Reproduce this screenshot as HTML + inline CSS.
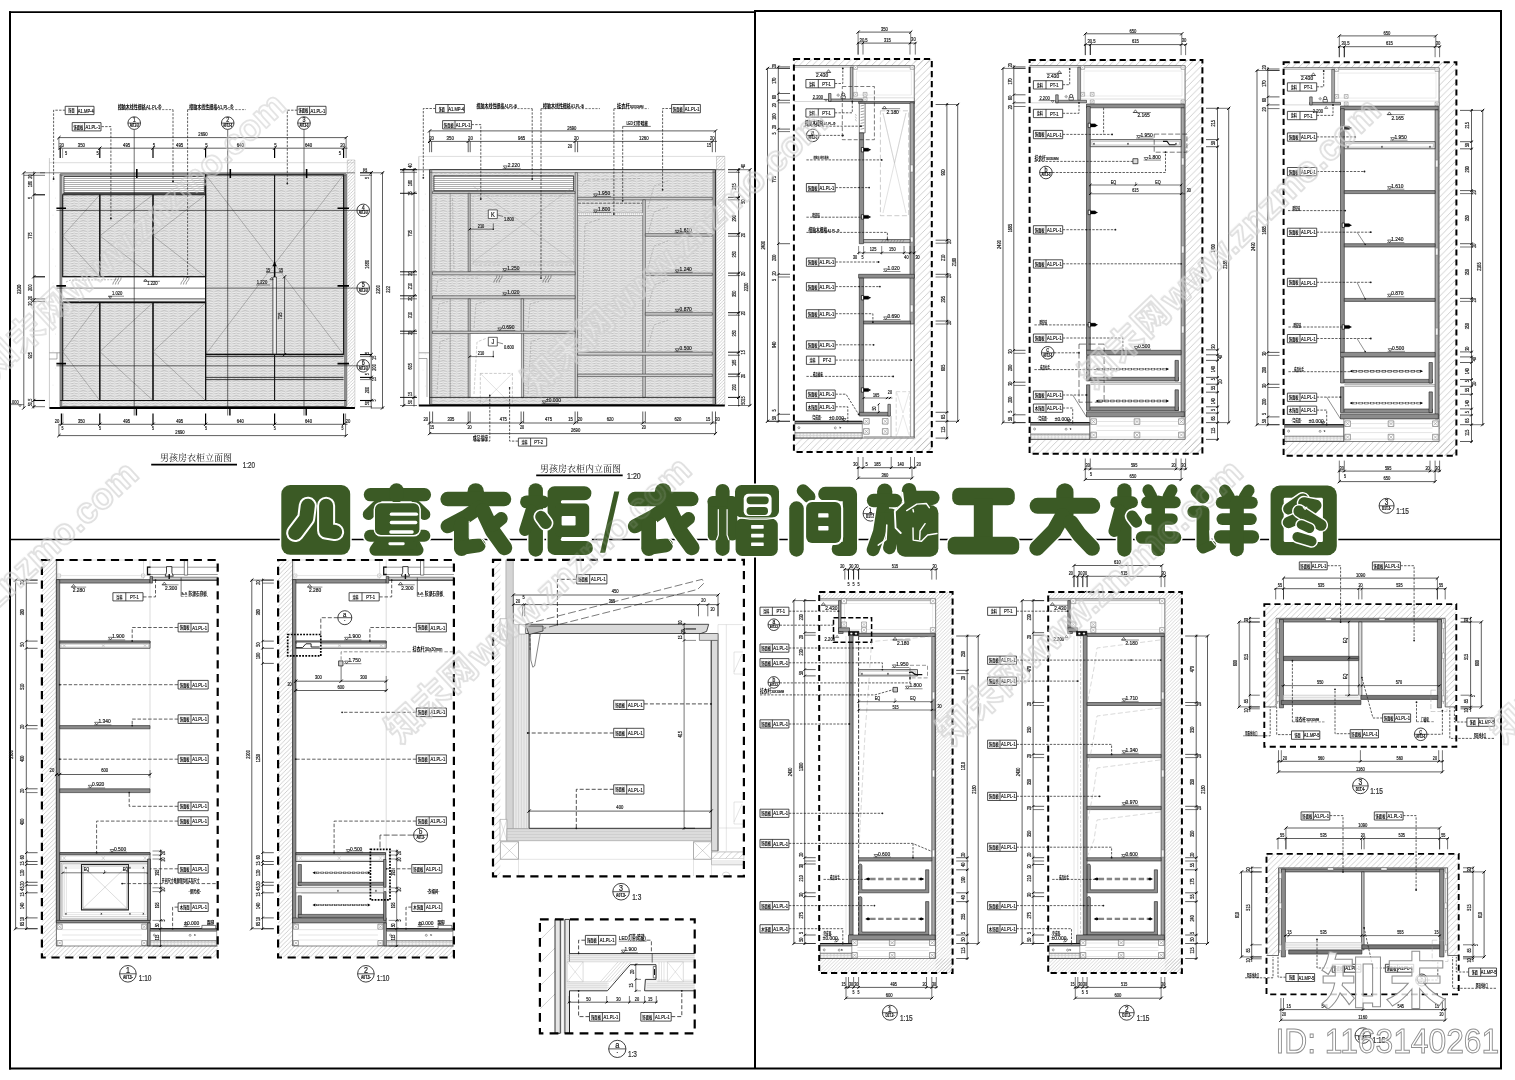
<!DOCTYPE html>
<html><head><meta charset="utf-8"><title>四套衣柜/衣帽间施工大样详图</title>
<style>html,body{margin:0;padding:0;background:#fff;overflow:hidden}svg{display:block;will-change:opacity}text{font-family:"Liberation Sans",sans-serif;text-anchor:middle;stroke:#222;stroke-width:.22px}.qt{font-family:"Liberation Sans","Noto Sans CJK SC",sans-serif;font-weight:bold;fill:#000;stroke:none;text-anchor:start}.qm{font-family:"Liberation Sans","Noto Sans CJK SC",sans-serif;font-weight:bold;fill:#000;stroke:none;text-anchor:middle}.qs{font-family:"Liberation Serif","Noto Serif CJK SC",serif;fill:#111;stroke:none;text-anchor:start;font-size:9px}.a{stroke:#000;stroke-width:2}.b{stroke:#000;stroke-width:1.7}.c{stroke:#000;stroke-width:1.6}.d{stroke:#999;stroke-width:.5}.e{stroke:#bbb;stroke-width:.5}.f{fill:url(#hatchl);stroke:#999;stroke-width:.4}.g{stroke:#333;stroke-width:.6}.h{fill:#aaa;stroke:none}.i{fill:url(#louv);stroke:#222;stroke-width:.8}.j{stroke:#222;stroke-width:.9}.k{stroke:#888;stroke-width:2}.l{stroke:#555;stroke-width:.6}.m{stroke:#111;stroke-width:1.1}.n{stroke:#666;stroke-width:.4}.o{stroke:#111;stroke-width:1}.p{fill:#fff;stroke:none}.q{stroke:#222;stroke-width:.8}.r{stroke:#777;stroke-dasharray:2 1.2;stroke-width:.5}.s{stroke:#1a1a1a;stroke-width:.6}.t{fill:#222;font-size:5.98px;text-anchor:start}.u{stroke:#1a1a1a;stroke-width:.5}.v{fill:#222;font-size:5.98px}.w{stroke:#111;stroke-width:.8}.x{stroke:#111;stroke-width:1.2}.y{fill:#f4f4f4;stroke:#111;stroke-width:.7}.z{stroke:#000;stroke-width:1.4}.aa{fill:#000;stroke:#000;stroke-width:.5}.ab{fill:#222;font-size:5.17px}.ac{stroke:#1a1a1a;stroke-width:.7}.ad{stroke:#000;stroke-width:1}.ae{fill:#222;font-size:5.71px}.af{stroke:#000;stroke-width:1.8}.ag{stroke:#555;stroke-width:.5}.ah{stroke:#111;stroke-width:.6}.ai{fill:#fff;stroke:#111;stroke-width:.8}.aj{stroke:#111;stroke-width:.7}.ak{fill:#111;font-size:7.28px}.al{fill:#000;font-size:4.46px;font-weight:bold}.am{stroke:#222;stroke-dasharray:2.4 1.3;stroke-width:.72}.an{fill:#1a1a1a;stroke:none}.ao{fill:#fff;stroke:#222;stroke-width:.8}.ap{fill:#000;stroke:none}.aq{fill:#111;font-size:6.12px}.ar{fill:#222;font-size:6.26px;text-anchor:start}.as{stroke:#222;stroke-dasharray:2.2 1.2;stroke-width:.6}.at{stroke:#000;stroke-width:1.2}.au{stroke:#777;stroke-width:.8}.av{fill:#222;font-size:5.44px}.aw{fill:#222;font-size:4.9px}.ax{stroke:#000;stroke-width:1.1}.ay{fill:#111;stroke:none}.az{fill:#333;font-size:8.43px;text-anchor:start}.a0{stroke:#999;stroke-width:2.2}.a1{stroke:#999;stroke-width:2.6}.a2{stroke:#444;stroke-width:.6}.a3{fill:#cfcfcf;stroke:#333;stroke-width:.6}.a4{stroke:#555;stroke-width:.4}.a5{stroke:#888;stroke-dasharray:3 1.5;stroke-width:.4}.a6{stroke:#999;stroke-width:.35}.a7{stroke:#999;stroke-dasharray:3 1.5;stroke-width:.35}.a8{stroke:#999;stroke-dasharray:3 1.5;stroke-width:.5}.a9{stroke:#aaa;stroke-width:.35}.ba{fill:#fff;stroke:#222;stroke-width:.7}.bb{fill:#222;font-size:6.8px}.bc{fill:#222;font-size:5.71px;text-anchor:start}.bd{stroke:#555;stroke-dasharray:3 1.2;stroke-width:.9}.be{stroke:#fff;stroke-dasharray:1.3 0.7;stroke-width:2.2}.bf{fill:#222;font-size:4.6px;text-anchor:start}.bg{fill:#222;font-size:4.4px;text-anchor:start}.bh{stroke:#000;stroke-width:.9}.bi{fill:#222;font-size:5.3px}.bj{stroke:#000;stroke-width:.6}.bk{stroke:#333;stroke-width:.7}.bl{stroke:#666;stroke-width:.5}.bm{stroke:#ccc;stroke-width:.4}.bn{fill:#fff;stroke:#777;stroke-width:.5}.bo{stroke:#777;stroke-width:.35}.bp{fill:#bbb;stroke:#222;stroke-width:.6}.bq{fill:#aaa;stroke:#222;stroke-width:.6}.br{stroke:#999;stroke-width:.4}.bs{stroke:#777;stroke-width:.45}.bt{fill:#fff;stroke:#111;stroke-width:.6}.bu{fill:#8c8c8c;stroke:#222;stroke-width:.6}.bv{fill:#fff;stroke:#222;stroke-width:.6}.bw{stroke:#444;stroke-width:.5}.bx{fill:#fff;stroke:#666;stroke-width:.4}.by{stroke:#222;stroke-dasharray:4 2;stroke-width:.6}.bz{stroke:#999;stroke-dasharray:5 2.5;stroke-width:.5}.b0{stroke:#bbb;stroke-width:.35}.b1{fill:#fff;stroke:#000;stroke-width:.7}.b2{fill:#000;stroke:#000;stroke-width:.3}.b3{stroke:#444;stroke-width:.4}.b4{fill:#fff;stroke:#555;stroke-width:.55}.b5{stroke:#aaa;stroke-dasharray:4 2;stroke-width:.45}.b6{fill:#9a9a9a;stroke:#222;stroke-width:.5}.b7{fill:#fff;stroke:#444;stroke-width:.5}.b8{fill:url(#dots);stroke:#444;stroke-width:.5}.b9{fill:#111;font-size:8.67px}.ca{fill:#000;font-size:5.3px;font-weight:bold}.cb{fill:#e8e8e8;stroke:#222;stroke-width:.7}.cc{fill:#fff;stroke:#888;stroke-width:.4}.cd{fill:#777;font-size:3.4px}.ce{stroke:#222;stroke-dasharray:5 2;stroke-width:.6}.cf{fill:#ddd;stroke:#111;stroke-width:.7}.cg{stroke:#222;stroke-width:.5}.ch{stroke:#444;stroke-dasharray:4.2 1.6;stroke-width:2.4}.ci{stroke:#bbb;stroke-width:.4}.cj{fill:#222;font-size:4.2px;text-anchor:start}.ck{stroke:#222;stroke-dasharray:7 2.5;stroke-width:.6}.cl{stroke:#1a1a1a;stroke-width:1.1}.cm{stroke:#1a1a1a;stroke-width:.1}.cn{fill:#333;font-size:8.16px;text-anchor:start}.co{fill:#fff;stroke:#aaa;stroke-width:.5}.cp{fill:#d2d2d2;stroke:#222;stroke-width:.5}.cq{stroke:#aaa;stroke-width:.4}.cr{stroke:#111;stroke-width:1.3}.cs{stroke:#111;stroke-width:1.4}.ct{fill:#fff;stroke:#333;stroke-width:.6}.cu{stroke:#b0b0b0;stroke-width:.45}.cv{fill:#ececec;stroke:#222;stroke-width:.7}.cw{fill:#fff;stroke:#999;stroke-width:.4}.cx{fill:#999;stroke:#222;stroke-width:.6}.cy{stroke:#222;stroke-dasharray:2.5 1.2;stroke-width:.5}.cz{stroke:#222;stroke-dasharray:3.5 1.8;stroke-width:.72}.c0{fill:#111;font-size:9.59px}.c1{fill:#000;font-size:5.87px;font-weight:bold}.c2{fill:#999;font-size:3.2px}.c3{fill:#fff;stroke:#222;stroke-width:1.1}.c4{fill:#111;font-size:8.09px}.c5{fill:#000;font-size:4.95px;font-weight:bold}.c6{stroke:#222;stroke-dasharray:4 2;stroke-width:.72}.c7{fill:#222;font-size:5.6px;text-anchor:start}.c8{stroke:#666;stroke-dasharray:3.5 1.8;stroke-width:.72}.c9{fill:#ccc;stroke:#111;stroke-width:.7}.da{stroke:#444;stroke-dasharray:3.2 1.3;stroke-width:2}.db{fill:#f2f2f2;stroke:#444;stroke-width:.5}.dc{stroke:#222;stroke-dasharray:6 2;stroke-width:.72}.dd{fill:#d4d4d4;stroke:#888;stroke-width:.5}.de{fill:#e9e9e9;stroke:#999;stroke-width:.5}.df{stroke:#b5b5b5;stroke-width:.4}.dg{fill:#fff;stroke:#888;stroke-width:.5}.dh{fill:#dcdcdc;stroke:#888;stroke-width:.5}.di{fill:#dcdcdc;stroke:#555;stroke-width:.6}.dj{fill:#dcdcdc;stroke:#444;stroke-width:.6}.dk{stroke:#444;stroke-width:.9}.dl{stroke:#222;stroke-dasharray:8 3;stroke-width:.6}.dm{stroke:#333;stroke-dasharray:3 1.5;stroke-width:.7}.dn{stroke:#888;stroke-width:.5}.do{fill:#fff;stroke:#777;stroke-width:.6}.dp{stroke:#1a1a1a;stroke-width:.8}.dq{fill:#222;font-size:4.62px}.dr{stroke:#222;stroke-dasharray:4 2;stroke-width:.8}.ds{stroke:#999;stroke-width:.45}.dt{fill:#e6e6e6;stroke:#222;stroke-width:.9}.du{fill:#f0f0f0;stroke:none}.dv{fill:#fff;stroke:#bbb;stroke-width:.5}.dw{fill:#222;font-size:6.2px;text-anchor:start}.dx{fill:#111;font-size:9.94px}.dy{fill:#000;font-size:6.08px;font-weight:bold}.dz{fill:#fff;stroke:#666;stroke-width:.5}.d0{stroke:#666;stroke-width:.35}.d1{fill:#111;stroke:#000;stroke-width:.6}.d2{fill:#fff;stroke:#000;stroke-width:.3}.d3{stroke:#111;stroke-dasharray:3.6 1.6;stroke-width:.8}.d4{stroke:#aaa;stroke-dasharray:5 2.5;stroke-width:.45}.d5{fill:#777;font-size:3.2px}.d6{stroke:#444;stroke-dasharray:4 2;stroke-width:.55}.d7{stroke:#858585;stroke-dasharray:5.4 2.6;stroke-width:2.3}.d8{fill:#000;stroke:#000;stroke-width:.2}.d9{fill:#111;font-size:6.7px}.ea{fill:#000;font-size:4.1px;font-weight:bold}.eb{stroke:#1a1a1a;stroke-width:1}.ec{stroke:#999;stroke-dasharray:3 1.6;stroke-width:.5}.ed{fill:#fff;stroke:#555;stroke-width:.45}.ee{fill:#ddd;stroke:#222;stroke-width:.6}.ef{fill:#777;stroke:#222;stroke-width:.6}.eg{fill:#f3f3f3;stroke:#999;stroke-width:.4}.eh{stroke:#999;stroke-dasharray:5 2;stroke-width:.45}.ei{fill:#111;font-size:9.02px}.ej{fill:#000;font-size:5.52px;font-weight:bold}.ek{fill:#222;font-size:5.03px}.el{stroke:#aaa;stroke-dasharray:5 2;stroke-width:.45}.em{fill:#111;font-size:6.94px}.en{fill:#000;font-size:4.24px;font-weight:bold}</style></head>
<body>
<svg width="1515" height="1080" viewBox="0 0 1515 1080" fill="none">
<defs><g id="q0"><text class="qm" transform="scale(.6204 1)" style="font-size:4.9px">饰面</text></g><g id="w0"><path class="ao" d="M0 0h28.8v8.3h-28.8z"/><path class="q" d="M12.4 0V8.3"/><use href="#q0" x="6.2" y="6"/><text class="aq" transform="matrix(.67 0 0 1 20.6 6.2)">A1.MP-4</text></g><g id="q2"><text class="qm" transform="scale(.6796 1)" style="font-size:4.9px">饰面板</text></g><g id="w1"><path class="ao" d="M0 0h28.8v8.3h-28.8z"/><path class="q" d="M12.4 0V8.3"/><use href="#q2" x="6.2" y="6"/><text class="aq" transform="matrix(.67 0 0 1 20.6 6.2)">A1.PL-1</text></g><g id="q4"><text class="qt" transform="scale(.6988 1)" style="font-size:5.71px">樟脑木线性栅格</text></g><g id="q5"><text class="qs">男孩房衣柜立面图</text></g><g id="q6"><text class="qt" transform="scale(.7356 1)" style="font-size:5.71px">挂衣杆</text></g><g id="q7"><text class="qt" transform="scale(.7347 1)" style="font-size:4.9px">灯带暗藏</text></g><g id="q8"><text class="qt" transform="scale(.7358 1)" style="font-size:5.3px">成品插座</text></g><g id="q9"><text class="qm" transform="scale(.6204 1)" style="font-size:4.9px">涂料</text></g><g id="w2"><path class="ao" d="M0 0h28.3v8h-28.3z"/><path class="q" d="M12.2 0V8"/><use href="#q9" x="6.1" y="5.8"/><text class="aq" transform="matrix(.67 0 0 1 20.2 6)">PT-2</text></g><g id="q11"><text class="qs">男孩房衣柜内立面图</text></g><g id="w3"><path class="ao" d="M0 0h28.8v8.3h-28.8z"/><path class="q" d="M12.4 0V8.3"/><use href="#q9" x="6.2" y="6"/><text class="aq" transform="matrix(.67 0 0 1 20.6 6.2)">PT-1</text></g><g id="q13"><text class="qt" transform="scale(.735 1)" style="font-size:5.17px">樟脑木栅格</text></g><g id="q14"><text class="qt" transform="scale(.681 1)" style="font-size:3.2px">樟脑木线性栅格</text></g><g id="q15"><text class="qt" transform="scale(.5143 1)" style="font-size:4.9px">暗铰链</text></g><g id="w4"><path class="ao" d="M0 0h28.8v8.3h-28.8z"/><path class="q" d="M12.4 0V8.3"/><use href="#q9" x="6.2" y="6"/><text class="aq" transform="matrix(.67 0 0 1 20.6 6.2)">PT-2</text></g><g id="q17"><text class="qt" transform="scale(.552 1)" style="font-size:4.62px">成品插座</text></g><g id="q18"><text class="qm" transform="scale(.6796 1)" style="font-size:4.9px">木饰面</text></g><g id="w5"><path class="ao" d="M0 0h28.8v8.3h-28.8z"/><path class="q" d="M12.4 0V8.3"/><use href="#q18" x="6.2" y="6"/><text class="aq" transform="matrix(.67 0 0 1 20.6 6.2)">A1.PL-1</text></g><g id="q20"><text class="qt" transform="scale(.5887 1)" style="font-size:4.62px">-完成面-</text></g><g id="w6"><path class="ao" d="M0 0h29.3v8.3h-29.3z"/><path class="q" d="M12.6 0V8.3"/><use href="#q9" x="6.3" y="6"/><text class="aq" transform="matrix(.67 0 0 1 20.9 6.2)">PT-1</text></g><g id="w7"><path class="ao" d="M0 0h29.3v8.3h-29.3z"/><path class="q" d="M12.6 0V8.3"/><use href="#q2" x="6.3" y="6"/><text class="aq" transform="matrix(.67 0 0 1 20.9 6.2)">A1.PL-1</text></g><g id="q23"><text class="qt" transform="scale(.735 1)" style="font-size:5.17px">挂衣杆</text></g><g id="q24"><text class="qt" transform="scale(.552 1)" style="font-size:4.62px">成品拉手</text></g><g id="w8"><path class="ao" d="M0 0h29.3v8.3h-29.3z"/><path class="q" d="M12.6 0V8.3"/><use href="#q18" x="6.3" y="6"/><text class="aq" transform="matrix(.67 0 0 1 20.9 6.2)">A1.PL-1</text></g><g id="q26"><text class="qt" transform="scale(.7356 1)" style="font-size:5.03px">防潮石膏板</text></g><g id="w9"><path class="ao" d="M0 0h30.1v8.2h-30.1z"/><path class="q" d="M12.9 0V8.2"/><use href="#q9" x="6.5" y="5.9"/><text class="aq" transform="matrix(.67 0 0 1 21.5 6.1)">PT-1</text></g><g id="w10"><path class="ao" d="M0 0h30.1v8.6h-30.1z"/><path class="q" d="M12.9 0V8.6"/><use href="#q18" x="6.5" y="6.1"/><text class="aq" transform="matrix(.67 0 0 1 21.5 6.3)">A1.PL-1</text></g><g id="q29"><text class="qt" transform="scale(.7347 1)" style="font-size:4.9px">踢脚</text></g><g id="w11"><path class="ao" d="M0 0h30.1v8.6h-30.1z"/><path class="q" d="M12.9 0V8.6"/><use href="#q2" x="6.5" y="6.1"/><text class="aq" transform="matrix(.67 0 0 1 21.5 6.3)">A1.PL-1</text></g><g id="q31"><text class="qt" transform="scale(.632 1)" style="font-size:4.62px">开间尺寸根据保险柜实际尺寸</text></g><g id="q32"><text class="qt" transform="scale(.698 1)" style="font-size:4.9px">-保险柜-</text></g><g id="q33"><text class="qt" transform="scale(.7353 1)" style="font-size:5.44px">挂衣杆</text></g><g id="q34"><text class="qt" transform="scale(.698 1)" style="font-size:4.9px">-衣帽间-</text></g><g id="w12"><path class="ao" d="M0 0h30.2v9.3h-30.2z"/><path class="q" d="M13 0V9.3"/><use href="#q2" x="6.5" y="6.5"/><text class="aq" transform="matrix(.67 0 0 1 21.6 6.7)">A1.PL-1</text></g><g id="w13"><path class="ao" d="M0 0h30.4v9.4h-30.4z"/><path class="q" d="M13.1 0V9.4"/><use href="#q2" x="6.5" y="6.5"/><text class="aq" transform="matrix(.67 0 0 1 21.7 6.7)">A1.PL-1</text></g><g id="q37"><text class="qt" transform="scale(.6022 1)" style="font-size:6.26px">灯带(暗藏)</text></g><g id="w14"><path class="ao" d="M0 0h30.4v8.6h-30.4z"/><path class="q" d="M13.1 0V8.6"/><use href="#q2" x="6.5" y="6.1"/><text class="aq" transform="matrix(.67 0 0 1 21.7 6.3)">A1.PL-1</text></g><g id="w15"><path class="ao" d="M0 0h28.9v8.2h-28.9z"/><path class="q" d="M12.4 0V8.2"/><use href="#q9" x="6.2" y="5.9"/><text class="aq" transform="matrix(.67 0 0 1 20.7 6.1)">PT-1</text></g><g id="w16"><path class="ao" d="M0 0h28.9v8.2h-28.9z"/><path class="q" d="M12.4 0V8.2"/><use href="#q2" x="6.2" y="5.9"/><text class="aq" transform="matrix(.67 0 0 1 20.7 6.1)">A1.PL-1</text></g><g id="w17"><path class="ao" d="M0 0h28.9v8.2h-28.9z"/><path class="q" d="M12.4 0V8.2"/><use href="#q18" x="6.2" y="5.9"/><text class="aq" transform="matrix(.67 0 0 1 20.7 6.1)">A1.PL-1</text></g><g id="q42"><text class="qt" transform="scale(.5885 1)" style="font-size:4.35px">-完成面-</text></g><g id="w18"><path class="ao" d="M0 0h27.9v7.9h-27.9z"/><path class="q" d="M12 0V7.9"/><use href="#q2" x="6" y="5.8"/><text class="aq" transform="matrix(.67 0 0 1 19.9 6)">A1.PL-1</text></g><g id="w19"><path class="ao" d="M0 0h28v7.9h-28z"/><path class="q" d="M12 0V7.9"/><use href="#q2" x="6" y="5.8"/><text class="aq" transform="matrix(.67 0 0 1 20 6)">A1.PL-1</text></g><g id="w20"><path class="ao" d="M0 0h28.3v8.4h-28.3z"/><path class="q" d="M12.2 0V8.4"/><use href="#q0" x="6.1" y="6"/><text class="aq" transform="matrix(.67 0 0 1 20.2 6.2)">A1.MP-5</text></g><g id="w21"><path class="ao" d="M0 0h28.3v8.4h-28.3z"/><path class="q" d="M12.2 0V8.4"/><use href="#q2" x="6.1" y="6"/><text class="aq" transform="matrix(.67 0 0 1 20.2 6.2)">A1.PL-1</text></g><g id="w22"><path class="ao" d="M0 0h28v8.3h-28z"/><path class="q" d="M12 0V8.3"/><use href="#q2" x="6" y="6"/><text class="aq" transform="matrix(.67 0 0 1 20 6.2)">A1.PL-1</text></g><g id="q48"><text class="qt" transform="scale(.7347 1)" style="font-size:4.9px">挂衣杆</text></g><g id="q49"><text class="qt" transform="scale(.552 1)" style="font-size:4.62px">门磁吸</text></g><g id="w23"><path class="ao" d="M0 0h27.4v8.3h-27.4z"/><path class="q" d="M11.8 0V8.3"/><use href="#q0" x="5.9" y="6"/><text class="aq" transform="matrix(.67 0 0 1 19.6 6.2)">A1.MP-5</text></g><g id="q51"><text class="qt" transform="scale(.5303 1)" style="font-size:4.62px">阴影线收口</text></g><g id="w24"><path class="ao" d="M0 0h28.7v8.1h-28.7z"/><path class="q" d="M12.3 0V8.1"/><use href="#q2" x="6.2" y="5.9"/><text class="aq" transform="matrix(.67 0 0 1 20.5 6)">A1.PL-1</text></g><g id="w25"><path class="ao" d="M0 0h28.8v8.1h-28.8z"/><path class="q" d="M12.4 0V8.1"/><use href="#q2" x="6.2" y="5.9"/><text class="aq" transform="matrix(.67 0 0 1 20.6 6)">A1.PL-1</text></g><g id="w26"><path class="ao" d="M0 0h28.7v8h-28.7z"/><path class="q" d="M12.3 0V8"/><use href="#q0" x="6.2" y="5.8"/><text class="aq" transform="matrix(.67 0 0 1 20.5 6)">A1.MP-5</text></g><g id="w27"><path class="ao" d="M0 0h28.7v7.9h-28.7z"/><path class="q" d="M12.3 0V7.9"/><use href="#q2" x="6.2" y="5.8"/><text class="aq" transform="matrix(.67 0 0 1 20.5 6)">A1.PL-1</text></g><g id="w28"><path class="ao" d="M0 0h28.3v7.9h-28.3z"/><path class="q" d="M12.2 0V7.9"/><use href="#q2" x="6.1" y="5.8"/><text class="aq" transform="matrix(.67 0 0 1 20.2 6)">A1.PL-1</text></g><g id="w29"><path class="ao" d="M0 0h27.8v8.3h-27.8z"/><path class="q" d="M12 0V8.3"/><use href="#q0" x="6" y="6"/><text class="aq" transform="matrix(.67 0 0 1 19.9 6.2)">A1.MP-5</text></g><g id="wm0" fill="#fff" fill-opacity=".16" stroke="#cdcdcd" stroke-opacity=".55" stroke-width="1.8" stroke-linejoin="round"><text x="0" y="0" style="font-family:'Liberation Sans','Noto Sans CJK SC',sans-serif;font-size:36px;font-weight:bold;text-anchor:start;letter-spacing:.8px;fill:#fff;fill-opacity:.16;stroke:#cdcdcd;stroke-opacity:.55;stroke-width:1.8px">知末网</text><text x="111.4" y="0" style="font-size:36px;font-weight:bold;text-anchor:start;fill:#fff;fill-opacity:.16;stroke:#cdcdcd;stroke-opacity:.55;stroke-width:1.8px">www.znzmo.com</text></g>
<pattern id="hatchl" width="3.2" height="3.2" patternUnits="userSpaceOnUse"><path d="M-1 4.2L4.2 -1M-1 1L1 -1M2.2 4.2L4.2 2.2" stroke="#9a9a9a" stroke-width="0.45"/></pattern>
<pattern id="hatchm" width="4.4" height="4.4" patternUnits="userSpaceOnUse"><path d="M-1 5.4L5.4 -1M-1 1L1 -1M3.4000000000000004 5.4L5.4 3.4000000000000004" stroke="#a8a8a8" stroke-width="0.55"/></pattern>
<pattern id="hatchd" width="3.5" height="3.5" patternUnits="userSpaceOnUse"><path d="M-1 4.5L4.5 -1M-1 1L1 -1M2.5 4.5L4.5 2.5" stroke="#b0b0b0" stroke-width="0.5"/></pattern>
<pattern id="hatchp" width="5.5" height="5.5" patternUnits="userSpaceOnUse"><path d="M-1 6.5L6.5 -1M-1 1L1 -1M4.5 6.5L6.5 4.5" stroke="#a8a8a8" stroke-width="0.55"/></pattern>
<pattern id="hatch" width="6.6" height="6.6" patternUnits="userSpaceOnUse"><path d="M-1 7.6L7.6 -1M-1 1L1 -1M5.6 7.6L7.6 5.6" stroke="#a8a8a8" stroke-width="0.55"/></pattern>
<pattern id="dots" width="3.4" height="2.6" patternUnits="userSpaceOnUse"><rect width="3.4" height="2.6" fill="#f2f2f2"/><circle cx="1" cy="1.3" r="0.7" fill="none" stroke="#999" stroke-width="0.35"/><path d="M2 1.3h1.2" stroke="#aaa" stroke-width="0.35"/></pattern>
<pattern id="louv" width="4" height="2" patternUnits="userSpaceOnUse"><rect width="4" height="2" fill="#fff"/><path d="M0 0.5H4" stroke="#9a9a9a" stroke-width="0.8"/></pattern>
<pattern id="wood" width="9" height="5" patternUnits="userSpaceOnUse"><rect width="9" height="5" fill="#e0e0e0"/><path d="M0 1.2q2.2 -1.4 4.5 0t4.5 0M0 3.7q2.2 -1.4 4.5 0t4.5 0" stroke="#aaa" stroke-width="0.55" fill="none"/><path d="M0 2.4q2.2 1.2 4.5 0t4.5 0M0 4.9q2.2 1.2 4.5 0t4.5 0" stroke="#f6f6f6" stroke-width="0.5" fill="none"/></pattern>
</defs>
<path class="a" d="M10 11.3V1069.4"/>
<path class="b" d="M9 12.2H755"/>
<path class="a" d="M754 11H1502M1501 10V1069.4M9 1068.4H1502M755 11V1068.4"/>
<path class="c" d="M10 539.5H1501"/>
<path class="d" d="M49.4 158V408"/>
<path class="e" d="M49.4 162.7H354.9"/>
<path class="f" d="M347.3 160h7.6v248h-7.6z"/>
<path class="g" d="M40 172.8H354.9"/>
<circle class="h" cx="53" cy="181" r=".35"/>
<circle class="h" cx="55.5" cy="198" r=".35"/>
<circle class="h" cx="53" cy="215" r=".35"/>
<circle class="h" cx="55.5" cy="232" r=".35"/>
<circle class="h" cx="53" cy="249" r=".35"/>
<circle class="h" cx="55.5" cy="266" r=".35"/>
<circle class="h" cx="53" cy="283" r=".35"/>
<circle class="h" cx="55.5" cy="300" r=".35"/>
<circle class="h" cx="53" cy="317" r=".35"/>
<circle class="h" cx="55.5" cy="334" r=".35"/>
<circle class="h" cx="53" cy="351" r=".35"/>
<circle class="h" cx="55.5" cy="368" r=".35"/>
<circle class="h" cx="53" cy="385" r=".35"/>
<circle class="h" cx="55.5" cy="402" r=".35"/>
<rect x="62.7" y="194.8" width="142.9" height="82.0" fill="url(#wood)" stroke="none"/>
<rect x="62.7" y="302.6" width="142.9" height="97.9" fill="url(#wood)" stroke="none"/>
<rect x="205.6" y="174.8" width="138.0" height="225.7" fill="url(#wood)" stroke="none"/>
<rect x="62.7" y="400.5" width="280.9" height="6.2" fill="url(#wood)" stroke="none"/>
<path class="i" d="M63.9 176.5h140.5v16.3h-140.5z"/>
<path class="j" d="M60.2 174h285.9v232.7h-285.9z"/>
<path class="k" d="M61.4 174V406.5M344.9 174V406.5"/>
<path class="l" d="M60.2 175.6H346.1"/>
<path class="m" d="M62.7 194.8h37.1v82h-37.1zM62.7 302.6h37.1v97.9h-37.1z"/>
<path class="n" d="M99.8 194.8L62.7 235.8L99.8 276.8M99.8 302.6L62.7 351.6L99.8 400.5"/>
<path class="m" d="M99.8 194.8h53.2v82h-53.2zM99.8 302.6h53.2v97.9h-53.2z"/>
<path class="n" d="M153 194.8L99.8 235.8L153 276.8M153 302.6L99.8 351.6L153 400.5"/>
<path class="m" d="M153 194.8h52.6v82h-52.6zM153 302.6h52.6v97.9h-52.6z"/>
<path class="n" d="M205.6 194.8L153 235.8L205.6 276.8M205.6 302.6L153 351.6L205.6 400.5"/>
<path class="o" d="M62.7 193.8H205.6"/>
<path class="p" d="M62.7 277.2h142.9v21.6h-142.9z"/>
<path class="o" d="M62.7 276.8H205.6"/>
<path class="q" d="M62.7 298.9H205.6M62.7 301.4H205.6"/>
<path class="r" d="M66 282L70 280.2L118 279.6"/>
<path d="M116.0 277.5 q-0.2 2.5 -1.6 3.6 q-1.2 1 -1.6 3.4" stroke="#333" stroke-width="0.5" fill="none"/>
<path d="M118.6 277.5 q-0.2 2.5 -1.6 3.6 q-1.2 1 -1.6 3.4" stroke="#333" stroke-width="0.5" fill="none"/>
<path d="M121.2 277.5 q-0.2 2.5 -1.6 3.6 q-1.2 1 -1.6 3.4" stroke="#333" stroke-width="0.5" fill="none"/>
<path d="M184.0 277.5 q-0.2 2.5 -1.6 3.6 q-1.2 1 -1.6 3.4" stroke="#333" stroke-width="0.5" fill="none"/>
<path d="M186.6 277.5 q-0.2 2.5 -1.6 3.6 q-1.2 1 -1.6 3.4" stroke="#333" stroke-width="0.5" fill="none"/>
<path d="M189.2 277.5 q-0.2 2.5 -1.6 3.6 q-1.2 1 -1.6 3.4" stroke="#333" stroke-width="0.5" fill="none"/>
<path class="s" d="M145.4 279L143.8 281.2L147 281.2Z"/>
<text class="t" transform="matrix(.698 0 0 1 147.2 285.3)">1.220</text>
<path class="u" d="M143.5 281.3H160"/>
<text class="v" transform="matrix(.698 0 0 1 117.2 295.4)">1.020</text>
<path class="u" d="M108 296.2H124"/>
<path class="s" d="M110.2 298.6L108.7 296.4L111.7 296.4Z"/>
<path class="m" d="M205.6 174.8h69v179.8h-69zM274.6 174.8h69v179.8h-69z"/>
<path class="n" d="M205.6 174.8L274.6 264L205.6 354.6M343.6 174.8L274.6 264L343.6 354.6"/>
<path class="w" d="M205.6 354.1H343.6M205.6 356.6H343.6M205.6 377.4H343.6M205.6 379.6H343.6"/>
<path class="m" d="M274.6 354V400.5"/>
<path class="x" d="M205.6 174.8V400.5"/>
<path class="y" d="M272.9 277h3.5v77h-3.5z"/>
<path class="z" d="M274.6 262V277"/>
<path class="aa" d="M274.6 262.5L272.8 266L276.4 266Z"/>
<text class="ab" transform="matrix(.725 0 0 1 268 271.6)">15</text>
<text class="ab" transform="matrix(.725 0 0 1 281 271.6)">15</text>
<path class="u" d="M266 272.6H283"/>
<path class="s" d="M271.5 277.4L269.9 279.6L273.1 279.6Z"/>
<text class="v" transform="matrix(.698 0 0 1 262 284.2)">1.220</text>
<path class="u" d="M256 285H270"/>
<path class="ac" d="M284.6 276.8V354.6"/>
<path class="ad" d="M283 278.4l3.2 -3.2M283 356.2l3.2 -3.2"/>
<text class="ae" transform="matrix(0 -.725 1 0 281.8 316)">735</text>
<path class="o" d="M60.2 400.5H346.1"/>
<path class="g" d="M60.2 406.7H346.1"/>
<path class="af" d="M49.4 408H354.9"/>
<path class="ag" d="M49.4 352.8L60.2 352.8M49.4 359L57 359L57 352.8"/>
<path class="ah" d="M134.2 129.4V415.5"/>
<path class="c" d="M136.8 169V178"/>
<path class="z" d="M136.4 408V415.5"/>
<circle class="ai" cx="134.2" cy="123.1" r="6.3"/>
<path class="aj" d="M127.9 123.1H140.5"/>
<text class="ak" transform="matrix(.744 0 0 1 134.2 122.3)">1</text>
<text class="al" transform="matrix(.577 0 0 1 134.2 127)">A0T.2-3</text>
<path class="ah" d="M227.7 129.4V415.5"/>
<path class="c" d="M230.3 169V178"/>
<path class="z" d="M229.9 408V415.5"/>
<circle class="ai" cx="227.7" cy="123.1" r="6.3"/>
<path class="aj" d="M221.4 123.1H234"/>
<text class="ak" transform="matrix(.744 0 0 1 227.7 122.3)">2</text>
<text class="al" transform="matrix(.577 0 0 1 227.7 127)">A0T.2-3</text>
<path class="ah" d="M304 129.4V415.5"/>
<path class="c" d="M306.6 169V178"/>
<path class="z" d="M306.2 408V415.5"/>
<circle class="ai" cx="304" cy="123.1" r="6.3"/>
<path class="aj" d="M297.7 123.1H310.3"/>
<text class="ak" transform="matrix(.744 0 0 1 304 122.3)">3</text>
<text class="al" transform="matrix(.577 0 0 1 304 127)">A0T.2-3</text>
<path class="ah" d="M56.4 210.4H356.9"/>
<path class="c" d="M56.4 208.2H66M337.5 208.2H349"/>
<circle class="ai" cx="363.2" cy="210.4" r="6.3"/>
<path class="aj" d="M356.9 210.4H369.5"/>
<text class="ak" transform="matrix(.744 0 0 1 363.2 209.6)">4</text>
<text class="al" transform="matrix(.577 0 0 1 363.2 214.3)">A0T.2-3</text>
<path class="ah" d="M56.4 288.1H356.9"/>
<path class="c" d="M56.4 285.9H66M337.5 285.9H349"/>
<circle class="ai" cx="363.2" cy="288.1" r="6.3"/>
<path class="aj" d="M356.9 288.1H369.5"/>
<text class="ak" transform="matrix(.744 0 0 1 363.2 287.3)">5</text>
<text class="al" transform="matrix(.577 0 0 1 363.2 292)">A0T.2-3</text>
<path class="ah" d="M56.4 365.8H356.9"/>
<path class="c" d="M56.4 363.6H66M337.5 363.6H349"/>
<circle class="ai" cx="363.2" cy="365.8" r="6.3"/>
<path class="aj" d="M356.9 365.8H369.5"/>
<text class="ak" transform="matrix(.744 0 0 1 363.2 365)">6</text>
<text class="al" transform="matrix(.577 0 0 1 363.2 369.7)">A0T.2-3</text>
<path class="am" d="M65.2 110.2L53.6 110.2L53.6 179"/>
<circle class="an" cx="53.6" cy="179" r=".9"/>
<use href="#w0" x="65.2" y="106.3"/>
<path class="am" d="M101.5 126.6L110.9 126.6L110.9 218.5"/>
<circle class="an" cx="110.9" cy="218.5" r=".9"/>
<use href="#w1" x="72.2" y="122.6"/>
<path class="am" d="M297.2 110.2L287.3 110.2L287.3 183.6"/>
<circle class="an" cx="287.3" cy="183.6" r=".9"/>
<use href="#w1" x="297.2" y="106.3"/>
<use href="#q4" x="117.9" y="108.6"/>
<text class="ar" transform="matrix(.651 0 0 1 145.9 108.6)">A1.PL-⑤</text>
<path class="as" d="M117.9 109.6H173"/>
<path class="am" d="M173 109.6L173 181.5"/>
<circle class="an" cx="173" cy="181.5" r=".9"/>
<use href="#q4" x="189.3" y="108.6"/>
<text class="ar" transform="matrix(.651 0 0 1 217.3 108.6)">A1.PL-⑤</text>
<path class="as" d="M187.6 109.6H246"/>
<path class="am" d="M187.6 109.6L187.6 276.8"/>
<circle class="an" cx="187.6" cy="276.8" r=".9"/>
<path class="ac" d="M58.9 137.6H346.1"/>
<path class="ad" d="M57.3 139.2l3.2 -3.2M344.5 139.2l3.2 -3.2"/>
<text class="v" transform="matrix(.698 0 0 1 203 136.4)">2690</text>
<path class="ac" d="M58.9 148.2H347.5"/>
<path class="ad" d="M58.6 149.8l3.2 -3.2"/>
<path class="at" d="M60.2 148.2V158"/>
<path class="ad" d="M98.2 149.8l3.2 -3.2"/>
<path class="at" d="M99.8 148.2V158"/>
<path class="ad" d="M151.4 149.8l3.2 -3.2"/>
<path class="at" d="M153 148.2V158"/>
<path class="ad" d="M204 149.8l3.2 -3.2"/>
<path class="at" d="M205.6 148.2V158"/>
<path class="ad" d="M273 149.8l3.2 -3.2"/>
<path class="at" d="M274.6 148.2V158"/>
<path class="ad" d="M342 149.8l3.2 -3.2"/>
<path class="at" d="M343.6 148.2V158"/>
<path class="s" d="M58.9 137.6V149M346.1 137.6V158"/>
<path class="au" d="M62.6 148.2V158"/>
<text class="v" transform="matrix(.725 0 0 1 61.6 146.6)">20</text>
<text class="v" transform="matrix(.725 0 0 1 81.4 146.6)">350</text>
<text class="v" transform="matrix(.725 0 0 1 126.6 146.6)">495</text>
<text class="v" transform="matrix(.725 0 0 1 153.9 146.6)">5</text>
<text class="v" transform="matrix(.725 0 0 1 179.6 146.6)">495</text>
<text class="v" transform="matrix(.725 0 0 1 206.5 146.6)">5</text>
<text class="v" transform="matrix(.725 0 0 1 240.3 146.6)">640</text>
<text class="v" transform="matrix(.725 0 0 1 275.4 146.6)">5</text>
<text class="v" transform="matrix(.725 0 0 1 308.5 146.6)">640</text>
<text class="v" transform="matrix(.725 0 0 1 342.6 146.6)">20</text>
<text class="av" transform="matrix(.725 0 0 1 66 154.6)">5</text>
<text class="av" transform="matrix(.725 0 0 1 97.6 154.6)">5</text>
<text class="av" transform="matrix(.725 0 0 1 339.8 154.6)">5</text>
<path class="ac" d="M58.9 424.3H347.5"/>
<path class="ad" d="M59.8 425.9l3.2 -3.2"/>
<path class="at" d="M61.4 413.5V424.3"/>
<path class="ad" d="M98.2 425.9l3.2 -3.2"/>
<path class="at" d="M99.8 413.5V424.3"/>
<path class="ad" d="M151.4 425.9l3.2 -3.2"/>
<path class="at" d="M153 413.5V424.3"/>
<path class="ad" d="M204 425.9l3.2 -3.2"/>
<path class="at" d="M205.6 413.5V424.3"/>
<path class="ad" d="M273 425.9l3.2 -3.2"/>
<path class="at" d="M274.6 413.5V424.3"/>
<path class="ad" d="M342 425.9l3.2 -3.2"/>
<path class="at" d="M343.6 413.5V424.3"/>
<path class="au" d="M62.9 413.5V424.3"/>
<path class="s" d="M345.6 413.5V436"/>
<text class="ae" transform="matrix(.725 0 0 1 57 422.6)">20</text>
<text class="ae" transform="matrix(.725 0 0 1 81.4 422.6)">350</text>
<text class="ae" transform="matrix(.725 0 0 1 126.6 422.6)">495</text>
<text class="ae" transform="matrix(.725 0 0 1 179.6 422.6)">495</text>
<text class="ae" transform="matrix(.725 0 0 1 240.3 422.6)">640</text>
<text class="ae" transform="matrix(.725 0 0 1 308.5 422.6)">640</text>
<text class="ae" transform="matrix(.725 0 0 1 348 422.6)">20</text>
<text class="aw" transform="matrix(.725 0 0 1 62.6 430.4)">5</text>
<text class="aw" transform="matrix(.725 0 0 1 100 430.4)">5</text>
<text class="aw" transform="matrix(.725 0 0 1 153 430.4)">5</text>
<text class="aw" transform="matrix(.725 0 0 1 206 430.4)">5</text>
<text class="aw" transform="matrix(.725 0 0 1 274.8 430.4)">5</text>
<text class="aw" transform="matrix(.725 0 0 1 342.6 430.4)">5</text>
<path class="ac" d="M58.9 435.6H346.1"/>
<path class="ad" d="M57.3 437.2l3.2 -3.2M344.5 437.2l3.2 -3.2"/>
<text class="v" transform="matrix(.698 0 0 1 180 434.4)">2690</text>
<path class="s" d="M58.9 424V436"/>
<path class="ac" d="M23.8 172.8V408"/>
<path class="ad" d="M22.2 174.4l3.2 -3.2M22.2 409.6l3.2 -3.2"/>
<text class="ae" transform="matrix(0 -.725 1 0 21.4 289.4)">2200</text>
<path class="ac" d="M33.8 171.5V408.5"/>
<path class="s" d="M23.8 172.8H45M23.8 175.3H45"/>
<path class="ad" d="M32.2 175.6l3.2 -3.2M32.2 196.4l3.2 -3.2"/>
<path class="ax" d="M33.8 194.8H45"/>
<path class="ad" d="M32.2 278.4l3.2 -3.2"/>
<path class="ax" d="M33.8 276.8H45"/>
<path class="ad" d="M32.2 402.1l3.2 -3.2"/>
<path class="ax" d="M33.8 400.5H45"/>
<path class="s" d="M32 298.9H45M32 301.4H45M32 406.7H45"/>
<path class="ad" d="M32.2 301.6l3.2 -3.2M32.2 408.3l3.2 -3.2"/>
<text class="av" transform="matrix(0 -.725 1 0 31.8 176.5)">20</text>
<text class="av" transform="matrix(0 -.725 1 0 31.8 184)">180</text>
<text class="av" transform="matrix(0 -.725 1 0 31.8 198)">5</text>
<text class="av" transform="matrix(0 -.725 1 0 31.8 235.5)">775</text>
<text class="av" transform="matrix(0 -.725 1 0 31.8 287.6)">200</text>
<text class="av" transform="matrix(0 -.725 1 0 31.8 300.7)">20.20</text>
<text class="av" transform="matrix(0 -.725 1 0 31.8 355.3)">925</text>
<text class="av" transform="matrix(0 -.725 1 0 31.8 402.5)">50.5</text>
<text class="ae" transform="matrix(.698 0 0 1 14.8 403.6)">.000</text>
<path class="u" d="M10 404.6H24M20 406.8L18.6 404.8L21.4 404.8Z"/>
<path class="ac" d="M371.2 171.5V408.5"/>
<path class="ad" d="M369.6 174.4l3.2 -3.2"/>
<path class="ax" d="M360 172.8H372"/>
<path class="ad" d="M369.6 356.2l3.2 -3.2"/>
<path class="ax" d="M360 354.6H372"/>
<path class="ad" d="M369.6 379l3.2 -3.2"/>
<path class="ax" d="M360 377.4H372"/>
<path class="ad" d="M369.6 402.1l3.2 -3.2"/>
<path class="ax" d="M360 400.5H372"/>
<path class="s" d="M360 175.3H372M360 356.6H372M360 379.6H372M360 406.7H372"/>
<path class="ac" d="M382.5 172.8V408"/>
<path class="ad" d="M380.9 174.4l3.2 -3.2M380.9 409.6l3.2 -3.2"/>
<path class="s" d="M371 172.8H384M371 408H384"/>
<text class="av" transform="matrix(0 -.725 1 0 367 170)">20</text>
<text class="av" transform="matrix(0 -.725 1 0 369.4 178)">5</text>
<text class="av" transform="matrix(0 -.725 1 0 369.4 264.3)">1680</text>
<text class="av" transform="matrix(0 -.725 1 0 380.4 289.4)">2200</text>
<text class="av" transform="matrix(0 -.725 1 0 369.4 353)">5</text>
<text class="av" transform="matrix(0 -.725 1 0 376.2 357.8)">15</text>
<text class="av" transform="matrix(0 -.725 1 0 376.2 367.4)">200</text>
<text class="av" transform="matrix(0 -.725 1 0 376.2 379)">15</text>
<text class="av" transform="matrix(0 -.725 1 0 369.4 374.2)">5</text>
<text class="av" transform="matrix(0 -.725 1 0 369.4 390)">200</text>
<text class="av" transform="matrix(0 -.725 1 0 369.4 403)">50</text>
<text class="av" transform="matrix(0 -.725 1 0 376 400.4)">5</text>
<text class="av" transform="matrix(0 -.725 1 0 389.6 289.4)">222</text>
<use href="#q5" x="160" y="461"/>
<path class="af" d="M151.2 464.6H237"/>
<text class="az" transform="matrix(.744 0 0 1 242.8 467.8)">1:20</text>
<path class="d" d="M418.8 156.4V405.5"/>
<path class="e" d="M418.8 156.4H724.8"/>
<path class="f" d="M716.5 156.4h8.3v249.1h-8.3z"/>
<circle class="h" cx="423" cy="178" r=".35"/>
<circle class="h" cx="425.2" cy="194" r=".35"/>
<circle class="h" cx="423" cy="210" r=".35"/>
<circle class="h" cx="425.2" cy="226" r=".35"/>
<circle class="h" cx="423" cy="242" r=".35"/>
<circle class="h" cx="425.2" cy="258" r=".35"/>
<circle class="h" cx="423" cy="274" r=".35"/>
<circle class="h" cx="425.2" cy="290" r=".35"/>
<circle class="h" cx="423" cy="306" r=".35"/>
<circle class="h" cx="425.2" cy="322" r=".35"/>
<circle class="h" cx="423" cy="338" r=".35"/>
<circle class="h" cx="425.2" cy="354" r=".35"/>
<circle class="h" cx="423" cy="370" r=".35"/>
<circle class="h" cx="425.2" cy="386" r=".35"/>
<rect x="430.6" y="172.7" width="283.9" height="230.7" fill="url(#wood)" stroke="none"/>
<path class="j" d="M429.6 169.7h285.9v234.7h-285.9z"/>
<path class="a0" d="M431.2 169.7V404.4"/>
<path class="a1" d="M713.7 169.7V404.4"/>
<path class="a2" d="M429.6 172.3H715.5"/>
<path class="g" d="M400 169.7H724.8"/>
<path class="i" d="M433.9 175.8h139.7v15h-139.7z"/>
<path class="a3" d="M575.1 172.7h2.5v224.7h-2.5z"/>
<path class="a3" d="M432.5 191.6h142.6v2h-142.6z"/>
<path class="a3" d="M468.2 193.3h2v78.5h-2z"/>
<path class="a4" d="M450.2 193.3V271.8"/>
<path class="a5" d="M436 198L434.5 270M452.5 198L454 270"/>
<path class="a6" d="M473 186L574 262L473 262L574 186"/>
<path class="a7" d="M473 196h100.5v69h-100.5z"/>
<path class="a3" d="M432.5 271.8h142.6v3h-142.6z"/>
<path class="a3" d="M432.5 295.8h142.6v3h-142.6z"/>
<path class="a5" d="M436 292L438 280L446 278.5L480 278"/>
<path d="M497.0 275.5 q-0.2 2.5 -1.6 3.6 q-1.2 1 -1.6 3.4" stroke="#333" stroke-width="0.5" fill="none"/>
<path d="M499.6 275.5 q-0.2 2.5 -1.6 3.6 q-1.2 1 -1.6 3.4" stroke="#333" stroke-width="0.5" fill="none"/>
<path d="M502.2 275.5 q-0.2 2.5 -1.6 3.6 q-1.2 1 -1.6 3.4" stroke="#333" stroke-width="0.5" fill="none"/>
<path d="M546.0 275.5 q-0.2 2.5 -1.6 3.6 q-1.2 1 -1.6 3.4" stroke="#333" stroke-width="0.5" fill="none"/>
<path d="M548.6 275.5 q-0.2 2.5 -1.6 3.6 q-1.2 1 -1.6 3.4" stroke="#333" stroke-width="0.5" fill="none"/>
<path d="M551.2 275.5 q-0.2 2.5 -1.6 3.6 q-1.2 1 -1.6 3.4" stroke="#333" stroke-width="0.5" fill="none"/>
<path class="a3" d="M468.2 298.8h2v98.6h-2z"/>
<path class="a3" d="M521.1 298.8h2.5v98.6h-2.5z"/>
<path class="a4" d="M450.2 298.8V397.4"/>
<path class="a3" d="M432.5 331.2h142.6v2.4h-142.6z"/>
<path class="p" d="M470.6 334h50.3v63.4h-50.3z"/>
<path class="a8" d="M480.3 373.4h32.1v32.1h-32.1z"/>
<path class="a9" d="M480.3 373.4L512.4 405.5M512.4 373.4L480.3 405.5"/>
<path class="a5" d="M437 328L439 304L448 301.5M437 394L440 342L450 338M474 328L476 304L485 301.5M474 394L477 342L487 338M528 328L530 304L539 301.5M528 394L531 342L541 338"/>
<path class="ba" d="M488.3 209.9h9v8.7h-9z"/>
<text class="bb" transform="matrix(.837 0 0 1 492.8 216.5)">K</text>
<text class="bc" transform="matrix(.698 0 0 1 504 221.1)">1.800</text>
<path class="u" d="M497.3 214.9L503 216.4"/>
<path class="s" d="M469.7 229.2H493.3"/>
<path class="ad" d="M468.5 230.4l2.4 -2.4"/>
<circle class="an" cx="493.3" cy="229.2" r=".8"/>
<path class="s" d="M493.3 223.4V229.2"/>
<text class="av" transform="matrix(.725 0 0 1 481 227.9)">210</text>
<path class="ba" d="M488.3 337.3h9v8.7h-9z"/>
<text class="bb" transform="matrix(.837 0 0 1 492.8 343.9)">J</text>
<text class="bc" transform="matrix(.698 0 0 1 504 348.5)">0.600</text>
<path class="u" d="M497.3 342.3L503 343.8"/>
<path class="s" d="M469.7 356.6H493.3"/>
<path class="ad" d="M468.5 357.8l2.4 -2.4"/>
<circle class="an" cx="493.3" cy="356.6" r=".8"/>
<path class="s" d="M493.3 350.8V356.6"/>
<text class="av" transform="matrix(.725 0 0 1 481 355.3)">210</text>
<path class="a3" d="M577.6 197.3h134.7v2.5h-134.7z"/>
<path class="bd" d="M578 203.2H642"/>
<path class="a3" d="M642.8 199.8h2.5v197.6h-2.5z"/>
<path class="be" d="M578 214.1H642.8"/>
<path class="n" d="M578 212.9H642.8M578 215.4H642.8"/>
<path class="a3" d="M645.3 233.7h67v2.5h-67z"/>
<path class="a3" d="M645.3 273.1h67v2.5h-67z"/>
<path class="a3" d="M645.3 312.7h67v2.5h-67z"/>
<path class="a3" d="M577.6 352.2h134.7v3h-134.7z"/>
<path class="a3" d="M577.6 374.1h134.7v2.5h-134.7z"/>
<path class="a5" d="M648 208L654 186L668 181M648 234L654 212L668 207M648 268L654 246L668 241M648 307L654 285L668 280M648 347L654 325L668 320M581 350L585 224L600 219M582 186L586 180L640 178.5"/>
<path class="s" d="M505.3 168.6L503.3 165.9L507.3 165.9Z"/>
<text class="t" transform="matrix(.818 0 0 1 507.7 167.2)">2.220</text>
<path class="u" d="M502.7 168.4H520.7"/>
<path class="s" d="M595.6 196.6L593.6 193.9L597.6 193.9Z"/>
<text class="t" transform="matrix(.818 0 0 1 598 195.2)">1.950</text>
<path class="u" d="M593 196.4H611"/>
<path class="s" d="M595.6 212.6L593.6 209.9L597.6 209.9Z"/>
<text class="t" transform="matrix(.818 0 0 1 598 211.2)">1.800</text>
<path class="u" d="M593 212.4H611"/>
<path class="s" d="M677.2 233L675.2 230.3L679.2 230.3Z"/>
<text class="t" transform="matrix(.818 0 0 1 679.6 231.6)">1.610</text>
<path class="u" d="M674.6 232.8H692.6"/>
<path class="s" d="M677.2 272.5L675.2 269.8L679.2 269.8Z"/>
<text class="t" transform="matrix(.818 0 0 1 679.6 271.1)">1.240</text>
<path class="u" d="M674.6 272.3H692.6"/>
<path class="s" d="M677.2 312L675.2 309.3L679.2 309.3Z"/>
<text class="t" transform="matrix(.818 0 0 1 679.6 310.6)">0.870</text>
<path class="u" d="M674.6 311.8H692.6"/>
<path class="s" d="M677.2 351.5L675.2 348.8L679.2 348.8Z"/>
<text class="t" transform="matrix(.818 0 0 1 679.6 350.1)">0.500</text>
<path class="u" d="M674.6 351.3H692.6"/>
<path class="s" d="M504.8 271.3L502.8 268.6L506.8 268.6Z"/>
<text class="t" transform="matrix(.818 0 0 1 507.2 269.9)">1.250</text>
<path class="u" d="M502.2 271.1H520.2"/>
<path class="s" d="M504.8 295.4L502.8 292.7L506.8 292.7Z"/>
<text class="t" transform="matrix(.818 0 0 1 507.2 294)">1.020</text>
<path class="u" d="M502.2 295.2H520.2"/>
<path class="s" d="M499.8 330.6L497.8 327.9L501.8 327.9Z"/>
<text class="t" transform="matrix(.818 0 0 1 502.2 329.2)">0.690</text>
<path class="u" d="M497.2 330.4H515.2"/>
<path class="s" d="M544.2 403.6L542.2 400.9L546.2 400.9Z"/>
<text class="t" transform="matrix(.818 0 0 1 546 402.2)">±0.000</text>
<path class="u" d="M541.6 403.4H559"/>
<path class="j" d="M429.6 397.4H715.5"/>
<path class="af" d="M418.8 405.5H724.8"/>
<path class="ag" d="M418.8 352.8L429.6 352.8M418.8 358.5L427 358.5L427 397"/>
<path class="am" d="M435.6 108.5L423.3 108.5L423.3 177.8"/>
<circle class="an" cx="423.3" cy="177.8" r=".9"/>
<use href="#w0" x="435.6" y="104.5"/>
<path class="am" d="M471.5 124.6L480.8 124.6L480.8 199.1"/>
<circle class="an" cx="480.8" cy="199.1" r=".9"/>
<use href="#w1" x="442.6" y="120.6"/>
<path class="am" d="M671.6 108.5L662.6 108.5L662.6 189.8"/>
<circle class="an" cx="662.6" cy="189.8" r=".9"/>
<use href="#w1" x="671.6" y="104.5"/>
<use href="#q4" x="476.5" y="108"/>
<text class="bf" transform="matrix(.7 0 0 1 504.5 108)">A1.PL-⑤</text>
<path class="as" d="M476.5 108.6H532.2"/>
<path class="am" d="M532.2 108.6L532.2 179"/>
<circle class="an" cx="532.2" cy="179" r=".9"/>
<use href="#q4" x="543" y="108"/>
<text class="bf" transform="matrix(.7 0 0 1 571 108)">A1.PL-⑤</text>
<path class="as" d="M541 108.6H600"/>
<path class="am" d="M541 108.6L541 278.1"/>
<circle class="an" cx="541" cy="278.1" r=".9"/>
<use href="#q6" x="617" y="108"/>
<text class="bg" transform="matrix(.68 0 0 1 629.8 108)">30X30MM</text>
<path class="as" d="M614 108.6H648.5"/>
<path class="am" d="M613.9 108.6L613.9 214.1"/>
<circle class="an" cx="613.9" cy="214.1" r=".9"/>
<text class="bf" transform="matrix(.72 0 0 1 626.5 125)">LED</text>
<use href="#q7" x="633.5" y="125"/>
<path class="s" d="M622.7 126.4H650.8"/>
<path class="am" d="M622.7 126.4L622.7 200.8"/>
<circle class="an" cx="622.7" cy="200.8" r=".9"/>
<path class="ac" d="M429.6 130.9H715.5"/>
<path class="ad" d="M428 132.5l3.2 -3.2M713.9 132.5l3.2 -3.2"/>
<text class="v" transform="matrix(.698 0 0 1 571.8 129.7)">2690</text>
<path class="ac" d="M428.3 141.4H717"/>
<path class="s" d="M429.6 130.9V152.2M715.5 130.9V152.2"/>
<path class="ad" d="M428 143l3.2 -3.2M466.6 143l3.2 -3.2M573.5 143l3.2 -3.2M710.7 143l3.2 -3.2"/>
<path class="ac" d="M431.6 141.4V152.2M468.2 141.4V152.2M470.2 141.4V152.2M575.1 141.4V152.2M577.6 141.4V152.2M712.3 141.4V152.2"/>
<text class="v" transform="matrix(.725 0 0 1 431.6 139.8)">20</text>
<text class="v" transform="matrix(.725 0 0 1 450.2 139.8)">350</text>
<text class="v" transform="matrix(.725 0 0 1 470.4 139.8)">20</text>
<text class="v" transform="matrix(.725 0 0 1 521.6 139.8)">965</text>
<text class="v" transform="matrix(.725 0 0 1 576.3 139.8)">20</text>
<text class="v" transform="matrix(.725 0 0 1 643.8 139.8)">1260</text>
<text class="v" transform="matrix(.725 0 0 1 712.3 139.8)">20</text>
<text class="av" transform="matrix(.725 0 0 1 570 148)">20</text>
<text class="av" transform="matrix(.725 0 0 1 709 147.4)">15</text>
<path class="ac" d="M428.3 423H717"/>
<path class="ad" d="M428 424.6l3.2 -3.2M466.6 424.6l3.2 -3.2M519.5 424.6l3.2 -3.2M573.5 424.6l3.2 -3.2M641.2 424.6l3.2 -3.2M710.7 424.6l3.2 -3.2"/>
<path class="ac" d="M429.6 411.5V423M432.6 411.5V423M468.2 411.5V423M470.2 411.5V423M521.1 411.5V423M523.6 411.5V423M575.1 411.5V423M577.6 411.5V423M642.8 411.5V423M645.3 411.5V423M712.3 411.5V423M715.5 411.5V423"/>
<text class="ae" transform="matrix(.725 0 0 1 425.8 421.4)">20</text>
<text class="ae" transform="matrix(.725 0 0 1 450.9 421.4)">335</text>
<text class="ae" transform="matrix(.725 0 0 1 503.3 421.4)">475</text>
<text class="ae" transform="matrix(.725 0 0 1 548.5 421.4)">475</text>
<text class="ae" transform="matrix(.725 0 0 1 570.6 421.4)">15</text>
<text class="ae" transform="matrix(.725 0 0 1 580.1 421.4)">20</text>
<text class="ae" transform="matrix(.725 0 0 1 610.2 421.4)">620</text>
<text class="ae" transform="matrix(.725 0 0 1 677.9 421.4)">620</text>
<text class="ae" transform="matrix(.725 0 0 1 708 421.4)">15</text>
<text class="ae" transform="matrix(.725 0 0 1 717.6 421.4)">20</text>
<text class="ab" transform="matrix(.725 0 0 1 432.1 429.4)">15</text>
<text class="ab" transform="matrix(.725 0 0 1 469.5 429.4)">20</text>
<text class="ab" transform="matrix(.725 0 0 1 522.1 429.4)">20</text>
<text class="ab" transform="matrix(.725 0 0 1 643.8 429.4)">20</text>
<path class="ac" d="M429.6 433.6H715.5"/>
<path class="ad" d="M428 435.2l3.2 -3.2M713.9 435.2l3.2 -3.2"/>
<text class="v" transform="matrix(.698 0 0 1 575.6 432.4)">2690</text>
<path class="s" d="M429.6 423V434.2M715.5 423V434.2"/>
<path class="am" d="M489.8 395.4L489.8 441.1L473 441.1"/>
<circle class="an" cx="489.8" cy="395.4" r=".8"/>
<use href="#q8" x="472.7" y="440.2"/>
<path class="am" d="M509.6 387.9L509.6 441.1L518.4 441.1"/>
<circle class="an" cx="509.6" cy="387.9" r=".8"/>
<use href="#w2" x="518.4" y="438.1"/>
<path class="ac" d="M414 168V406.5M403.8 168V406.5"/>
<path class="ad" d="M412.4 171.3l3.2 -3.2"/>
<path class="bh" d="M400 169.7H417"/>
<path class="ad" d="M412.4 194.9l3.2 -3.2"/>
<path class="bh" d="M400 193.3H417"/>
<path class="ad" d="M412.4 273.4l3.2 -3.2"/>
<path class="bh" d="M400 271.8H417"/>
<path class="ad" d="M412.4 297.4l3.2 -3.2"/>
<path class="bh" d="M400 295.8H417"/>
<path class="ad" d="M412.4 332.8l3.2 -3.2"/>
<path class="bh" d="M400 331.2H417"/>
<path class="ad" d="M412.4 399l3.2 -3.2"/>
<path class="bh" d="M400 397.4H417"/>
<path class="s" d="M400 172.3H417M400 274.8H417M400 298.8H417M400 333.6H417M400 405.5H417"/>
<path class="ad" d="M402.2 171.3l3.2 -3.2M402.2 407.1l3.2 -3.2"/>
<text class="bi" transform="matrix(0 -.725 1 0 412 165.6)">40</text>
<text class="bi" transform="matrix(0 -.725 1 0 412 183)">180</text>
<text class="bi" transform="matrix(0 -.725 1 0 412 193.4)">15</text>
<text class="bi" transform="matrix(0 -.725 1 0 412 233.3)">735</text>
<text class="bi" transform="matrix(0 -.725 1 0 412 273.5)">20</text>
<text class="bi" transform="matrix(0 -.725 1 0 412 286)">210</text>
<text class="bi" transform="matrix(0 -.725 1 0 412 298.5)">20</text>
<text class="bi" transform="matrix(0 -.725 1 0 412 315)">310</text>
<text class="bi" transform="matrix(0 -.725 1 0 412 332.7)">20</text>
<text class="bi" transform="matrix(0 -.725 1 0 412 366.3)">605</text>
<text class="bi" transform="matrix(0 -.725 1 0 412 394)">15</text>
<text class="bi" transform="matrix(0 -.725 1 0 412 402)">50</text>
<path class="ac" d="M738.6 168V406.5"/>
<path class="bh" d="M728 169.7H740"/>
<path class="ad" d="M737 171.3l3.2 -3.2"/>
<path class="bj" d="M728 172.3H740"/>
<path class="bh" d="M728 197.3H740"/>
<path class="ad" d="M737 198.9l3.2 -3.2"/>
<path class="bj" d="M728 199.8H740"/>
<path class="bh" d="M728 233.7H740"/>
<path class="ad" d="M737 235.3l3.2 -3.2"/>
<path class="bj" d="M728 236.2H740"/>
<path class="bh" d="M728 273.1H740"/>
<path class="ad" d="M737 274.7l3.2 -3.2"/>
<path class="bj" d="M728 275.6H740"/>
<path class="bh" d="M728 312.7H740"/>
<path class="ad" d="M737 314.3l3.2 -3.2"/>
<path class="bj" d="M728 315.2H740"/>
<path class="bh" d="M728 352.2H740"/>
<path class="ad" d="M737 353.8l3.2 -3.2"/>
<path class="bj" d="M728 355.2H740"/>
<path class="bh" d="M728 374.1H740"/>
<path class="ad" d="M737 375.7l3.2 -3.2"/>
<path class="bj" d="M728 376.6H740"/>
<path class="bh" d="M728 397.4H740"/>
<path class="ad" d="M737 399l3.2 -3.2"/>
<path class="bj" d="M728 405.5H740"/>
<path class="ac" d="M749.9 169.7V405.5"/>
<path class="ad" d="M748.3 171.3l3.2 -3.2M748.3 407.1l3.2 -3.2"/>
<path class="s" d="M738 169.7H751M738 405.5H751"/>
<text class="av" transform="matrix(0 -.725 1 0 747.6 286.9)">2220</text>
<text class="bi" transform="matrix(0 -.725 1 0 744.6 166)">40</text>
<text class="bi" transform="matrix(0 -.725 1 0 736.4 186.5)">215</text>
<text class="bi" transform="matrix(0 -.725 1 0 744.6 201.6)">50</text>
<text class="bi" transform="matrix(0 -.725 1 0 736.4 218.4)">290</text>
<text class="bi" transform="matrix(0 -.725 1 0 744.6 235)">20</text>
<text class="bi" transform="matrix(0 -.725 1 0 736.4 254.3)">350</text>
<text class="bi" transform="matrix(0 -.725 1 0 744.6 273.8)">20</text>
<text class="bi" transform="matrix(0 -.725 1 0 736.4 293.9)">350</text>
<text class="bi" transform="matrix(0 -.725 1 0 744.6 313.2)">20</text>
<text class="bi" transform="matrix(0 -.725 1 0 736.4 333.2)">350</text>
<text class="bi" transform="matrix(0 -.725 1 0 744.6 352.3)">15</text>
<text class="bi" transform="matrix(0 -.725 1 0 736.4 362.8)">185</text>
<text class="bi" transform="matrix(0 -.725 1 0 744.6 375.9)">20</text>
<text class="bi" transform="matrix(0 -.725 1 0 736.4 387.2)">200</text>
<text class="bi" transform="matrix(0 -.725 1 0 744.6 398.5)">15</text>
<text class="bi" transform="matrix(0 -.725 1 0 744.6 402.6)">50</text>
<use href="#q11" x="540" y="472.4"/>
<path class="af" d="M536.2 475.4H622.7"/>
<text class="az" transform="matrix(.837 0 0 1 627 478.8)">1:20</text>
<rect x="793.9" y="58.9" width="137.9" height="6.7" fill="url(#hatch)" stroke="none"/>
<rect x="914.3" y="58.9" width="17.5" height="393.0" fill="url(#hatch)" stroke="none"/>
<rect x="793.9" y="438.1" width="137.9" height="13.8" fill="url(#hatch)" stroke="none"/>
<path class="bk" d="M793.9 65.6H914.3"/>
<path class="bl" d="M793.9 67.2H914.3"/>
<path class="bk" d="M914.3 65.6V438.1"/>
<path class="e" d="M853.6 67.2h60.7v30.6h-60.7z"/>
<path class="bm" d="M856.4 71h55v24h-55z"/>
<path class="bn" d="M853.6 65.6h3.8v3.8h-3.8z"/>
<path class="bo" d="M854.4 66.4L856.6 68.6M856.6 66.4L854.4 68.6"/>
<path class="bn" d="M910.2 65.6h3.8v3.8h-3.8z"/>
<path class="bo" d="M911 66.4L913.2 68.6M913.2 66.4L911 68.6"/>
<path class="bn" d="M853.6 92.4h3.8v3.8h-3.8z"/>
<path class="bo" d="M854.4 93.2L856.6 95.4M856.6 93.2L854.4 95.4"/>
<path class="bn" d="M863.2 92.4h3.8v3.8h-3.8z"/>
<path class="bo" d="M864 93.2L866.2 95.4M866.2 93.2L864 95.4"/>
<path class="bn" d="M863.2 97.4h3.8v3.8h-3.8z"/>
<path class="bo" d="M864 98.2L866.2 100.4M866.2 98.2L864 100.4"/>
<path class="bp" d="M850.3 67.2h2.5v33.1h-2.5z"/>
<path class="bq" d="M828.5 99h33.8v2.5h-33.8z"/>
<path class="bq" d="M828.5 93.5h2.5v8h-2.5z"/>
<path class="br" d="M793.9 101.5H828.5"/>
<circle class="bs" cx="838.2" cy="95.2" r="1.1"/>
<path class="bo" d="M836.4 95.2H840M838.2 93.4V97"/>
<circle class="aj" cx="843.2" cy="94.6" r="1.6"/>
<path class="bt" d="M841 96h4.4v2.6h-4.4z"/>
<path class="bu" d="M858.6 101.5h55.7v1.9h-55.7z"/>
<path class="bv" d="M859.3 103.4h5.8v29.5h-5.8z"/>
<path class="bw" d="M860.6 106L864.2 105.2M860.6 108.9L864.2 108.1M860.6 111.8L864.2 111M860.6 114.7L864.2 113.9M860.6 117.6L864.2 116.8M860.6 120.5L864.2 119.7M860.6 123.4L864.2 122.6M860.6 126.3L864.2 125.5M860.6 129.2L864.2 128.4"/>
<path class="n" d="M855.4 114L856.4 116M855.4 116.6L856.4 118.6M855.4 119.2L856.4 121.2"/>
<path class="bu" d="M859.3 132.9h4.3v110.8h-4.3z"/>
<path class="bq" d="M910 102.8h3.8v221.2h-3.8z"/>
<path class="bx" d="M910.6 165h2.4v7h-2.4z"/>
<path class="bx" d="M910.6 237h2.4v5h-2.4z"/>
<path class="by" d="M842.3 86.5h32.1v53.2h-32.1z"/>
<path class="bz" d="M880.4 110.8h28.3v104.9h-28.3z"/>
<path class="a9" d="M883 113L906 213M906 113L883 213"/>
<path class="b0" d="M883 113L894.5 163L906 113"/>
<path class="b1" d="M861.4 147.5h2.2v4.4h-2.2z"/>
<path class="b2" d="M863.8 148.1h4.6v3.2h-4.6z"/>
<path d="M868.2 148.2l3 1.5l-3 1.5z" fill="#000"/>
<path class="b1" d="M861.4 214.7h2.2v4.4h-2.2z"/>
<path class="b2" d="M863.8 215.3h4.6v3.2h-4.6z"/>
<path d="M868.2 215.4l3 1.5l-3 1.5z" fill="#000"/>
<path class="bp" d="M863.6 239.5h46.4v3.2h-46.4z"/>
<path class="b3" d="M883 239.8L881.5 242.5M886 239.8L884.5 242.5M889 239.8L887.5 242.5M892 239.8L890.5 242.5M895 239.8L893.5 242.5M898 239.8L896.5 242.5M901 239.8L899.5 242.5M904 239.8L902.5 242.5"/>
<path class="s" d="M858.6 252.8H915.5"/>
<path class="ad" d="M857.4 254l2.4 -2.4"/>
<path class="u" d="M858.6 246V254.5"/>
<path class="ad" d="M862.4 254l2.4 -2.4"/>
<path class="u" d="M863.6 246V254.5"/>
<path class="ad" d="M880.5 254l2.4 -2.4"/>
<path class="u" d="M881.7 246V254.5"/>
<path class="ad" d="M902.8 254l2.4 -2.4"/>
<path class="u" d="M904 246V254.5"/>
<path class="ad" d="M908.8 254l2.4 -2.4"/>
<path class="u" d="M910 246V254.5"/>
<path class="ad" d="M913.1 254l2.4 -2.4"/>
<path class="u" d="M914.3 246V254.5"/>
<text class="av" transform="matrix(.725 0 0 1 873.1 251.2)">125</text>
<text class="av" transform="matrix(.725 0 0 1 892.4 251.2)">150</text>
<text class="ab" transform="matrix(.725 0 0 1 855 258.6)">30</text>
<text class="ab" transform="matrix(.725 0 0 1 862.5 258.6)">5</text>
<text class="ab" transform="matrix(.725 0 0 1 906.4 258.6)">40</text>
<text class="ab" transform="matrix(.725 0 0 1 917.5 258.6)">30</text>
<path class="s" d="M884.4 106L882.4 108.7L886.4 108.7Z"/>
<text class="t" transform="matrix(.818 0 0 1 886.6 113.6)">2.180</text>
<path class="u" d="M881.8 108.7H900.1"/>
<path class="s" d="M885.7 271.6L883.7 268.9L887.7 268.9Z"/>
<text class="t" transform="matrix(.818 0 0 1 887.5 270)">1.020</text>
<path class="u" d="M883.1 271.5H900.5"/>
<path class="bu" d="M858.6 274.3h55.7v3.8h-55.7z"/>
<path class="bu" d="M859.3 278.1h4.3v136.2h-4.3z"/>
<path class="bu" d="M863.6 321h46.8v3h-46.8z"/>
<path class="ag" d="M910.6 324V436.9M913.8 324V436.9"/>
<path class="bx" d="M910.6 305h2.4v7h-2.4z"/>
<path class="b1" d="M861.4 295.5h2.2v4.4h-2.2z"/>
<path class="b2" d="M863.8 296.1h4.6v3.2h-4.6z"/>
<path d="M868.2 296.2l3 1.5l-3 1.5z" fill="#000"/>
<path class="b1" d="M861.4 387.8h2.2v4.4h-2.2z"/>
<path class="b2" d="M863.8 388.4h4.6v3.2h-4.6z"/>
<path d="M868.2 388.5l3 1.5l-3 1.5z" fill="#000"/>
<path class="s" d="M885.7 319.6L883.7 316.9L887.7 316.9Z"/>
<text class="t" transform="matrix(.818 0 0 1 887.5 318)">0.690</text>
<path class="u" d="M883.1 319.5H900.5"/>
<path class="bu" d="M859.3 412.3h30.6v3.7h-30.6z"/>
<path class="bq" d="M887.9 404.3h2.5v11.7h-2.5z"/>
<path class="b4" d="M863.6 418.5h5.6v5.6h-5.6z"/>
<path class="n" d="M864.6 419.5L868.2 423.1M868.2 419.5L864.6 423.1"/>
<path class="b4" d="M882.4 418.5h5.6v5.6h-5.6z"/>
<path class="n" d="M883.4 419.5L887 423.1M887 419.5L883.4 423.1"/>
<path class="b4" d="M863.6 428.6h5.6v5.6h-5.6z"/>
<path class="n" d="M864.6 429.6L868.2 433.2M868.2 429.6L864.6 433.2"/>
<path class="b4" d="M882.4 428.6h5.6v5.6h-5.6z"/>
<path class="n" d="M883.4 429.6L887 433.2M887 429.6L883.4 433.2"/>
<path class="a2" d="M863.6 436.9H914.3"/>
<path class="ag" d="M891 416V436.9"/>
<path class="b5" d="M896.2 391.7h13.8v45.2h-13.8z"/>
<path class="b0" d="M897 393L903 413L909 393M897 435L903 415L909 435"/>
<path class="s" d="M863.6 398H892.4"/>
<path class="ad" d="M862.5 399.1l2.2 -2.2M885.8 399.1l2.2 -2.2M888.8 399.1l2.2 -2.2"/>
<text class="ab" transform="matrix(.725 0 0 1 876.1 396.6)">165</text>
<text class="ab" transform="matrix(.725 0 0 1 889.9 393.6)">20</text>
<text class="aw" transform="matrix(0 -.725 1 0 875.6 408.6)">50</text>
<path class="u" d="M878.6 404.3V412.3"/>
<path class="ad" d="M877.6 405.3l2 -2M877.6 413.3l2 -2"/>
<path class="b6" d="M794.9 421.3h67.4v2.6h-67.4z"/>
<path class="o" d="M794.9 421.3H862.3"/>
<path class="b7" d="M794.9 423.9h67.4v9h-67.4z"/>
<path class="b8" d="M794.9 432.9h67.4v5.2h-67.4z"/>
<circle class="bw" cx="798.9" cy="427.7" r="1"/>
<circle class="bw" cx="835.3" cy="427.9" r="1"/>
<path d="M839.4 426.5l2 1.2l-1.6 1z" fill="#333"/>
<path class="g" d="M793.9 438.1H914.3"/>
<path class="am" d="M834.8 83.5L842.8 83.5L842.8 68.4"/>
<circle class="an" cx="842.8" cy="68.4" r=".9"/>
<use href="#w3" x="805.9" y="79.5"/>
<path class="am" d="M834.8 112.8L852.3 112.8L852.3 101.5"/>
<circle class="an" cx="852.3" cy="101.5" r=".9"/>
<use href="#w3" x="805.9" y="108.8"/>
<use href="#q13" x="804.7" y="125.2"/>
<text class="bg" transform="matrix(.68 0 0 1 823.7 125.2)">A1.PL-⑤</text>
<path class="am" d="M803.5 126.2L861 126.2"/>
<circle class="an" cx="861" cy="126.2" r=".9"/>
<circle class="ai" cx="812.7" cy="135.4" r="6.3"/>
<path class="aj" d="M806.4 135.4H819"/>
<text class="ak" transform="matrix(.744 0 0 1 812.7 134.6)">a</text>
<text class="al" transform="matrix(.577 0 0 1 812.7 139.3)">A0T.2-3</text>
<path class="am" d="M819 135.4L843 135.4"/>
<circle class="an" cx="843" cy="135.4" r=".9"/>
<use href="#q14" x="813.4" y="159.2"/>
<path class="am" d="M806.4 159.9L881.7 159.9"/>
<circle class="an" cx="881.7" cy="159.9" r=".9"/>
<path class="am" d="M835.5 187.6L869.1 187.6"/>
<circle class="an" cx="869.1" cy="187.6" r=".9"/>
<circle class="an" cx="859.3" cy="187.6" r=".8"/>
<use href="#w1" x="806.4" y="183.5"/>
<use href="#q15" x="812.2" y="216.6"/>
<path class="am" d="M806.4 217.2L862.3 217.2"/>
<use href="#q13" x="808.4" y="231.6"/>
<text class="bg" transform="matrix(.68 0 0 1 827.4 231.6)">A1.PL-⑤</text>
<path class="am" d="M806.4 232.4L887.4 232.4L887.4 239.5"/>
<circle class="an" cx="887.4" cy="239.5" r=".9"/>
<path class="am" d="M835.5 262L878.6 262"/>
<circle class="an" cx="878.6" cy="262" r=".9"/>
<use href="#w1" x="806.4" y="258"/>
<path class="am" d="M835.5 286.6L879.9 286.6"/>
<circle class="an" cx="879.9" cy="286.6" r=".9"/>
<circle class="an" cx="859.3" cy="286.6" r=".8"/>
<use href="#w1" x="806.4" y="282.6"/>
<path class="am" d="M835.5 313.7L872.9 313.7L872.9 322.2"/>
<circle class="an" cx="872.9" cy="322.2" r=".9"/>
<use href="#w1" x="806.4" y="309.7"/>
<path class="am" d="M835.5 344.8L873.6 344.8"/>
<circle class="an" cx="873.6" cy="344.8" r=".9"/>
<use href="#w1" x="806.4" y="340.8"/>
<path class="am" d="M835.5 360.1L911.3 360.1"/>
<circle class="an" cx="911.3" cy="360.1" r=".9"/>
<use href="#w4" x="806.4" y="356.1"/>
<use href="#q17" x="812.7" y="375.8"/>
<path class="am" d="M806.4 376.4L893.2 376.4"/>
<circle class="an" cx="893.2" cy="376.4" r=".9"/>
<path class="am" d="M835.5 394.2L846 394.2L858.6 414.3"/>
<circle class="an" cx="858.6" cy="414.3" r=".9"/>
<use href="#w1" x="806.4" y="390"/>
<path class="am" d="M835.5 406.8L847.8 406.8L847.8 421.3"/>
<circle class="an" cx="847.8" cy="421.3" r=".9"/>
<use href="#w5" x="806.4" y="402.5"/>
<use href="#q20" x="811.7" y="419"/>
<path class="s" d="M844 421.2L842 418.5L846 418.5Z"/>
<text class="t" transform="matrix(.818 0 0 1 829 419.6)">±0.000</text>
<path class="u" d="M841.4 421.1H843.5"/>
<path class="s" d="M828.5 69.7L826.5 72.4L830.5 72.4Z"/>
<text class="t" transform="matrix(.818 0 0 1 816 77.3)">2.430</text>
<path class="u" d="M815.5 72.4H831.1"/>
<text class="t" transform="matrix(.698 0 0 1 812.7 98.6)">2.200</text>
<path class="u" d="M812 99.4H827.5M826 101.3L824.4 99.4L827.6 99.4Z"/>
<path class="ac" d="M858.1 32.1H910.7"/>
<path class="ad" d="M856.5 33.7l3.2 -3.2M909.1 33.7l3.2 -3.2"/>
<text class="v" transform="matrix(.698 0 0 1 884.4 30.9)">350</text>
<path class="ac" d="M857 43.1H916.5"/>
<path class="ad" d="M856.8 44.4l2.6 -2.6"/>
<path class="s" d="M858.1 43.1V54.6"/>
<path class="ad" d="M861.7 44.4l2.6 -2.6"/>
<path class="s" d="M863 43.1V54.6"/>
<path class="ad" d="M908.7 44.4l2.6 -2.6"/>
<path class="s" d="M910 43.1V54.6"/>
<path class="ad" d="M914 44.4l2.6 -2.6"/>
<path class="s" d="M915.3 43.1V54.6M858.1 32.1V54.6M910.7 32.1V44"/>
<text class="ae" transform="matrix(.725 0 0 1 863.6 41.6)">30.5</text>
<text class="ae" transform="matrix(.725 0 0 1 887.4 41.6)">315</text>
<text class="ae" transform="matrix(.725 0 0 1 913.4 41)">30</text>
<path class="ac" d="M857 467.7H916.5"/>
<path class="ad" d="M856.8 469l2.6 -2.6"/>
<path class="s" d="M858.1 457V468.8"/>
<path class="ad" d="M861.7 469l2.6 -2.6"/>
<path class="s" d="M863 457V468.8"/>
<path class="ad" d="M889.9 469l2.6 -2.6"/>
<path class="s" d="M891.2 457V468.8"/>
<path class="ad" d="M909.2 469l2.6 -2.6"/>
<path class="s" d="M910.5 457V468.8"/>
<path class="ad" d="M913.2 469l2.6 -2.6"/>
<path class="s" d="M914.5 457V468.8"/>
<text class="av" transform="matrix(.725 0 0 1 855.4 466)">30</text>
<text class="av" transform="matrix(.725 0 0 1 866.6 466)">5</text>
<text class="av" transform="matrix(.725 0 0 1 877.4 466)">185</text>
<text class="av" transform="matrix(.725 0 0 1 900.7 466)">140</text>
<text class="av" transform="matrix(.725 0 0 1 918.8 466)">20</text>
<path class="ac" d="M858.1 478.2H912"/>
<path class="ad" d="M856.5 479.8l3.2 -3.2M910.4 479.8l3.2 -3.2"/>
<text class="v" transform="matrix(.698 0 0 1 884.9 477)">360</text>
<path class="s" d="M858.1 467V479M912 467V479"/>
<path class="ac" d="M767.5 68.4V421.3"/>
<path class="ad" d="M765.9 70l3.2 -3.2M765.9 422.9l3.2 -3.2"/>
<text class="av" transform="matrix(0 -.725 1 0 765.3 245.2)">2430</text>
<path class="ac" d="M778.3 65.5V422.5"/>
<path class="ad" d="M777.1 68.1l2.4 -2.4"/>
<path class="ac" d="M778 66.9H790"/>
<path class="ad" d="M777.1 94.7l2.4 -2.4"/>
<path class="ac" d="M778 93.5H790"/>
<path class="ad" d="M777.1 101.5l2.4 -2.4"/>
<path class="ac" d="M778 100.3H790"/>
<path class="ad" d="M777.1 130.3l2.4 -2.4"/>
<path class="ac" d="M778 129.1H790"/>
<path class="ad" d="M777.1 244.9l2.4 -2.4"/>
<path class="ac" d="M778 243.7H790"/>
<path class="ad" d="M777.1 275.5l2.4 -2.4"/>
<path class="ac" d="M778 274.3H790"/>
<path class="ad" d="M777.1 415.5l2.4 -2.4"/>
<path class="ac" d="M778 414.3H790"/>
<path class="ad" d="M777.1 422.5l2.4 -2.4"/>
<path class="ac" d="M767 421.3H790"/>
<path class="s" d="M778 68.4H790M778 102.8H790M778 131.6H790M778 277H790M766.5 68.4H790M766.5 421.3H790"/>
<text class="ab" transform="matrix(0 -.725 1 0 776.2 66)">20</text>
<text class="ab" transform="matrix(0 -.725 1 0 776.2 80.7)">170</text>
<text class="ab" transform="matrix(0 -.725 1 0 776.2 97)">60</text>
<text class="ab" transform="matrix(0 -.725 1 0 776.2 105.2)">20</text>
<text class="ab" transform="matrix(0 -.725 1 0 776.2 116.6)">160</text>
<text class="ab" transform="matrix(0 -.725 1 0 776.2 127)">20</text>
<text class="ab" transform="matrix(0 -.725 1 0 776.2 133.4)">5</text>
<text class="ab" transform="matrix(0 -.725 1 0 776.2 179.3)">775</text>
<text class="ab" transform="matrix(0 -.725 1 0 776.2 257.8)">200</text>
<text class="ab" transform="matrix(0 -.725 1 0 776.2 273.5)">20</text>
<text class="ab" transform="matrix(0 -.725 1 0 776.2 280)">5</text>
<text class="ab" transform="matrix(0 -.725 1 0 776.2 344.8)">940</text>
<text class="ab" transform="matrix(0 -.725 1 0 776.2 410.5)">5</text>
<text class="ab" transform="matrix(0 -.725 1 0 776.2 418)">50</text>
<path class="ac" d="M946.9 103V439.5"/>
<path class="ad" d="M945.7 105.7l2.4 -2.4"/>
<path class="ac" d="M935.6 104.5H948.5"/>
<path class="ad" d="M945.7 241.4l2.4 -2.4"/>
<path class="ac" d="M935.6 240.2H948.5"/>
<path class="ad" d="M945.7 275.5l2.4 -2.4"/>
<path class="ac" d="M935.6 274.3H948.5"/>
<path class="ad" d="M945.7 322.2l2.4 -2.4"/>
<path class="ac" d="M935.6 321H948.5"/>
<path class="ad" d="M945.7 413.5l2.4 -2.4"/>
<path class="ac" d="M935.6 412.3H948.5"/>
<path class="ad" d="M945.7 422.5l2.4 -2.4"/>
<path class="ac" d="M935.6 421.3H948.5"/>
<path class="ad" d="M945.7 439.3l2.4 -2.4"/>
<path class="ac" d="M935.6 438.1H948.5"/>
<path class="s" d="M935.6 243.2H948.5M935.6 277H948.5M935.6 324H948.5"/>
<path class="ac" d="M957.7 104.5V421.3"/>
<path class="ad" d="M956.1 106.1l3.2 -3.2M956.1 422.9l3.2 -3.2"/>
<path class="s" d="M946 104.5H959M946 421.3H959"/>
<text class="ab" transform="matrix(0 -.725 1 0 955.6 262)">2180</text>
<text class="ab" transform="matrix(0 -.725 1 0 944.8 172.5)">930</text>
<text class="ab" transform="matrix(0 -.725 1 0 951.4 241.6)">20</text>
<text class="ab" transform="matrix(0 -.725 1 0 944.8 257.8)">210</text>
<text class="ab" transform="matrix(0 -.725 1 0 951.4 275.8)">20</text>
<text class="ab" transform="matrix(0 -.725 1 0 944.8 299.4)">295</text>
<text class="ab" transform="matrix(0 -.725 1 0 951.4 322.7)">20</text>
<text class="ab" transform="matrix(0 -.725 1 0 944.8 367.9)">605</text>
<text class="ab" transform="matrix(0 -.725 1 0 944.8 416.8)">65</text>
<text class="ab" transform="matrix(0 -.725 1 0 944.8 429.6)">115</text>
<rect x="793.9" y="58.9" width="137.9" height="393.0" fill="none" stroke="#000" stroke-width="2.0" stroke-dasharray="6.2 3.8"/>
<circle class="ai" cx="870.6" cy="513.6" r="7.5"/>
<path class="aj" d="M863.1 513.6H878.1"/>
<text class="b9" transform="matrix(.744 0 0 1 870.6 512.8)">1</text>
<text class="ca" transform="matrix(.577 0 0 1 870.6 518.2)">D1T.3-</text>
<rect x="1029.6" y="60.1" width="172.8" height="5.5" fill="url(#hatch)" stroke="none"/>
<rect x="1185.1" y="60.1" width="17.3" height="393.6" fill="url(#hatch)" stroke="none"/>
<rect x="1029.6" y="439.4" width="172.8" height="14.3" fill="url(#hatch)" stroke="none"/>
<path class="bk" d="M1029.6 65.6H1185.1"/>
<path class="bl" d="M1029.6 67.2H1185.1"/>
<path class="bk" d="M1185.1 65.6V439.4"/>
<path class="e" d="M1080.8 67.2h104.3v31.8h-104.3z"/>
<path class="bm" d="M1084 71h98v25h-98z"/>
<path class="bn" d="M1080.8 65.6h3.8v3.8h-3.8z"/>
<path class="bo" d="M1081.6 66.4L1083.8 68.6M1083.8 66.4L1081.6 68.6"/>
<path class="bn" d="M1181.1 65.6h3.8v3.8h-3.8z"/>
<path class="bo" d="M1181.9 66.4L1184.1 68.6M1184.1 66.4L1181.9 68.6"/>
<path class="bn" d="M1080.8 92.4h3.8v3.8h-3.8z"/>
<path class="bo" d="M1081.6 93.2L1083.8 95.4M1083.8 93.2L1081.6 95.4"/>
<path class="bn" d="M1090.3 92.4h3.8v3.8h-3.8z"/>
<path class="bo" d="M1091.1 93.2L1093.3 95.4M1093.3 93.2L1091.1 95.4"/>
<path class="bn" d="M1090.3 100h3.8v3.8h-3.8z"/>
<path class="bo" d="M1091.1 100.8L1093.3 103M1093.3 100.8L1091.1 103"/>
<path class="bn" d="M1181.1 100h3.8v3.8h-3.8z"/>
<path class="bo" d="M1181.9 100.8L1184.1 103M1184.1 100.8L1181.9 103"/>
<path class="bp" d="M1077.8 67.2h2.5v33.1h-2.5z"/>
<path class="bq" d="M1055.7 100.3h30.8v2.5h-30.8z"/>
<path class="bq" d="M1055.7 94.8h2.5v8h-2.5z"/>
<path class="br" d="M1029.6 102.8H1055.7"/>
<circle class="bs" cx="1066.2" cy="96.6" r="1.1"/>
<path class="bo" d="M1064.4 96.6H1068M1066.2 94.8V98.4"/>
<circle class="aj" cx="1071.2" cy="96" r="1.6"/>
<path class="bt" d="M1069 97.4h4.4v2.6h-4.4z"/>
<path class="bu" d="M1086.5 104h97.8v3.8h-97.8z"/>
<path class="bu" d="M1086.5 106.5h3.8v243.8h-3.8z"/>
<path class="bq" d="M1181.1 107.8h3.2v309h-3.2z"/>
<path class="bx" d="M1181.7 158h2.2v7h-2.2z"/>
<path class="bx" d="M1181.7 246h2.2v7h-2.2z"/>
<path class="bx" d="M1181.7 326h2.2v7h-2.2z"/>
<path class="cb" d="M1090.3 139.6h90.8v7.1h-90.8z"/>
<path class="cc" d="M1092 141.4h87.4v3.5h-87.4z"/>
<text class="cd" transform="matrix(1 0 0 1 1094 145.4)">×</text>
<text class="cd" transform="matrix(1 0 0 1 1128 145.4)">×</text>
<text class="cd" transform="matrix(1 0 0 1 1176 145.4)">×</text>
<path class="b1" d="M1088.2 123.2h2.2v4.4h-2.2z"/>
<path class="b2" d="M1090.6 123.8h4.6v3.2h-4.6z"/>
<path d="M1095.0 123.9l3 1.5l-3 1.5z" fill="#000"/>
<path class="b1" d="M1088.2 210.2h2.2v4.4h-2.2z"/>
<path class="b2" d="M1090.6 210.8h4.6v3.2h-4.6z"/>
<path d="M1095.0 210.9l3 1.5l-3 1.5z" fill="#000"/>
<path class="b1" d="M1088.2 322.5h2.2v4.4h-2.2z"/>
<path class="b2" d="M1090.6 323.1h4.6v3.2h-4.6z"/>
<path d="M1095.0 323.2l3 1.5l-3 1.5z" fill="#000"/>
<path class="s" d="M1135.4 109.8L1133.4 112.5L1137.4 112.5Z"/>
<text class="t" transform="matrix(.818 0 0 1 1137.4 117.4)">2.165</text>
<path class="u" d="M1132.8 112.5H1150.9"/>
<path class="s" d="M1138.7 138.2L1136.7 135.5L1140.7 135.5Z"/>
<text class="t" transform="matrix(.818 0 0 1 1140.5 136.6)">1.950</text>
<path class="u" d="M1136.1 138.1H1153.5"/>
<path class="ce" d="M1154.2 134.1h32.7v18.1h-32.7z"/>
<path d="M1163.0 141.4h4l2.5 3.4h6" stroke="#111" stroke-width="1.1" fill="none"/>
<path class="cf" d="M1132.9 158.7h5v5h-5z"/>
<path class="s" d="M1146.2 160.2L1144.2 157.5L1148.2 157.5Z"/>
<text class="t" transform="matrix(.818 0 0 1 1148.5 158.6)">1.800</text>
<path class="u" d="M1143.6 160.1H1161"/>
<path class="s" d="M1090.3 185H1181.1"/>
<path class="ad" d="M1089.1 186.2l2.4 -2.4M1134.5 186.2l2.4 -2.4M1179.9 186.2l2.4 -2.4"/>
<path class="u" d="M1135.7 182V185"/>
<text class="ab" transform="matrix(.725 0 0 1 1113.4 183.6)">EQ</text>
<text class="ab" transform="matrix(.725 0 0 1 1158 183.6)">EQ</text>
<path class="s" d="M1090.3 193.8H1185"/>
<path class="ad" d="M1089.1 195l2.4 -2.4"/>
<path class="u" d="M1090.3 185V194.5"/>
<path class="ad" d="M1179.9 195l2.4 -2.4"/>
<path class="u" d="M1181.1 185V194.5"/>
<text class="ab" transform="matrix(.725 0 0 1 1135.4 192.4)">615</text>
<text class="ab" transform="matrix(.725 0 0 1 1188.8 192.2)">30</text>
<path class="bu" d="M1086.5 350.3h94.6v4.5h-94.6z"/>
<path class="bu" d="M1086.5 355.4h3.3v25.5h-3.3z"/>
<path class="ag" d="M1090.3 354.8H1181"/>
<path class="bu" d="M1090.3 377.3h88.1v3.6h-88.1z"/>
<path class="bu" d="M1175 360.4h3.4v20.5h-3.4z"/>
<path class="cg" d="M1096.3 369.1H1168.4"/>
<path class="ch" d="M1098.7 369.1H1167.4"/>
<path d="M1099.5 369.1H1167.4" stroke="#fff" stroke-width="1.1" stroke-dasharray="2.6 3.2"/>
<path d="M1095.8 369.1l2.6 -1.4v2.8zM1168.9 369.1l-2.6 -1.4v2.8z" fill="#000"/>
<path class="bu" d="M1086.5 384.8h3.3v25.7h-3.3z"/>
<path class="ag" d="M1090.3 384.2H1181"/>
<path class="bu" d="M1090.3 406.9h88.1v3.6h-88.1z"/>
<path class="bu" d="M1175 389.8h3.4v20.7h-3.4z"/>
<path class="cg" d="M1096.3 401H1168.4"/>
<path class="ch" d="M1098.7 401H1167.4"/>
<path d="M1099.5 401.0H1167.4" stroke="#fff" stroke-width="1.1" stroke-dasharray="2.6 3.2"/>
<path d="M1095.8 401.0l2.6 -1.4v2.8zM1168.9 401.0l-2.6 -1.4v2.8z" fill="#000"/>
<path class="ag" d="M1090.3 382.6H1181.1"/>
<path class="bu" d="M1086.5 411.8h97.8v5h-97.8z"/>
<path class="s" d="M1136.2 349.3L1134.2 346.6L1138.2 346.6Z"/>
<text class="t" transform="matrix(.818 0 0 1 1138 347.7)">0.500</text>
<path class="u" d="M1133.6 349.2H1151"/>
<path class="b4" d="M1090.8 418.8h5.6v5.6h-5.6z"/>
<path class="n" d="M1091.8 419.8L1095.4 423.4M1095.4 419.8L1091.8 423.4"/>
<path class="b4" d="M1134.2 418.8h5.6v5.6h-5.6z"/>
<path class="n" d="M1135.2 419.8L1138.8 423.4M1138.8 419.8L1135.2 423.4"/>
<path class="b4" d="M1178.6 418.8h5.6v5.6h-5.6z"/>
<path class="n" d="M1179.6 419.8L1183.2 423.4M1183.2 419.8L1179.6 423.4"/>
<path class="b4" d="M1090.8 432.2h5.6v5.6h-5.6z"/>
<path class="n" d="M1091.8 433.2L1095.4 436.8M1095.4 433.2L1091.8 436.8"/>
<path class="b4" d="M1134.2 432.2h5.6v5.6h-5.6z"/>
<path class="n" d="M1135.2 433.2L1138.8 436.8M1138.8 433.2L1135.2 436.8"/>
<path class="b4" d="M1178.6 432.2h5.6v5.6h-5.6z"/>
<path class="n" d="M1179.6 433.2L1183.2 436.8M1183.2 433.2L1179.6 436.8"/>
<path class="ci" d="M1096.5 421.5H1178.6M1096.5 426H1178.6M1096.5 430.5H1178.6M1096.5 437H1178.6"/>
<path class="b6" d="M1030.6 422.6h59.2v2.6h-59.2z"/>
<path class="o" d="M1030.6 422.6H1089.8"/>
<path class="b7" d="M1030.6 425.2h59.2v9h-59.2z"/>
<path class="b8" d="M1030.6 434.2h59.2v5.2h-59.2z"/>
<circle class="bw" cx="1034.6" cy="429" r="1"/>
<circle class="bw" cx="1066.1" cy="429.2" r="1"/>
<path d="M1069.7 427.8l2 1.2l-1.6 1z" fill="#333"/>
<path class="g" d="M1029.6 439.4H1185.1"/>
<path class="a2" d="M1089.8 416.8V439.4"/>
<path class="am" d="M1062.7 84.7L1069.7 84.7L1069.7 68.9"/>
<circle class="an" cx="1069.7" cy="68.9" r=".9"/>
<use href="#w6" x="1033.4" y="80.7"/>
<path class="am" d="M1062.7 113.3L1079 113.3L1079 102.8"/>
<circle class="an" cx="1079" cy="102.8" r=".9"/>
<use href="#w6" x="1033.4" y="109.3"/>
<path class="s" d="M1059.4 70.7L1057.4 73.4L1061.4 73.4Z"/>
<text class="t" transform="matrix(.818 0 0 1 1046.9 78.3)">2.430</text>
<path class="u" d="M1046.4 73.4H1062"/>
<text class="t" transform="matrix(.698 0 0 1 1039.4 99.8)">2.200</text>
<path class="u" d="M1038.6 100.6H1054.6M1052.7 102.6L1051.1 100.6L1054.3 100.6Z"/>
<path class="am" d="M1062.7 134.4L1112.1 134.4"/>
<circle class="an" cx="1112.1" cy="134.4" r=".9"/>
<path class="am" d="M1103.6 107.8L1103.6 134.4"/>
<use href="#w7" x="1033.4" y="130.4"/>
<use href="#q23" x="1034.4" y="160.2"/>
<text class="cj" transform="matrix(.66 0 0 1 1045.9 160.2)">30X30MM</text>
<path class="am" d="M1034.4 161.4L1132.9 161.4"/>
<circle class="ai" cx="1045.9" cy="172.5" r="6.3"/>
<path class="aj" d="M1039.6 172.5H1052.2"/>
<text class="ak" transform="matrix(.744 0 0 1 1045.9 171.7)">b</text>
<text class="al" transform="matrix(.577 0 0 1 1045.9 176.4)">A0T.2-3</text>
<path class="am" d="M1052.2 172.5L1165.5 172.5L1165.5 152.2"/>
<circle class="an" cx="1165.5" cy="152.2" r=".9"/>
<path class="am" d="M1062.7 229.7L1115.4 229.7"/>
<circle class="an" cx="1115.4" cy="229.7" r=".9"/>
<circle class="an" cx="1086.5" cy="229.7" r=".8"/>
<use href="#w7" x="1033.4" y="225.7"/>
<path class="am" d="M1062.7 263.8L1181.1 263.8"/>
<circle class="an" cx="1181.1" cy="263.8" r=".9"/>
<use href="#w7" x="1033.4" y="259.8"/>
<path class="am" d="M1062.7 338L1122.9 338L1122.9 350.3"/>
<circle class="an" cx="1122.9" cy="350.3" r=".9"/>
<use href="#w7" x="1033.4" y="334"/>
<circle class="ai" cx="1047.7" cy="352.8" r="6.3"/>
<path class="aj" d="M1041.4 352.8H1054"/>
<text class="ak" transform="matrix(.744 0 0 1 1047.7 352)">c</text>
<text class="al" transform="matrix(.577 0 0 1 1047.7 356.7)">A0T.2-3</text>
<path class="am" d="M1054 352.8L1079 352.8"/>
<circle class="an" cx="1079" cy="352.8" r=".9"/>
<path class="ck" d="M1079 344.1h25.1v58.1h-25.1z"/>
<use href="#q15" x="1039.6" y="324.4"/>
<path class="am" d="M1034.4 324.9L1089 324.9"/>
<use href="#q24" x="1040" y="368.8"/>
<path class="am" d="M1034.4 369.6L1096.6 369.6M1062.7 395L1086.5 395"/>
<circle class="an" cx="1086.5" cy="395" r=".9"/>
<path class="cg" d="M1072.7 395L1086.5 416.8"/>
<use href="#w7" x="1033.4" y="391"/>
<path class="am" d="M1062.7 408L1072.7 408L1072.7 422.6"/>
<circle class="an" cx="1072.7" cy="422.6" r=".9"/>
<use href="#w8" x="1033.4" y="404"/>
<use href="#q20" x="1037.6" y="420"/>
<path class="s" d="M1069 422.4L1067 419.7L1071 419.7Z"/>
<text class="t" transform="matrix(.818 0 0 1 1054.7 420.8)">±0.000</text>
<path class="u" d="M1066.4 422.3H1069.2"/>
<path class="ac" d="M1085.3 33.8H1181.8"/>
<path class="ad" d="M1083.7 35.4l3.2 -3.2M1180.2 35.4l3.2 -3.2"/>
<text class="v" transform="matrix(.698 0 0 1 1132.9 32.6)">650</text>
<path class="ac" d="M1084 44.6H1187"/>
<path class="ad" d="M1084 45.9l2.6 -2.6"/>
<path class="s" d="M1085.3 44.6V55.1"/>
<path class="ad" d="M1089 45.9l2.6 -2.6"/>
<path class="cl" d="M1090.3 44.6V55.1"/>
<path class="ad" d="M1179.8 45.9l2.6 -2.6"/>
<path class="s" d="M1181.1 44.6V55.1"/>
<path class="ad" d="M1184.3 45.9l2.6 -2.6"/>
<path class="s" d="M1185.6 44.6V55.1M1085.3 33.8V55.1M1181.8 33.8V45"/>
<text class="ae" transform="matrix(.725 0 0 1 1091.5 43)">30.5</text>
<text class="ae" transform="matrix(.725 0 0 1 1135.4 43)">615</text>
<text class="ae" transform="matrix(.725 0 0 1 1184 42.4)">30</text>
<path class="ac" d="M1084 469H1187"/>
<path class="ad" d="M1084 470.3l2.6 -2.6"/>
<path class="s" d="M1085.3 458.5V470"/>
<path class="ad" d="M1089 470.3l2.6 -2.6"/>
<path class="s" d="M1090.3 458.5V470"/>
<path class="ad" d="M1174.7 470.3l2.6 -2.6"/>
<path class="s" d="M1176 458.5V470"/>
<path class="ad" d="M1179.8 470.3l2.6 -2.6"/>
<path class="s" d="M1181.1 458.5V470"/>
<path class="ad" d="M1184.3 470.3l2.6 -2.6"/>
<path class="s" d="M1185.6 458.5V470"/>
<text class="av" transform="matrix(.725 0 0 1 1087.8 467.4)">30</text>
<text class="av" transform="matrix(.725 0 0 1 1134.2 467.4)">595</text>
<text class="av" transform="matrix(.725 0 0 1 1173.6 467.4)">20</text>
<text class="av" transform="matrix(.725 0 0 1 1183.4 467.4)">30</text>
<text class="aw" transform="matrix(.725 0 0 1 1091 475.6)">5</text>
<path class="ac" d="M1085.3 479.5H1181.1"/>
<path class="ad" d="M1083.7 481.1l3.2 -3.2M1179.5 481.1l3.2 -3.2"/>
<text class="v" transform="matrix(.698 0 0 1 1132.9 478.3)">650</text>
<path class="s" d="M1085.3 469V480.3M1181.1 469V480.3"/>
<path class="ac" d="M1003 68.4V422.6"/>
<path class="ad" d="M1001.4 70l3.2 -3.2M1001.4 424.2l3.2 -3.2"/>
<text class="av" transform="matrix(0 -.725 1 0 1000.8 244.5)">2430</text>
<path class="ac" d="M1013.8 65V424"/>
<path class="ad" d="M1012.6 68.1l2.4 -2.4"/>
<path class="ac" d="M1013.8 66.9H1025.5"/>
<path class="ad" d="M1012.6 96l2.4 -2.4"/>
<path class="ac" d="M1013.8 94.8H1025.5"/>
<path class="ad" d="M1012.6 104l2.4 -2.4"/>
<path class="ac" d="M1013.8 102.8H1025.5"/>
<path class="ad" d="M1012.6 351.5l2.4 -2.4"/>
<path class="ac" d="M1013.8 350.3H1025.5"/>
<path class="ad" d="M1012.6 383.4l2.4 -2.4"/>
<path class="ac" d="M1013.8 382.2H1025.5"/>
<path class="ad" d="M1012.6 416l2.4 -2.4"/>
<path class="ac" d="M1013.8 414.8H1025.5"/>
<path class="ad" d="M1012.6 423.8l2.4 -2.4"/>
<path class="ac" d="M1013.8 422.6H1025.5"/>
<path class="s" d="M1013.8 68.4H1025.5M1013.8 106.5H1025.5M1013.8 353.3H1025.5M1013.8 385.4H1025.5M1002 68.4H1025.5M1002 422.6H1025.5"/>
<text class="ab" transform="matrix(0 -.725 1 0 1011.6 65.2)">20</text>
<text class="ab" transform="matrix(0 -.725 1 0 1011.6 81.5)">170</text>
<text class="ab" transform="matrix(0 -.725 1 0 1011.6 97.8)">60</text>
<text class="ab" transform="matrix(0 -.725 1 0 1011.6 107.2)">20</text>
<text class="ab" transform="matrix(0 -.725 1 0 1011.6 228.2)">1685</text>
<text class="ab" transform="matrix(0 -.725 1 0 1011.6 351.6)">30</text>
<text class="ab" transform="matrix(0 -.725 1 0 1011.6 367.9)">200</text>
<text class="ab" transform="matrix(0 -.725 1 0 1011.6 383.7)">30</text>
<text class="ab" transform="matrix(0 -.725 1 0 1011.6 399.7)">200</text>
<text class="ab" transform="matrix(0 -.725 1 0 1011.6 411.8)">5</text>
<text class="ab" transform="matrix(0 -.725 1 0 1011.6 419)">50</text>
<path class="ac" d="M1217.5 107V441"/>
<path class="ad" d="M1216.3 109.5l2.4 -2.4"/>
<path class="ac" d="M1206 108.3H1219"/>
<path class="ad" d="M1216.3 140.8l2.4 -2.4"/>
<path class="ac" d="M1206 139.6H1219"/>
<path class="ad" d="M1216.3 147.9l2.4 -2.4"/>
<path class="ac" d="M1206 146.7H1219"/>
<path class="ad" d="M1216.3 351l2.4 -2.4"/>
<path class="ac" d="M1206 349.8H1219"/>
<path class="ad" d="M1216.3 356l2.4 -2.4"/>
<path class="ac" d="M1206 354.8H1219"/>
<path class="ad" d="M1216.3 361.6l2.4 -2.4"/>
<path class="ac" d="M1206 360.4H1219"/>
<path class="ad" d="M1216.3 378.6l2.4 -2.4"/>
<path class="ac" d="M1206 377.4H1219"/>
<path class="ad" d="M1216.3 385.4l2.4 -2.4"/>
<path class="ac" d="M1206 384.2H1219"/>
<path class="ad" d="M1216.3 393.4l2.4 -2.4"/>
<path class="ac" d="M1206 392.2H1219"/>
<path class="ad" d="M1216.3 408l2.4 -2.4"/>
<path class="ac" d="M1206 406.8H1219"/>
<path class="ad" d="M1216.3 414.2l2.4 -2.4"/>
<path class="ac" d="M1206 413H1219"/>
<path class="ad" d="M1216.3 423.8l2.4 -2.4"/>
<path class="ac" d="M1206 422.6H1219"/>
<path class="ad" d="M1216.3 440.6l2.4 -2.4"/>
<path class="ac" d="M1206 439.4H1219M1228.7 108.3V422.6"/>
<path class="ad" d="M1227.1 109.9l3.2 -3.2M1227.1 424.2l3.2 -3.2"/>
<path class="s" d="M1217 108.3H1230M1217 422.6H1230"/>
<text class="ab" transform="matrix(0 -.725 1 0 1226.6 264.6)">2185</text>
<text class="ab" transform="matrix(0 -.725 1 0 1215.4 123.3)">215</text>
<text class="ab" transform="matrix(0 -.725 1 0 1215.4 142.9)">50</text>
<text class="ab" transform="matrix(0 -.725 1 0 1215.4 346.6)">30</text>
<text class="ab" transform="matrix(0 -.725 1 0 1222.2 357)">40</text>
<text class="ab" transform="matrix(0 -.725 1 0 1215.4 369.1)">140</text>
<text class="ab" transform="matrix(0 -.725 1 0 1215.4 379.2)">5</text>
<text class="ab" transform="matrix(0 -.725 1 0 1222.2 381.6)">20</text>
<text class="ab" transform="matrix(0 -.725 1 0 1215.4 387.9)">55</text>
<text class="ab" transform="matrix(0 -.725 1 0 1215.4 401.2)">140</text>
<text class="ab" transform="matrix(0 -.725 1 0 1215.4 410)">5</text>
<text class="ab" transform="matrix(0 -.725 1 0 1215.4 418.5)">65</text>
<text class="ab" transform="matrix(0 -.725 1 0 1215.4 430.6)">115</text>
<text class="ab" transform="matrix(0 -.725 1 0 1215.4 248.3)">1400</text>
<rect x="1029.6" y="60.1" width="172.8" height="393.6" fill="none" stroke="#000" stroke-width="2.0" stroke-dasharray="6.2 3.8"/>
<rect x="1283.6" y="62.2" width="172.8" height="5.5" fill="url(#hatch)" stroke="none"/>
<rect x="1439.1" y="62.2" width="17.3" height="393.6" fill="url(#hatch)" stroke="none"/>
<rect x="1283.6" y="441.5" width="172.8" height="14.3" fill="url(#hatch)" stroke="none"/>
<path class="bk" d="M1283.6 67.7H1439.1"/>
<path class="bl" d="M1283.6 69.3H1439.1"/>
<path class="bk" d="M1439.1 67.7V441.5"/>
<path class="e" d="M1334.8 69.3h104.3v31.8h-104.3z"/>
<path class="bm" d="M1338 73.1h98v25h-98z"/>
<path class="bn" d="M1334.8 67.7h3.8v3.8h-3.8z"/>
<path class="bo" d="M1335.6 68.5L1337.8 70.7M1337.8 68.5L1335.6 70.7"/>
<path class="bn" d="M1435.1 67.7h3.8v3.8h-3.8z"/>
<path class="bo" d="M1435.9 68.5L1438.1 70.7M1438.1 68.5L1435.9 70.7"/>
<path class="bn" d="M1334.8 94.5h3.8v3.8h-3.8z"/>
<path class="bo" d="M1335.6 95.3L1337.8 97.5M1337.8 95.3L1335.6 97.5"/>
<path class="bn" d="M1344.3 94.5h3.8v3.8h-3.8z"/>
<path class="bo" d="M1345.1 95.3L1347.3 97.5M1347.3 95.3L1345.1 97.5"/>
<path class="bn" d="M1344.3 102.1h3.8v3.8h-3.8z"/>
<path class="bo" d="M1345.1 102.9L1347.3 105.1M1347.3 102.9L1345.1 105.1"/>
<path class="bn" d="M1435.1 102.1h3.8v3.8h-3.8z"/>
<path class="bo" d="M1435.9 102.9L1438.1 105.1M1438.1 102.9L1435.9 105.1"/>
<path class="bp" d="M1331.8 69.3h2.5v33.1h-2.5z"/>
<path class="bq" d="M1309.7 102.4h30.8v2.5h-30.8z"/>
<path class="bq" d="M1309.7 96.9h2.5v8h-2.5z"/>
<path class="br" d="M1283.6 104.9H1309.7"/>
<circle class="bs" cx="1320.2" cy="98.7" r="1.1"/>
<path class="bo" d="M1318.4 98.7H1322M1320.2 96.9V100.5"/>
<circle class="aj" cx="1325.2" cy="98.1" r="1.6"/>
<path class="bt" d="M1323 99.5h4.4v2.6h-4.4z"/>
<path class="bu" d="M1340.5 106.1h97.8v3.8h-97.8z"/>
<path class="bu" d="M1340.5 108.6h3.8v243.8h-3.8z"/>
<path class="bq" d="M1435.1 109.9h3.2v309h-3.2z"/>
<path class="bx" d="M1435.7 160.1h2.2v7h-2.2z"/>
<path class="bx" d="M1435.7 248.1h2.2v7h-2.2z"/>
<path class="bx" d="M1435.7 328.1h2.2v7h-2.2z"/>
<path class="cb" d="M1344.3 141.7h90.8v7.1h-90.8z"/>
<path class="cc" d="M1346 143.5h87.4v3.5h-87.4z"/>
<text class="cd" transform="matrix(1 0 0 1 1348 147.5)">×</text>
<text class="cd" transform="matrix(1 0 0 1 1382 147.5)">×</text>
<text class="cd" transform="matrix(1 0 0 1 1430 147.5)">×</text>
<path class="b1" d="M1342.2 125.7h2.2v4.4h-2.2z"/>
<path class="b2" d="M1344.6 126.3h4.6v3.2h-4.6z"/>
<path d="M1349.0 126.4l3 1.5l-3 1.5z" fill="#000"/>
<path class="b1" d="M1342.2 223h2.2v4.4h-2.2z"/>
<path class="b2" d="M1344.6 223.6h4.6v3.2h-4.6z"/>
<path d="M1349.0 223.7l3 1.5l-3 1.5z" fill="#000"/>
<path class="b1" d="M1342.2 324.8h2.2v4.4h-2.2z"/>
<path class="b2" d="M1344.6 325.4h4.6v3.2h-4.6z"/>
<path d="M1349.0 325.5l3 1.5l-3 1.5z" fill="#000"/>
<path class="s" d="M1389.4 111.9L1387.4 114.6L1391.4 114.6Z"/>
<text class="t" transform="matrix(.818 0 0 1 1391.4 119.5)">2.165</text>
<path class="u" d="M1386.8 114.6H1404.9"/>
<path class="s" d="M1392.7 140.3L1390.7 137.6L1394.7 137.6Z"/>
<text class="t" transform="matrix(.818 0 0 1 1394.5 138.7)">1.950</text>
<path class="u" d="M1390.1 140.2H1407.5"/>
<path class="bu" d="M1340.5 352.4h94.6v4.5h-94.6z"/>
<path class="bu" d="M1340.5 357.5h3.3v25.5h-3.3z"/>
<path class="ag" d="M1344.3 356.9H1435"/>
<path class="bu" d="M1344.3 379.4h88.1v3.6h-88.1z"/>
<path class="bu" d="M1429 362.5h3.4v20.5h-3.4z"/>
<path class="cg" d="M1350.3 371.2H1422.4"/>
<path class="ch" d="M1352.7 371.2H1421.4"/>
<path d="M1353.5 371.2H1421.4" stroke="#fff" stroke-width="1.1" stroke-dasharray="2.6 3.2"/>
<path d="M1349.8 371.2l2.6 -1.4v2.8zM1422.9 371.2l-2.6 -1.4v2.8z" fill="#000"/>
<path class="bu" d="M1340.5 386.9h3.3v25.7h-3.3z"/>
<path class="ag" d="M1344.3 386.3H1435"/>
<path class="bu" d="M1344.3 409h88.1v3.6h-88.1z"/>
<path class="bu" d="M1429 391.9h3.4v20.7h-3.4z"/>
<path class="cg" d="M1350.3 403.1H1422.4"/>
<path class="ch" d="M1352.7 403.1H1421.4"/>
<path d="M1353.5 403.1H1421.4" stroke="#fff" stroke-width="1.1" stroke-dasharray="2.6 3.2"/>
<path d="M1349.8 403.1l2.6 -1.4v2.8zM1422.9 403.1l-2.6 -1.4v2.8z" fill="#000"/>
<path class="ag" d="M1344.3 384.7H1435.1"/>
<path class="bu" d="M1340.5 413.9h97.8v5h-97.8z"/>
<path class="s" d="M1390.2 351.4L1388.2 348.7L1392.2 348.7Z"/>
<text class="t" transform="matrix(.818 0 0 1 1392 349.8)">0.500</text>
<path class="u" d="M1387.6 351.3H1405"/>
<path class="b4" d="M1344.8 420.9h5.6v5.6h-5.6z"/>
<path class="n" d="M1345.8 421.9L1349.4 425.5M1349.4 421.9L1345.8 425.5"/>
<path class="b4" d="M1388.2 420.9h5.6v5.6h-5.6z"/>
<path class="n" d="M1389.2 421.9L1392.8 425.5M1392.8 421.9L1389.2 425.5"/>
<path class="b4" d="M1432.6 420.9h5.6v5.6h-5.6z"/>
<path class="n" d="M1433.6 421.9L1437.2 425.5M1437.2 421.9L1433.6 425.5"/>
<path class="b4" d="M1344.8 434.3h5.6v5.6h-5.6z"/>
<path class="n" d="M1345.8 435.3L1349.4 438.9M1349.4 435.3L1345.8 438.9"/>
<path class="b4" d="M1388.2 434.3h5.6v5.6h-5.6z"/>
<path class="n" d="M1389.2 435.3L1392.8 438.9M1392.8 435.3L1389.2 438.9"/>
<path class="b4" d="M1432.6 434.3h5.6v5.6h-5.6z"/>
<path class="n" d="M1433.6 435.3L1437.2 438.9M1437.2 435.3L1433.6 438.9"/>
<path class="ci" d="M1350.5 423.6H1432.6M1350.5 428.1H1432.6M1350.5 432.6H1432.6M1350.5 439.1H1432.6"/>
<path class="b6" d="M1284.6 424.7h59.2v2.6h-59.2z"/>
<path class="o" d="M1284.6 424.7H1343.8"/>
<path class="b7" d="M1284.6 427.3h59.2v9h-59.2z"/>
<path class="b8" d="M1284.6 436.3h59.2v5.2h-59.2z"/>
<circle class="bw" cx="1288.6" cy="431.1" r="1"/>
<circle class="bw" cx="1320.1" cy="431.3" r="1"/>
<path d="M1323.7 429.9l2 1.2l-1.6 1z" fill="#333"/>
<path class="g" d="M1283.6 441.5H1439.1"/>
<path class="a2" d="M1343.8 418.9V441.5"/>
<path class="am" d="M1316.7 86.8L1323.7 86.8L1323.7 71"/>
<circle class="an" cx="1323.7" cy="71" r=".9"/>
<use href="#w6" x="1287.4" y="82.8"/>
<path class="am" d="M1316.7 115.4L1333 115.4L1333 104.9"/>
<circle class="an" cx="1333" cy="104.9" r=".9"/>
<use href="#w6" x="1287.4" y="111.4"/>
<path class="s" d="M1313.4 72.8L1311.4 75.5L1315.4 75.5Z"/>
<text class="t" transform="matrix(.818 0 0 1 1300.9 80.4)">2.430</text>
<path class="u" d="M1300.4 75.5H1316"/>
<text class="t" transform="matrix(.698 0 0 1 1312.7 112.5)">2.200</text>
<path class="u" d="M1326.2 106.3L1324.6 108.5L1327.8 108.5Z"/>
<path class="bu" d="M1344.3 190.6h90.8v3h-90.8z"/>
<path class="s" d="M1389.6 189.3L1387.6 186.6L1391.6 186.6Z"/>
<text class="t" transform="matrix(.818 0 0 1 1391.3 187.7)">1.610</text>
<path class="u" d="M1387 189.2H1404.3"/>
<path class="bu" d="M1344.3 243.7h90.8v3.3h-90.8z"/>
<path class="s" d="M1389.6 242.7L1387.6 240L1391.6 240Z"/>
<text class="t" transform="matrix(.818 0 0 1 1391.3 241.1)">1.240</text>
<path class="u" d="M1387 242.6H1404.3"/>
<path class="bu" d="M1344.3 298.4h90.8v3h-90.8z"/>
<path class="s" d="M1389.6 296.9L1387.6 294.2L1391.6 294.2Z"/>
<text class="t" transform="matrix(.818 0 0 1 1391.3 295.3)">0.870</text>
<path class="u" d="M1387 296.8H1404.3"/>
<path class="am" d="M1316.7 136.9L1355.2 136.9"/>
<circle class="an" cx="1355.2" cy="136.9" r=".9"/>
<use href="#w7" x="1287.4" y="132.9"/>
<path class="am" d="M1316.7 171.5L1364.5 171.5"/>
<circle class="an" cx="1364.5" cy="171.5" r=".9"/>
<circle class="an" cx="1340.5" cy="171.5" r=".8"/>
<use href="#w7" x="1287.4" y="167.5"/>
<use href="#q15" x="1292.5" y="210.3"/>
<path class="am" d="M1288 210.6L1345.2 210.6"/>
<circle class="an" cx="1345.2" cy="210.6" r=".9"/>
<path class="am" d="M1316.7 232.2L1370.8 232.2"/>
<circle class="an" cx="1370.8" cy="232.2" r=".9"/>
<path class="cg" d="M1357 232.2L1365.2 244.5"/>
<circle class="an" cx="1365.2" cy="244.5" r=".8"/>
<use href="#w7" x="1287.4" y="228.2"/>
<path class="am" d="M1316.7 282.3L1370.8 282.3"/>
<circle class="an" cx="1370.8" cy="282.3" r=".9"/>
<path class="cg" d="M1357 282.3L1365.2 298.9"/>
<circle class="an" cx="1365.2" cy="298.9" r=".8"/>
<use href="#w7" x="1287.4" y="278.3"/>
<path class="am" d="M1316.7 338.5L1370.8 338.5"/>
<circle class="an" cx="1370.8" cy="338.5" r=".9"/>
<path class="cg" d="M1357 338.5L1365.2 351.6"/>
<circle class="an" cx="1365.2" cy="351.6" r=".8"/>
<use href="#w7" x="1287.4" y="334.5"/>
<path class="cm" d="M1344.3 125.2H1344.3"/>
<use href="#q15" x="1293.6" y="326.5"/>
<path class="am" d="M1288.4 327L1343 327"/>
<use href="#q24" x="1294" y="370.9"/>
<path class="am" d="M1288.4 371.7L1350.6 371.7M1316.7 397.1L1340.5 397.1"/>
<circle class="an" cx="1340.5" cy="397.1" r=".9"/>
<path class="cg" d="M1326.7 397.1L1340.5 418.9"/>
<use href="#w7" x="1287.4" y="393.1"/>
<path class="am" d="M1316.7 410.1L1326.7 410.1L1326.7 424.7"/>
<circle class="an" cx="1326.7" cy="424.7" r=".9"/>
<use href="#w8" x="1287.4" y="406.1"/>
<use href="#q20" x="1291.6" y="422.1"/>
<path class="s" d="M1323 424.5L1321 421.8L1325 421.8Z"/>
<text class="t" transform="matrix(.818 0 0 1 1308.7 422.9)">±0.000</text>
<path class="u" d="M1320.4 424.4H1323.2"/>
<path class="ac" d="M1339.3 35.9H1435.8"/>
<path class="ad" d="M1337.7 37.5l3.2 -3.2M1434.2 37.5l3.2 -3.2"/>
<text class="v" transform="matrix(.698 0 0 1 1386.9 34.7)">650</text>
<path class="ac" d="M1338 46.7H1441"/>
<path class="ad" d="M1338 48l2.6 -2.6"/>
<path class="s" d="M1339.3 46.7V57.2"/>
<path class="ad" d="M1343 48l2.6 -2.6"/>
<path class="cl" d="M1344.3 46.7V57.2"/>
<path class="ad" d="M1433.8 48l2.6 -2.6"/>
<path class="s" d="M1435.1 46.7V57.2"/>
<path class="ad" d="M1438.3 48l2.6 -2.6"/>
<path class="s" d="M1439.6 46.7V57.2M1339.3 35.9V57.2M1435.8 35.9V47.1"/>
<text class="ae" transform="matrix(.725 0 0 1 1345.5 45.1)">30.5</text>
<text class="ae" transform="matrix(.725 0 0 1 1389.4 45.1)">615</text>
<text class="ae" transform="matrix(.725 0 0 1 1438 44.5)">30</text>
<path class="ac" d="M1338 471.1H1441"/>
<path class="ad" d="M1338 472.4l2.6 -2.6"/>
<path class="s" d="M1339.3 460.6V472.1"/>
<path class="ad" d="M1343 472.4l2.6 -2.6"/>
<path class="s" d="M1344.3 460.6V472.1"/>
<path class="ad" d="M1428.7 472.4l2.6 -2.6"/>
<path class="s" d="M1430 460.6V472.1"/>
<path class="ad" d="M1433.8 472.4l2.6 -2.6"/>
<path class="s" d="M1435.1 460.6V472.1"/>
<path class="ad" d="M1438.3 472.4l2.6 -2.6"/>
<path class="s" d="M1439.6 460.6V472.1"/>
<text class="av" transform="matrix(.725 0 0 1 1341.8 469.5)">30</text>
<text class="av" transform="matrix(.725 0 0 1 1388.2 469.5)">595</text>
<text class="av" transform="matrix(.725 0 0 1 1427.6 469.5)">20</text>
<text class="av" transform="matrix(.725 0 0 1 1437.4 469.5)">30</text>
<text class="aw" transform="matrix(.725 0 0 1 1345 477.7)">5</text>
<path class="ac" d="M1339.3 481.6H1435.1"/>
<path class="ad" d="M1337.7 483.2l3.2 -3.2M1433.5 483.2l3.2 -3.2"/>
<text class="v" transform="matrix(.698 0 0 1 1386.9 480.4)">650</text>
<path class="s" d="M1339.3 471.1V482.4M1435.1 471.1V482.4"/>
<path class="ac" d="M1257 70.5V424.7"/>
<path class="ad" d="M1255.4 72.1l3.2 -3.2M1255.4 426.3l3.2 -3.2"/>
<text class="av" transform="matrix(0 -.725 1 0 1254.8 246.6)">2430</text>
<path class="ac" d="M1267.8 67.1V426.1"/>
<path class="ad" d="M1266.6 70.2l2.4 -2.4"/>
<path class="ac" d="M1267.8 69H1279.5"/>
<path class="ad" d="M1266.6 98.1l2.4 -2.4"/>
<path class="ac" d="M1267.8 96.9H1279.5"/>
<path class="ad" d="M1266.6 106.1l2.4 -2.4"/>
<path class="ac" d="M1267.8 104.9H1279.5"/>
<path class="ad" d="M1266.6 353.6l2.4 -2.4"/>
<path class="ac" d="M1267.8 352.4H1279.5"/>
<path class="ad" d="M1266.6 385.5l2.4 -2.4"/>
<path class="ac" d="M1267.8 384.3H1279.5"/>
<path class="ad" d="M1266.6 418.1l2.4 -2.4"/>
<path class="ac" d="M1267.8 416.9H1279.5"/>
<path class="ad" d="M1266.6 425.9l2.4 -2.4"/>
<path class="ac" d="M1267.8 424.7H1279.5"/>
<path class="s" d="M1267.8 70.5H1279.5M1267.8 108.6H1279.5M1267.8 355.4H1279.5M1267.8 387.5H1279.5M1256 70.5H1279.5M1256 424.7H1279.5"/>
<text class="ab" transform="matrix(0 -.725 1 0 1265.6 67.3)">20</text>
<text class="ab" transform="matrix(0 -.725 1 0 1265.6 83.6)">170</text>
<text class="ab" transform="matrix(0 -.725 1 0 1265.6 99.9)">60</text>
<text class="ab" transform="matrix(0 -.725 1 0 1265.6 109.3)">20</text>
<text class="ab" transform="matrix(0 -.725 1 0 1265.6 230.3)">1685</text>
<text class="ab" transform="matrix(0 -.725 1 0 1265.6 353.7)">30</text>
<text class="ab" transform="matrix(0 -.725 1 0 1265.6 370)">200</text>
<text class="ab" transform="matrix(0 -.725 1 0 1265.6 385.8)">30</text>
<text class="ab" transform="matrix(0 -.725 1 0 1265.6 401.8)">200</text>
<text class="ab" transform="matrix(0 -.725 1 0 1265.6 413.9)">5</text>
<text class="ab" transform="matrix(0 -.725 1 0 1265.6 421.1)">50</text>
<path class="ac" d="M1471.5 109.1V443.1"/>
<path class="ad" d="M1470.3 111.6l2.4 -2.4"/>
<path class="ac" d="M1460 110.4H1473"/>
<path class="ad" d="M1470.3 142.9l2.4 -2.4"/>
<path class="ac" d="M1460 141.7H1473"/>
<path class="ad" d="M1470.3 150l2.4 -2.4"/>
<path class="ac" d="M1460 148.8H1473"/>
<path class="ad" d="M1470.3 191.8l2.4 -2.4"/>
<path class="ac" d="M1460 190.6H1473"/>
<path class="ad" d="M1470.3 244.9l2.4 -2.4"/>
<path class="ac" d="M1460 243.7H1473"/>
<path class="ad" d="M1470.3 299.6l2.4 -2.4"/>
<path class="ac" d="M1460 298.4H1473"/>
<path class="ad" d="M1470.3 353.1l2.4 -2.4"/>
<path class="ac" d="M1460 351.9H1473"/>
<path class="ad" d="M1470.3 358.1l2.4 -2.4"/>
<path class="ac" d="M1460 356.9H1473"/>
<path class="ad" d="M1470.3 363.7l2.4 -2.4"/>
<path class="ac" d="M1460 362.5H1473"/>
<path class="ad" d="M1470.3 380.7l2.4 -2.4"/>
<path class="ac" d="M1460 379.5H1473"/>
<path class="ad" d="M1470.3 387.5l2.4 -2.4"/>
<path class="ac" d="M1460 386.3H1473"/>
<path class="ad" d="M1470.3 395.5l2.4 -2.4"/>
<path class="ac" d="M1460 394.3H1473"/>
<path class="ad" d="M1470.3 410.1l2.4 -2.4"/>
<path class="ac" d="M1460 408.9H1473"/>
<path class="ad" d="M1470.3 416.3l2.4 -2.4"/>
<path class="ac" d="M1460 415.1H1473"/>
<path class="ad" d="M1470.3 425.9l2.4 -2.4"/>
<path class="ac" d="M1460 424.7H1473"/>
<path class="ad" d="M1470.3 442.7l2.4 -2.4"/>
<path class="ac" d="M1460 441.5H1473"/>
<path class="s" d="M1460 193.6H1473M1460 247H1473M1460 301.4H1473"/>
<path class="ac" d="M1482.7 110.4V424.7"/>
<path class="ad" d="M1481.1 112l3.2 -3.2M1481.1 426.3l3.2 -3.2"/>
<path class="s" d="M1471 110.4H1484M1471 424.7H1484"/>
<text class="ab" transform="matrix(0 -.725 1 0 1480.6 266.7)">2165</text>
<text class="ab" transform="matrix(0 -.725 1 0 1469.4 125.4)">215</text>
<text class="ab" transform="matrix(0 -.725 1 0 1469.4 145)">50</text>
<text class="ab" transform="matrix(0 -.725 1 0 1469.4 348.7)">30</text>
<text class="ab" transform="matrix(0 -.725 1 0 1476.2 359.1)">40</text>
<text class="ab" transform="matrix(0 -.725 1 0 1469.4 371.2)">140</text>
<text class="ab" transform="matrix(0 -.725 1 0 1469.4 381.3)">5</text>
<text class="ab" transform="matrix(0 -.725 1 0 1476.2 383.7)">20</text>
<text class="ab" transform="matrix(0 -.725 1 0 1469.4 390)">55</text>
<text class="ab" transform="matrix(0 -.725 1 0 1469.4 403.3)">140</text>
<text class="ab" transform="matrix(0 -.725 1 0 1469.4 412.1)">5</text>
<text class="ab" transform="matrix(0 -.725 1 0 1469.4 420.6)">65</text>
<text class="ab" transform="matrix(0 -.725 1 0 1469.4 432.7)">115</text>
<text class="ab" transform="matrix(0 -.725 1 0 1469.4 169.3)">290</text>
<text class="ab" transform="matrix(0 -.725 1 0 1476.2 192.3)">20</text>
<text class="ab" transform="matrix(0 -.725 1 0 1469.4 218.2)">350</text>
<text class="ab" transform="matrix(0 -.725 1 0 1476.2 245.7)">20</text>
<text class="ab" transform="matrix(0 -.725 1 0 1469.4 272.1)">350</text>
<text class="ab" transform="matrix(0 -.725 1 0 1476.2 300.1)">20</text>
<text class="ab" transform="matrix(0 -.725 1 0 1469.4 326.1)">350</text>
<rect x="1283.6" y="62.2" width="172.8" height="393.6" fill="none" stroke="#000" stroke-width="2.0" stroke-dasharray="6.2 3.8"/>
<circle class="ai" cx="1386.6" cy="505.8" r="7.5"/>
<path class="aj" d="M1379.1 505.8H1394.1"/>
<text class="b9" transform="matrix(.744 0 0 1 1386.6 505)">3</text>
<text class="ca" transform="matrix(.577 0 0 1 1386.6 510.4)">D1T.3-</text>
<text class="cn" transform="matrix(.8 0 0 1 1396.3 513.8)">1:15</text>
<rect x="41.9" y="560.0" width="14.5" height="397.5" fill="url(#hatchm)" stroke="none"/>
<rect x="56.4" y="946.0" width="161.3" height="11.5" fill="url(#hatchm)" stroke="none"/>
<path class="bk" d="M56.4 560V946"/>
<path class="e" d="M57.7 560h85.8v18.9h-85.8z"/>
<path class="ci" d="M57.7 575.6H150"/>
<path class="co" d="M57.4 574h3.2v3.2h-3.2z"/>
<path class="a9" d="M58.2 574.8L59.8 576.4M59.8 574.8L58.2 576.4"/>
<path class="co" d="M141.5 574h3.2v3.2h-3.2z"/>
<path class="a9" d="M142.3 574.8L143.9 576.4M143.9 574.8L142.3 576.4"/>
<path class="cp" d="M152.5 577.2h65.2v3h-65.2z"/>
<path class="j" d="M152.5 580.2H217.7"/>
<path class="cq" d="M150 560V575.6"/>
<path class="l" d="M147.5 567.2H217.7M147.5 574.5H217.7"/>
<path class="cr" d="M150.5 567.2L147.5 567.2L147.5 574.5L150.5 574.5"/>
<path d="M166.5 566.6h5.4v6l1.4 3.6h-8.2l1.4 -3.6z" fill="#fff" stroke="#111" stroke-width="0.8"/>
<path class="cs" d="M169.2 574V579"/>
<path class="ct" d="M184.3 560.6h3.3v14.5h-3.3z"/>
<path class="bu" d="M56.4 579.6h93.6v3.5h-93.6z"/>
<path class="bu" d="M150 576.4h2.5v6.7h-2.5z"/>
<path class="bu" d="M56.4 579.6h3.3v343.3h-3.3z"/>
<path class="cu" d="M150 583.1V946"/>
<path class="cv" d="M59.7 641.1h90.3v7.2h-90.3z"/>
<path class="bu" d="M59.7 641.1h90.3v2h-90.3z"/>
<path class="cw" d="M61.1 644.3h87.5v2.8h-87.5z"/>
<path class="a6" d="M62.7 644.7L65.7 646.7M65.7 644.7L62.7 646.7M101.8 644.7L104.8 646.7M104.8 644.7L101.8 646.7M143.5 644.7L146.5 646.7M146.5 644.7L143.5 646.7"/>
<path class="cv" d="M59.7 852.7h90.3v8.8h-90.3z"/>
<path class="bu" d="M59.7 852.7h90.3v2h-90.3z"/>
<path class="cw" d="M61.1 855.9h87.5v4.4h-87.5z"/>
<path class="a6" d="M62.7 856.3L65.7 859.9M65.7 856.3L62.7 859.9M101.8 856.3L104.8 859.9M104.8 856.3L101.8 859.9M143.5 856.3L146.5 859.9M146.5 856.3L143.5 859.9"/>
<path class="bu" d="M56.4 920.4h93.6v2.5h-93.6z"/>
<path class="b4" d="M57.2 924.2h5v5h-5z"/>
<path class="n" d="M58.2 925.2L61.2 928.2M61.2 925.2L58.2 928.2"/>
<path class="b4" d="M141.7 924.2h5v5h-5z"/>
<path class="n" d="M142.7 925.2L145.7 928.2M145.7 925.2L142.7 928.2"/>
<path class="b4" d="M57.2 940.5h5v5h-5z"/>
<path class="n" d="M58.2 941.5L61.2 944.5M61.2 941.5L58.2 944.5"/>
<path class="b4" d="M141.7 940.5h5v5h-5z"/>
<path class="n" d="M142.7 941.5L145.7 944.5M145.7 941.5L142.7 944.5"/>
<path class="ci" d="M62.2 929.7H141.7M62.2 935H141.7M62.2 940H141.7"/>
<path class="cx" d="M147.5 922.9h2.8v23.1h-2.8z"/>
<path class="b6" d="M150.3 928.7h66.4v2.6h-66.4z"/>
<path class="o" d="M150.3 928.7H216.7"/>
<path class="b7" d="M150.3 931.3h66.4v9.5h-66.4z"/>
<path class="b8" d="M150.3 940.8h66.4v5.2h-66.4z"/>
<circle class="bw" cx="154.3" cy="935.1" r="1"/>
<circle class="bw" cx="190.1" cy="935.3" r="1"/>
<path d="M194.1 933.9l2 1.2l-1.6 1z" fill="#333"/>
<path class="bv" d="M201.9 925.4h13.8v3.3h-13.8z"/>
<path class="g" d="M56.4 946H217.7"/>
<path class="s" d="M73.5 584.4L71.5 587.1L75.5 587.1Z"/>
<text class="t" transform="matrix(.818 0 0 1 72.7 592)">2.280</text>
<path class="u" d="M70.9 587.1H86.2"/>
<path class="s" d="M164.3 582.1L162.3 584.8L166.3 584.8Z"/>
<text class="t" transform="matrix(.818 0 0 1 165 589.7)">2.300</text>
<path class="u" d="M161.7 584.8H178.5"/>
<text class="bg" transform="matrix(.7 0 0 1 181.4 595)">9+9.</text>
<use href="#q26" x="188.6" y="595"/>
<path class="cy" d="M181.1 596.4H208"/>
<path class="s" d="M181.1 577.6V596.4"/>
<path class="cz" d="M143 596.9L155.5 596.9L155.5 580.1"/>
<circle class="an" cx="155.5" cy="580.1" r=".9"/>
<use href="#w9" x="112.9" y="592.7"/>
<path class="s" d="M110.4 640L108.4 637.3L112.4 637.3Z"/>
<text class="t" transform="matrix(.818 0 0 1 112.2 638.4)">1.900</text>
<path class="u" d="M107.8 639.9H125.2"/>
<path class="s" d="M112.1 852.2L110.1 849.5L114.1 849.5Z"/>
<text class="t" transform="matrix(.818 0 0 1 113.9 850.6)">0.500</text>
<path class="u" d="M109.5 852.1H126.9"/>
<path class="cz" d="M178.1 868.8L150 868.8"/>
<circle class="an" cx="150" cy="868.8" r=".9"/>
<path class="cz" d="M178.1 907.1L172.6 907.1L172.6 928.7"/>
<circle class="an" cx="172.6" cy="928.7" r=".9"/>
<use href="#w10" x="178.1" y="902.9"/>
<path class="s" d="M186.1 926.7L184.1 924L188.1 924Z"/>
<text class="t" transform="matrix(.818 0 0 1 184.3 925.1)">±0.000</text>
<path class="u" d="M183.5 926.6H199.8"/>
<use href="#q29" x="207" y="924.4"/>
<path class="s" d="M160.5 849.5V947"/>
<path class="ad" d="M159.4 852.1l2.2 -2.2"/>
<path class="u" d="M152.5 851H161.5"/>
<path class="ad" d="M159.4 856.1l2.2 -2.2"/>
<path class="u" d="M152.5 855H161.5"/>
<path class="ad" d="M159.4 860.1l2.2 -2.2"/>
<path class="u" d="M152.5 859H161.5"/>
<path class="ad" d="M159.4 888.9l2.2 -2.2"/>
<path class="u" d="M152.5 887.8H161.5"/>
<path class="ad" d="M159.4 892.7l2.2 -2.2"/>
<path class="u" d="M152.5 891.6H161.5"/>
<path class="ad" d="M159.4 921.5l2.2 -2.2"/>
<path class="u" d="M152.5 920.4H161.5"/>
<path class="ad" d="M159.4 929.8l2.2 -2.2"/>
<path class="u" d="M152.5 928.7H161.5"/>
<path class="ad" d="M159.4 947.1l2.2 -2.2"/>
<path class="u" d="M152.5 946H161.5"/>
<text class="aw" transform="matrix(0 -.725 1 0 164.9 853)">20</text>
<text class="aw" transform="matrix(0 -.725 1 0 164.9 859.6)">20</text>
<text class="aw" transform="matrix(0 -.725 1 0 158.5 872.8)">195</text>
<text class="aw" transform="matrix(0 -.725 1 0 164.9 889.6)">20</text>
<text class="aw" transform="matrix(0 -.725 1 0 158.5 905.4)">195</text>
<text class="aw" transform="matrix(0 -.725 1 0 158.5 925.4)">50</text>
<text class="aw" transform="matrix(0 -.725 1 0 158.5 937.5)">115</text>
<text class="aw" transform="matrix(0 -.725 1 0 164.9 920.4)">5</text>
<path class="ac" d="M15.6 580.1V928.7"/>
<path class="ad" d="M14 581.7l3.2 -3.2M14 930.3l3.2 -3.2"/>
<text class="av" transform="matrix(0 -.725 1 0 13.4 754.4)">2300</text>
<path class="ac" d="M26.3 578.5V930"/>
<path class="ad" d="M25.1 581.3l2.4 -2.4"/>
<path class="ac" d="M26.3 580.1H37.6"/>
<path class="ad" d="M25.1 642.3l2.4 -2.4"/>
<path class="ac" d="M26.3 641.1H37.6"/>
<path class="ad" d="M25.1 649.5l2.4 -2.4"/>
<path class="ac" d="M26.3 648.3H37.6"/>
<path class="ad" d="M25.1 853.9l2.4 -2.4"/>
<path class="ac" d="M26.3 852.7H37.6"/>
<path class="ad" d="M25.1 862.7l2.4 -2.4"/>
<path class="ac" d="M26.3 861.5H37.6"/>
<path class="ad" d="M25.1 865.7l2.4 -2.4"/>
<path class="ac" d="M26.3 864.5H37.6"/>
<path class="ad" d="M25.1 883.5l2.4 -2.4"/>
<path class="ac" d="M26.3 882.3H37.6"/>
<path class="ad" d="M25.1 886.5l2.4 -2.4"/>
<path class="ac" d="M26.3 885.3H37.6"/>
<path class="ad" d="M25.1 894l2.4 -2.4"/>
<path class="ac" d="M26.3 892.8H37.6"/>
<path class="ad" d="M25.1 919.1l2.4 -2.4"/>
<path class="ac" d="M26.3 917.9H37.6"/>
<path class="ad" d="M25.1 929.9l2.4 -2.4"/>
<path class="ac" d="M26.3 928.7H37.6"/>
<path class="ad" d="M25.1 726.8l2.4 -2.4"/>
<path class="ac" d="M26.3 725.6H37.6"/>
<path class="ad" d="M25.1 790l2.4 -2.4"/>
<path class="ac" d="M26.3 788.8H37.6"/>
<path class="s" d="M26.3 583.1H37.6M26.3 728.8H37.6M26.3 792.6H37.6M14.6 580.1H37.6M14.6 928.7H37.6"/>
<text class="ab" transform="matrix(0 -.725 1 0 24.1 582.6)">20</text>
<text class="ab" transform="matrix(0 -.725 1 0 24.1 612.2)">380</text>
<text class="ab" transform="matrix(0 -.725 1 0 24.1 644.6)">50</text>
<text class="ab" transform="matrix(0 -.725 1 0 24.1 857.2)">60</text>
<text class="ab" transform="matrix(0 -.725 1 0 24.1 863.4)">15</text>
<text class="ab" transform="matrix(0 -.725 1 0 24.1 872.8)">120</text>
<text class="ab" transform="matrix(0 -.725 1 0 24.1 883.6)">20</text>
<text class="ab" transform="matrix(0 -.725 1 0 24.1 888.6)">45</text>
<text class="ab" transform="matrix(0 -.725 1 0 24.1 894.4)">15</text>
<text class="ab" transform="matrix(0 -.725 1 0 24.1 905.9)">140</text>
<text class="ab" transform="matrix(0 -.725 1 0 24.1 919)">10</text>
<text class="ab" transform="matrix(0 -.725 1 0 24.1 924)">65</text>
<text class="ab" transform="matrix(0 -.725 1 0 24.1 686.7)">510</text>
<text class="ab" transform="matrix(0 -.725 1 0 24.1 726.8)">20</text>
<text class="ab" transform="matrix(0 -.725 1 0 24.1 758.7)">400</text>
<text class="ab" transform="matrix(0 -.725 1 0 24.1 790.8)">20</text>
<text class="ab" transform="matrix(0 -.725 1 0 24.1 821.9)">400</text>
<rect x="41.9" y="560.0" width="175.8" height="397.5" fill="none" stroke="#000" stroke-width="2.2" stroke-dasharray="8.2 5.6"/>
<circle class="ai" cx="127.9" cy="973.8" r="8.3"/>
<path class="aj" d="M119.6 973.8H136.2"/>
<text class="c0" transform="matrix(.744 0 0 1 127.9 973)">1</text>
<text class="c1" transform="matrix(.577 0 0 1 127.9 978.9)">A0T.3-</text>
<text class="cn" transform="matrix(.8 0 0 1 138.7 981.4)">1:10</text>
<path class="bu" d="M59.7 725.6h90.3v3.2h-90.3z"/>
<path class="bu" d="M59.7 788.8h90.3v3.8h-90.3z"/>
<path class="s" d="M96.6 725L94.6 722.3L98.6 722.3Z"/>
<text class="t" transform="matrix(.818 0 0 1 98.4 723.4)">1.340</text>
<path class="u" d="M94 724.9H111.4"/>
<path class="s" d="M90.3 788L88.3 785.3L92.3 785.3Z"/>
<text class="t" transform="matrix(.818 0 0 1 92.1 786.4)">0.920</text>
<path class="u" d="M87.7 787.9H105.1"/>
<path class="cz" d="M178.1 627.5L132.2 627.5L132.2 641.1"/>
<circle class="an" cx="132.2" cy="641.1" r=".9"/>
<use href="#w11" x="178.1" y="623.3"/>
<path class="cz" d="M178.1 684.7L59.7 684.7"/>
<circle class="an" cx="59.7" cy="684.7" r=".9"/>
<use href="#w11" x="178.1" y="680.4"/>
<path class="cz" d="M178.1 719.1L132.2 719.1L132.2 725.6"/>
<circle class="an" cx="132.2" cy="725.6" r=".9"/>
<use href="#w11" x="178.1" y="714.8"/>
<path class="cz" d="M178.1 759.2L59.7 759.2"/>
<circle class="an" cx="59.7" cy="759.2" r=".9"/>
<use href="#w11" x="178.1" y="754.9"/>
<path class="cz" d="M178.1 806.3L129.2 806.3L129.2 792.6"/>
<circle class="an" cx="129.2" cy="792.6" r=".9"/>
<use href="#w11" x="178.1" y="802.1"/>
<path class="cz" d="M178.1 821.1L96.6 821.1L96.6 852.7"/>
<circle class="an" cx="96.6" cy="852.7" r=".9"/>
<use href="#w11" x="178.1" y="816.8"/>
<use href="#w11" x="178.1" y="864.5"/>
<path class="ac" d="M55.4 774.5H151"/>
<path class="ad" d="M54.8 776.1l3.2 -3.2M58.1 776.1l3.2 -3.2M148.4 776.1l3.2 -3.2"/>
<text class="v" transform="matrix(.698 0 0 1 51.9 772.3)">20</text>
<text class="v" transform="matrix(.698 0 0 1 104.6 772.3)">600</text>
<path class="u" d="M150 770V778"/>
<path class="bk" d="M59.7 861.5h90.3v58.9h-90.3z"/>
<path class="bl" d="M61.2 863h87.3v55.9h-87.3z"/>
<path class="d" d="M62.7 864h85.3v52.7h-85.3z"/>
<path class="ci" d="M64.4 866h81.9v48.6h-81.9zM66.4 868h77.9v44.6h-77.9z"/>
<text class="c2" transform="matrix(1 0 0 1 66 868.7)">×</text>
<text class="c2" transform="matrix(1 0 0 1 66 914.6)">×</text>
<text class="c2" transform="matrix(1 0 0 1 101.5 868.7)">×</text>
<text class="c2" transform="matrix(1 0 0 1 101.5 914.6)">×</text>
<text class="c2" transform="matrix(1 0 0 1 130 868.7)">×</text>
<text class="c2" transform="matrix(1 0 0 1 130 914.6)">×</text>
<text class="c2" transform="matrix(1 0 0 1 143.5 868.7)">×</text>
<text class="c2" transform="matrix(1 0 0 1 143.5 914.6)">×</text>
<path class="c3" d="M81.5 864.5h46.9v45.4h-46.9z"/>
<path class="bl" d="M82.9 866h44.1v42.4h-44.1z"/>
<path class="a6" d="M83 866L127 908.4M127 866L83 908.4"/>
<path class="s" d="M62.7 872.8H148"/>
<path class="ad" d="M61.6 873.9l2.2 -2.2M103.4 873.9l2.2 -2.2M146.9 873.9l2.2 -2.2"/>
<path class="u" d="M104.5 870V872.8"/>
<text class="ab" transform="matrix(.725 0 0 1 86.5 871.4)">EQ</text>
<text class="ab" transform="matrix(.725 0 0 1 125.4 871.4)">EQ</text>
<path class="bu" d="M147.5 859h3v61.4h-3z"/>
<use href="#q31" x="161.8" y="882.4"/>
<path class="cz" d="M215.7 883.6L122.1 883.6"/>
<circle class="an" cx="122.1" cy="883.6" r=".9"/>
<use href="#q32" x="188.6" y="892.6"/>
<rect x="278.1" y="560.0" width="14.5" height="397.5" fill="url(#hatchm)" stroke="none"/>
<rect x="292.6" y="946.0" width="161.3" height="11.5" fill="url(#hatchm)" stroke="none"/>
<path class="bk" d="M292.6 560V946"/>
<path class="e" d="M293.9 560h85.8v18.9h-85.8z"/>
<path class="ci" d="M293.9 575.6H386.2"/>
<path class="co" d="M293.6 574h3.2v3.2h-3.2z"/>
<path class="a9" d="M294.4 574.8L296 576.4M296 574.8L294.4 576.4"/>
<path class="co" d="M377.7 574h3.2v3.2h-3.2z"/>
<path class="a9" d="M378.5 574.8L380.1 576.4M380.1 574.8L378.5 576.4"/>
<path class="cp" d="M388.7 577.2h65.2v3h-65.2z"/>
<path class="j" d="M388.7 580.2H453.9"/>
<path class="cq" d="M386.2 560V575.6"/>
<path class="l" d="M383.7 567.2H453.9M383.7 574.5H453.9"/>
<path class="cr" d="M386.7 567.2L383.7 567.2L383.7 574.5L386.7 574.5"/>
<path d="M402.7 566.6h5.4v6l1.4 3.6h-8.2l1.4 -3.6z" fill="#fff" stroke="#111" stroke-width="0.8"/>
<path class="cs" d="M405.4 574V579"/>
<path class="ct" d="M420.5 560.6h3.3v14.5h-3.3z"/>
<path class="bu" d="M292.6 579.6h93.6v3.5h-93.6z"/>
<path class="bu" d="M386.2 576.4h2.5v6.7h-2.5z"/>
<path class="bu" d="M292.6 579.6h3.3v343.3h-3.3z"/>
<path class="cu" d="M386.2 583.1V946"/>
<path class="cv" d="M295.9 641.1h90.3v7.2h-90.3z"/>
<path class="bu" d="M295.9 641.1h90.3v2h-90.3z"/>
<path class="cw" d="M297.3 644.3h87.5v2.8h-87.5z"/>
<path class="a6" d="M298.9 644.7L301.9 646.7M301.9 644.7L298.9 646.7M338 644.7L341 646.7M341 644.7L338 646.7M379.7 644.7L382.7 646.7M382.7 644.7L379.7 646.7"/>
<path class="cv" d="M295.9 852.7h89.6v8.8h-89.6z"/>
<path class="bu" d="M295.9 852.7h89.6v2h-89.6z"/>
<path class="cw" d="M297.3 855.9h86.8v4.4h-86.8z"/>
<path class="a6" d="M298.9 856.3L301.9 859.9M301.9 856.3L298.9 859.9M337.7 856.3L340.7 859.9M340.7 856.3L337.7 859.9M379 856.3L382 859.9M382 856.3L379 859.9"/>
<path class="bu" d="M292.6 917.9h93.6v5h-93.6z"/>
<path class="b4" d="M293.4 924.2h5v5h-5z"/>
<path class="n" d="M294.4 925.2L297.4 928.2M297.4 925.2L294.4 928.2"/>
<path class="b4" d="M377.9 924.2h5v5h-5z"/>
<path class="n" d="M378.9 925.2L381.9 928.2M381.9 925.2L378.9 928.2"/>
<path class="b4" d="M293.4 940.5h5v5h-5z"/>
<path class="n" d="M294.4 941.5L297.4 944.5M297.4 941.5L294.4 944.5"/>
<path class="b4" d="M377.9 940.5h5v5h-5z"/>
<path class="n" d="M378.9 941.5L381.9 944.5M381.9 941.5L378.9 944.5"/>
<path class="ci" d="M298.4 929.7H377.9M298.4 935H377.9M298.4 940H377.9"/>
<path class="cx" d="M383.7 922.9h2.8v23.1h-2.8z"/>
<path class="b6" d="M386.5 928.7h66.4v2.6h-66.4z"/>
<path class="o" d="M386.5 928.7H452.9"/>
<path class="b7" d="M386.5 931.3h66.4v9.5h-66.4z"/>
<path class="b8" d="M386.5 940.8h66.4v5.2h-66.4z"/>
<circle class="bw" cx="390.5" cy="935.1" r="1"/>
<circle class="bw" cx="426.3" cy="935.3" r="1"/>
<path d="M430.3 933.9l2 1.2l-1.6 1z" fill="#333"/>
<path class="bv" d="M438.1 925.4h13.8v3.3h-13.8z"/>
<path class="g" d="M292.6 946H453.9"/>
<path class="s" d="M309.7 584.4L307.7 587.1L311.7 587.1Z"/>
<text class="t" transform="matrix(.818 0 0 1 308.9 592)">2.280</text>
<path class="u" d="M307.1 587.1H322.4"/>
<path class="s" d="M400.5 582.1L398.5 584.8L402.5 584.8Z"/>
<text class="t" transform="matrix(.818 0 0 1 401.2 589.7)">2.300</text>
<path class="u" d="M397.9 584.8H414.7"/>
<text class="bg" transform="matrix(.7 0 0 1 417.6 595)">9+9.</text>
<use href="#q26" x="424.8" y="595"/>
<path class="cy" d="M417.3 596.4H444.2"/>
<path class="s" d="M417.3 577.6V596.4"/>
<path class="cz" d="M379.2 596.9L391.7 596.9L391.7 580.1"/>
<circle class="an" cx="391.7" cy="580.1" r=".9"/>
<use href="#w9" x="349.1" y="592.7"/>
<path class="s" d="M346.6 640L344.6 637.3L348.6 637.3Z"/>
<text class="t" transform="matrix(.818 0 0 1 348.4 638.4)">1.900</text>
<path class="u" d="M344 639.9H361.4"/>
<path class="s" d="M348.3 852.2L346.3 849.5L350.3 849.5Z"/>
<text class="t" transform="matrix(.818 0 0 1 350.1 850.6)">0.500</text>
<path class="u" d="M345.7 852.1H363.1"/>
<path class="cz" d="M416.2 868.8L386.2 868.8"/>
<circle class="an" cx="386.2" cy="868.8" r=".9"/>
<path class="cz" d="M411.8 907.1L406 907.1L406 928.7"/>
<circle class="an" cx="406" cy="928.7" r=".9"/>
<use href="#w10" x="411.8" y="902.9"/>
<path class="s" d="M420.1 926.7L418.1 924L422.1 924Z"/>
<text class="t" transform="matrix(.818 0 0 1 418.6 925.1)">±0.000</text>
<path class="u" d="M417.5 926.6H434.1"/>
<use href="#q29" x="437.5" y="924.4"/>
<path class="s" d="M396.7 849.5V947"/>
<path class="ad" d="M395.6 852.1l2.2 -2.2"/>
<path class="u" d="M388.7 851H397.7"/>
<path class="ad" d="M395.6 856.1l2.2 -2.2"/>
<path class="u" d="M388.7 855H397.7"/>
<path class="ad" d="M395.6 860.1l2.2 -2.2"/>
<path class="u" d="M388.7 859H397.7"/>
<path class="ad" d="M395.6 888.9l2.2 -2.2"/>
<path class="u" d="M388.7 887.8H397.7"/>
<path class="ad" d="M395.6 892.7l2.2 -2.2"/>
<path class="u" d="M388.7 891.6H397.7"/>
<path class="ad" d="M395.6 921.5l2.2 -2.2"/>
<path class="u" d="M388.7 920.4H397.7"/>
<path class="ad" d="M395.6 929.8l2.2 -2.2"/>
<path class="u" d="M388.7 928.7H397.7"/>
<path class="ad" d="M395.6 947.1l2.2 -2.2"/>
<path class="u" d="M388.7 946H397.7"/>
<text class="aw" transform="matrix(0 -.725 1 0 401.1 853)">20</text>
<text class="aw" transform="matrix(0 -.725 1 0 401.1 859.6)">20</text>
<text class="aw" transform="matrix(0 -.725 1 0 394.7 872.8)">195</text>
<text class="aw" transform="matrix(0 -.725 1 0 401.1 889.6)">20</text>
<text class="aw" transform="matrix(0 -.725 1 0 394.7 905.4)">195</text>
<text class="aw" transform="matrix(0 -.725 1 0 394.7 925.4)">50</text>
<text class="aw" transform="matrix(0 -.725 1 0 394.7 937.5)">115</text>
<text class="aw" transform="matrix(0 -.725 1 0 401.1 920.4)">5</text>
<path class="ac" d="M251.8 580.1V928.7"/>
<path class="ad" d="M250.2 581.7l3.2 -3.2M250.2 930.3l3.2 -3.2"/>
<text class="av" transform="matrix(0 -.725 1 0 249.6 754.4)">2300</text>
<path class="ac" d="M262.5 578.5V930"/>
<path class="ad" d="M261.3 581.3l2.4 -2.4"/>
<path class="ac" d="M262.5 580.1H273.8"/>
<path class="ad" d="M261.3 642.3l2.4 -2.4"/>
<path class="ac" d="M262.5 641.1H273.8"/>
<path class="ad" d="M261.3 649.5l2.4 -2.4"/>
<path class="ac" d="M262.5 648.3H273.8"/>
<path class="ad" d="M261.3 853.9l2.4 -2.4"/>
<path class="ac" d="M262.5 852.7H273.8"/>
<path class="ad" d="M261.3 862.7l2.4 -2.4"/>
<path class="ac" d="M262.5 861.5H273.8"/>
<path class="ad" d="M261.3 865.7l2.4 -2.4"/>
<path class="ac" d="M262.5 864.5H273.8"/>
<path class="ad" d="M261.3 883.5l2.4 -2.4"/>
<path class="ac" d="M262.5 882.3H273.8"/>
<path class="ad" d="M261.3 886.5l2.4 -2.4"/>
<path class="ac" d="M262.5 885.3H273.8"/>
<path class="ad" d="M261.3 894l2.4 -2.4"/>
<path class="ac" d="M262.5 892.8H273.8"/>
<path class="ad" d="M261.3 919.1l2.4 -2.4"/>
<path class="ac" d="M262.5 917.9H273.8"/>
<path class="ad" d="M261.3 929.9l2.4 -2.4"/>
<path class="ac" d="M262.5 928.7H273.8"/>
<path class="ad" d="M261.3 664.6l2.4 -2.4"/>
<path class="ac" d="M262.5 663.4H273.8"/>
<path class="s" d="M262.5 583.1H273.8M250.8 580.1H273.8M250.8 928.7H273.8"/>
<text class="ab" transform="matrix(0 -.725 1 0 260.3 582.6)">20</text>
<text class="ab" transform="matrix(0 -.725 1 0 260.3 612.2)">380</text>
<text class="ab" transform="matrix(0 -.725 1 0 260.3 644.6)">50</text>
<text class="ab" transform="matrix(0 -.725 1 0 260.3 857.2)">60</text>
<text class="ab" transform="matrix(0 -.725 1 0 260.3 863.4)">15</text>
<text class="ab" transform="matrix(0 -.725 1 0 260.3 872.8)">120</text>
<text class="ab" transform="matrix(0 -.725 1 0 260.3 883.6)">20</text>
<text class="ab" transform="matrix(0 -.725 1 0 260.3 888.6)">45</text>
<text class="ab" transform="matrix(0 -.725 1 0 260.3 894.4)">15</text>
<text class="ab" transform="matrix(0 -.725 1 0 260.3 905.9)">140</text>
<text class="ab" transform="matrix(0 -.725 1 0 260.3 919)">10</text>
<text class="ab" transform="matrix(0 -.725 1 0 260.3 924)">65</text>
<text class="ab" transform="matrix(0 -.725 1 0 260.3 655.9)">100</text>
<text class="ab" transform="matrix(0 -.725 1 0 260.3 758.2)">1250</text>
<rect x="278.1" y="560.0" width="175.8" height="397.5" fill="none" stroke="#000" stroke-width="2.2" stroke-dasharray="8.2 5.6"/>
<circle class="ai" cx="365.9" cy="973.8" r="8.3"/>
<path class="aj" d="M357.6 973.8H374.2"/>
<text class="c0" transform="matrix(.744 0 0 1 365.9 973)">2</text>
<text class="c1" transform="matrix(.577 0 0 1 365.9 978.9)">A0T.3-</text>
<text class="cn" transform="matrix(.8 0 0 1 376.7 981.4)">1:10</text>
<path class="p" d="M297 642.6h24v5.2h-24z"/>
<path d="M296 647.6h6.5l3.4 -3.8h5.2v3.2h8.6" stroke="#111" stroke-width="0.9" fill="none"/>
<rect x="287.7" y="634.5" width="33.1" height="21.4" fill="none" stroke="#000" stroke-width="1.7" stroke-dasharray="1.8 1.3"/>
<circle class="ai" cx="344.8" cy="617.7" r="7"/>
<path class="aj" d="M337.8 617.7H351.8"/>
<text class="c4" transform="matrix(.744 0 0 1 344.8 616.9)">a</text>
<text class="c5" transform="matrix(.577 0 0 1 344.8 622)">-</text>
<path class="c6" d="M337.8 617.7L320.8 617.7L320.8 634.5"/>
<path class="cz" d="M416.3 627.5L369.9 627.5L369.9 641.1"/>
<circle class="an" cx="369.9" cy="641.1" r=".9"/>
<use href="#w11" x="416.3" y="623.3"/>
<path class="cz" d="M416.3 712.3L342.1 712.3"/>
<circle class="an" cx="342.1" cy="712.3" r=".9"/>
<use href="#w11" x="416.3" y="708"/>
<path class="cz" d="M416.3 759.2L295.7 759.2"/>
<circle class="an" cx="295.7" cy="759.2" r=".9"/>
<use href="#w11" x="416.3" y="754.9"/>
<path class="cz" d="M416.3 821.1L334.1 821.1L334.1 852.7"/>
<circle class="an" cx="334.1" cy="852.7" r=".9"/>
<use href="#w11" x="416.3" y="816.8"/>
<use href="#w11" x="411.8" y="864.5"/>
<use href="#q33" x="412.6" y="650.6"/>
<text class="c7" transform="matrix(.72 0 0 1 424.8 650.6)">30x30mm</text>
<path class="c8" d="M453.2 651.8L341.1 651.8L341.1 661"/>
<path class="c9" d="M338.6 660.9h4.4v5h-4.4z"/>
<path class="s" d="M346.6 663.8L344.6 661.1L348.6 661.1Z"/>
<text class="t" transform="matrix(.818 0 0 1 348.4 662.2)">1.750</text>
<path class="u" d="M344 663.7H361.4"/>
<path class="s" d="M341.1 666V681.2"/>
<path class="ac" d="M294.7 681.2H387.2"/>
<path class="ad" d="M294.1 682.8l3.2 -3.2M339.5 682.8l3.2 -3.2M384.6 682.8l3.2 -3.2"/>
<text class="v" transform="matrix(.698 0 0 1 318.4 679.2)">300</text>
<text class="v" transform="matrix(.698 0 0 1 363.6 679.2)">300</text>
<text class="ab" transform="matrix(.725 0 0 1 289.6 685.6)">20</text>
<path class="ac" d="M294.7 690.5H387.2"/>
<path class="ad" d="M294.1 692.1l3.2 -3.2M384.6 692.1l3.2 -3.2"/>
<text class="v" transform="matrix(.698 0 0 1 340.9 688.9)">600</text>
<path class="u" d="M295.7 679V691.5M386.2 676V691.5"/>
<path class="bu" d="M298.2 864.5h3.2v20.8h-3.2z"/>
<path class="bu" d="M298.2 882.3h85.3v3h-85.3z"/>
<path class="bu" d="M383.5 859.5h2.5v27.8h-2.5z"/>
<path class="ag" d="M301.4 861.5H383.5"/>
<path class="cg" d="M314 872.8H369"/>
<path class="da" d="M316 872.8H367"/>
<path d="M316.7 872.8H367.0" stroke="#fff" stroke-width="0.9" stroke-dasharray="1.8 2.7"/>
<path d="M312.5 872.8l2.8 -1.5v3zM370.5 872.8l-2.8 -1.5v3z" fill="#000"/>
<path class="bu" d="M298.2 895.8h3.2v21.6h-3.2z"/>
<path class="bu" d="M298.2 914.4h85.3v3h-85.3z"/>
<path class="bu" d="M383.5 891.6h2.5v28.8h-2.5z"/>
<path class="ag" d="M301.4 892.8H383.5"/>
<path class="cg" d="M314 904.9H369"/>
<path class="da" d="M316 904.9H367"/>
<path d="M316.7 904.9H367.0" stroke="#fff" stroke-width="0.9" stroke-dasharray="1.8 2.7"/>
<path d="M312.5 904.9l2.8 -1.5v3zM370.5 904.9l-2.8 -1.5v3z" fill="#000"/>
<path class="db" d="M295.7 887.3h88v5.5h-88z"/>
<text class="c2" transform="matrix(1 0 0 1 338 891.8)">×</text>
<text class="c2" transform="matrix(1 0 0 1 376 891.8)">×</text>
<rect x="370.4" y="849.4" width="19.6" height="50.5" fill="none" stroke="#000" stroke-width="1.7" stroke-dasharray="1.8 1.3"/>
<circle class="ai" cx="420.6" cy="835.1" r="7"/>
<path class="aj" d="M413.6 835.1H427.6"/>
<text class="c4" transform="matrix(.744 0 0 1 420.6 834.3)">b</text>
<text class="c5" transform="matrix(.577 0 0 1 420.6 839.4)">A0T.3-</text>
<path class="dc" d="M413.6 835.1L380 835.1L380 849.4"/>
<use href="#q34" x="426.9" y="892.6"/>
<rect x="493.0" y="559.8" width="7.4" height="316.5" fill="url(#hatch)" stroke="none"/>
<path class="dd" d="M505.9 559.8h7.4v269h-7.4z"/>
<path class="de" d="M513.3 624.6h15.8v204.1h-15.8z"/>
<path class="df" d="M516 624.6V828.7M518.6 624.6V828.7M521.4 624.6V828.7M524 624.6V828.7M526.6 624.6V828.7"/>
<path class="q" d="M529.1 633.5V828.3"/>
<path class="dg" d="M500 618.7h6.9v21.1h-6.9z"/>
<path class="a9" d="M500 618.7L506.9 639.8M506.9 618.7L500 639.8"/>
<path class="dg" d="M500 819.4h6.9v21.3h-6.9z"/>
<path class="a9" d="M500 819.4L506.9 840.7M506.9 819.4L500 840.7"/>
<path class="dh" d="M506.9 828.7h204.6v12h-204.6z"/>
<path class="ci" d="M506.9 831.5H711.5M506.9 834.5H711.5M506.9 837.5H711.5"/>
<path class="j" d="M529.1 828.3H711.1"/>
<path class="di" d="M711.5 640.4h6.5v210.5h-6.5z"/>
<path d="M699.4 633.5H718V850.9" stroke="#333" stroke-width="0.7" fill="none"/>
<path class="dj" d="M699.4 633.5h18.6v6.9h-18.6z"/>
<path class="q" d="M711.1 640.4V828.3"/>
<path d="M525.4 624.3H708.7L706.6 631.4L701 633.5H525.4Z" fill="#d9d9d9" stroke="#222" stroke-width="0.8"/>
<path class="dk" d="M686 628.8H696"/>
<path class="dl" d="M525.4 624.3L702.2 579.3L704.1 583L697.6 589.4L543.9 628.3"/>
<path d="M526 626h17v5l-14 3.5z" fill="#bbb" stroke="#222" stroke-width="0.7"/>
<path class="g" d="M530 633.9L530.8 660L532.8 667.2L534.6 666L540.2 633.9"/>
<path class="dm" d="M530 633.9L530 650"/>
<path class="bn" d="M519 624.6h6.4v9.5h-6.4z"/>
<path class="ci" d="M718 624.6V850.9M726.3 624.6V850.9M718 624.6H743M743 652L734 652L734 674L743 674M734 672L742 654M743 802L734 802L734 824L743 824M734 822L742 804M718 828H743"/>
<rect x="711.5" y="851.9" width="32.4" height="6.6" fill="url(#hatch)" stroke="none"/>
<path class="dn" d="M711.5 851.9h32.4v12.9h-32.4z"/>
<path class="cq" d="M711.5 858.5H743.9M711.5 861H743.9M711.5 863H743.9"/>
<path d="M722 876a4 4 0 0 1 8 0" stroke="#bbb" stroke-width="0.5" fill="none"/>
<path class="do" d="M500.4 841.7h18.1v17.6h-18.1z"/>
<path class="br" d="M500.4 841.7L518.5 859.3M518.5 841.7L500.4 859.3"/>
<path class="do" d="M693.5 841.7h18.1v17.6h-18.1z"/>
<path class="br" d="M693.5 841.7L711.6 859.3M711.6 841.7L693.5 859.3"/>
<path class="ci" d="M500.4 859.3H711.5M518.5 859.3V876M693.5 859.3V876M711.5 859.3V876"/>
<path class="ac" d="M512.7 595H718.6"/>
<path class="ad" d="M511.7 596.6l3.2 -3.2M716.4 596.6l3.2 -3.2"/>
<text class="v" transform="matrix(.698 0 0 1 615.2 593.4)">450</text>
<path class="ac" d="M512.6 604.6H719"/>
<path class="ad" d="M512.1 605.8l2.4 -2.4M521.4 605.8l2.4 -2.4M523.4 605.8l2.4 -2.4M697.3 605.8l2.4 -2.4M706.6 605.8l2.4 -2.4M716.8 605.8l2.4 -2.4"/>
<path class="s" d="M522.6 604.6V616.3M524.6 604.6V616.3M698.5 604.6V616.3M707.8 604.6V616.3M718 604.6V616.3M513.3 595V624M718 595V616.3"/>
<text class="bi" transform="matrix(.725 0 0 1 518 602.8)">20</text>
<text class="bi" transform="matrix(.725 0 0 1 523.5 599.4)">5</text>
<text class="bi" transform="matrix(.725 0 0 1 611.9 602.8)">385</text>
<text class="bi" transform="matrix(.725 0 0 1 703.5 601.6)">20</text>
<text class="bi" transform="matrix(.725 0 0 1 712.6 611.4)">20</text>
<path class="s" d="M684.1 622.8V829.6"/>
<path class="ad" d="M683 625.4l2.2 -2.2M683 630.3l2.2 -2.2M683 634.6l2.2 -2.2M683 641.5l2.2 -2.2M683 829.4l2.2 -2.2"/>
<path class="u" d="M684.1 629.2H696M684.1 640.4H696"/>
<path class="dp" d="M684.1 828.3H695"/>
<text class="aw" transform="matrix(0 -.725 1 0 681.6 622.6)">10</text>
<text class="dq" transform="matrix(0 -.725 1 0 684.6 631.2)">20</text>
<text class="aw" transform="matrix(0 -.725 1 0 681.6 637.4)">15</text>
<text class="av" transform="matrix(0 -.725 1 0 681.6 734.3)">415</text>
<path class="ac" d="M528.5 811.1H711.7"/>
<path class="ad" d="M527.5 812.7l3.2 -3.2M709.5 812.7l3.2 -3.2"/>
<text class="v" transform="matrix(.698 0 0 1 619.8 809.3)">400</text>
<path class="dr" d="M576.7 579.3L557.4 579.3L557.4 624.6"/>
<circle class="an" cx="557.4" cy="624.6" r=".9"/>
<use href="#w12" x="576.7" y="574.6"/>
<path class="dr" d="M643.9 703.9L711.1 703.9"/>
<circle class="an" cx="711.1" cy="703.9" r=".9"/>
<use href="#w12" x="613.7" y="700.2"/>
<path class="dr" d="M613.7 733L527.8 733"/>
<circle class="an" cx="527.8" cy="733" r=".9"/>
<use href="#w12" x="613.7" y="728.3"/>
<path class="dr" d="M613.7 789.3L576.3 789.3L576.3 828.3"/>
<circle class="an" cx="576.3" cy="828.3" r=".9"/>
<use href="#w12" x="613.7" y="784.8"/>
<rect x="493.0" y="559.8" width="250.9" height="316.5" fill="none" stroke="#000" stroke-width="2.2" stroke-dasharray="8.2 5.6"/>
<circle class="ai" cx="621.1" cy="891.7" r="8.3"/>
<path class="aj" d="M612.8 891.7H629.4"/>
<text class="c0" transform="matrix(.744 0 0 1 621.1 890.9)">3</text>
<text class="c1" transform="matrix(.577 0 0 1 621.1 896.8)">A0T.3-</text>
<text class="cn" transform="matrix(.8 0 0 1 632.2 899.6)">1:3</text>
<path class="ds" d="M539.9 940L555 925M539.9 963L555 948M539.9 986L555 971M539.9 1009L555 994"/>
<path class="dt" d="M555 919.4h5.3v113.9h-5.3z"/>
<path class="dt" d="M564.9 919.4h4.6v113.9h-4.6z"/>
<path class="ci" d="M561.5 919.4V1033.3M563.2 919.4V1033.3"/>
<path class="du" d="M569.5 953.6h125.2v8.3h-125.2z"/>
<path class="ci" d="M567.2 955.6H694.7M567.2 957.6H694.7M567.2 959.6H694.7M567.2 961.9H694.7"/>
<path class="du" d="M567.2 981.7h40.2v9.1h-40.2z"/>
<path class="du" d="M645.4 979.4h49.3v11.4h-49.3z"/>
<path class="ci" d="M567.2 983.7H609M647 983.7H694.7M567.2 985.7H609M647 985.7H694.7M567.2 987.7H609M647 987.7H694.7M567.2 981.7H610M657 981.7H694.7"/>
<path class="dv" d="M567.2 961.9h15.9v19.8h-15.9z"/>
<path class="ci" d="M567.2 961.9L583.1 981.7M583.1 961.9L567.2 981.7"/>
<path class="dv" d="M667.4 961.9h15.9v19.8h-15.9z"/>
<path class="ci" d="M667.4 961.9L683.3 981.7M683.3 961.9L667.4 981.7"/>
<path class="cq" d="M600.5 981.7L618 961.9M603.7 981.7L621.2 961.9M606.9 981.7L624.4 961.9M610.1 981.7L627.6 961.9M613.3 981.7L630.8 961.9"/>
<path class="ci" d="M659 961.9V981.7M661.5 961.9V981.7M664 961.9V981.7"/>
<path class="j" d="M569.5 953.6H694.7"/>
<path d="M569.5 1033V990.8H607.4L630.2 964.7H656V979.4H645.4L644.6 990.8H694.7" stroke="#222" stroke-width="0.9" fill="none"/>
<path class="bv" d="M653.3 966.5h2.5v11.4h-2.5z"/>
<path class="o" d="M654.5 969V975"/>
<path class="s" d="M652.2 953.6V962.6M635.8 963.5V992"/>
<path class="ad" d="M634.7 965.8l2.2 -2.2M634.7 980.5l2.2 -2.2M634.7 991.9l2.2 -2.2"/>
<path class="u" d="M635.8 979.4H641M635.8 990.8H641"/>
<text class="ab" transform="matrix(0 -.725 1 0 633.6 971.8)">20</text>
<text class="ab" transform="matrix(0 -.725 1 0 633.2 985.4)">15</text>
<path class="ac" d="M568 1002.2H657.5"/>
<path class="ad" d="M568 1003.4l2.4 -2.4"/>
<path class="s" d="M569.2 996V1002.8"/>
<path class="ad" d="M605.5 1003.4l2.4 -2.4"/>
<path class="s" d="M606.7 996V1002.8"/>
<path class="ad" d="M628.2 1003.4l2.4 -2.4"/>
<path class="s" d="M629.4 996V1002.8"/>
<path class="ad" d="M643.4 1003.4l2.4 -2.4"/>
<path class="s" d="M644.6 996V1002.8"/>
<path class="ad" d="M655.1 1003.4l2.4 -2.4"/>
<path class="s" d="M656.3 996V1002.8"/>
<text class="av" transform="matrix(.725 0 0 1 588.4 1000.6)">50</text>
<text class="av" transform="matrix(.725 0 0 1 618.4 1000.6)">30</text>
<text class="av" transform="matrix(.725 0 0 1 637 1000.6)">20</text>
<text class="av" transform="matrix(.725 0 0 1 650.2 1000.6)">15</text>
<path class="dr" d="M585.4 940.2L578.6 940.2L578.6 953.3"/>
<circle class="an" cx="578.6" cy="953.3" r=".9"/>
<use href="#w13" x="585.4" y="935.4"/>
<text class="dw" transform="matrix(.75 0 0 1 618.8 940.4)">LED</text>
<use href="#q37" x="628.3" y="940.2"/>
<path class="u" d="M618.8 941.2H646.5"/>
<path class="c6" d="M646.5 940.2L651.4 940.2L651.4 953.6"/>
<path class="s" d="M623.4 952.8L621.4 950.1L625.4 950.1Z"/>
<text class="t" transform="matrix(.818 0 0 1 624.4 951.2)">1.900</text>
<path class="u" d="M620.8 952.7H637.9"/>
<path class="dr" d="M589.5 1016.6L578.6 1016.6L578.6 990.8"/>
<circle class="an" cx="578.6" cy="990.8" r=".9"/>
<use href="#w11" x="589.5" y="1012.5"/>
<path class="dr" d="M671.2 1016.6L681.8 1016.6L681.8 990.8"/>
<circle class="an" cx="681.8" cy="990.8" r=".9"/>
<use href="#w14" x="640.8" y="1012.5"/>
<rect x="539.9" y="919.4" width="154.8" height="113.9" fill="none" stroke="#000" stroke-width="2.2" stroke-dasharray="8.8 6.2"/>
<circle class="ai" cx="617.3" cy="1048.9" r="8.6"/>
<path class="aj" d="M608.7 1048.9H625.9"/>
<text class="dx" transform="matrix(.744 0 0 1 617.3 1048.1)">a</text>
<text class="dy" transform="matrix(.577 0 0 1 617.3 1054.2)">-</text>
<text class="cn" transform="matrix(.8 0 0 1 627.9 1056.8)">1:3</text>
<rect x="819.2" y="591.9" width="133.4" height="7.0" fill="url(#hatchd)" stroke="none"/>
<rect x="935.6" y="591.9" width="17.0" height="381.2" fill="url(#hatchd)" stroke="none"/>
<rect x="819.2" y="958.5" width="133.4" height="14.6" fill="url(#hatchd)" stroke="none"/>
<path class="bk" d="M819.2 598.9H935.6"/>
<path class="bl" d="M819.2 600.6H935.6"/>
<path class="bk" d="M935.6 598.9V958.5"/>
<path class="e" d="M841.5 600.6h94.1v32h-94.1z"/>
<path class="bm" d="M844.5 603.5h88.1v26h-88.1z"/>
<path class="dz" d="M841.5 598.6h5v5h-5z"/>
<path class="d0" d="M842.3 599.4L845.7 602.8M845.7 599.4L842.3 602.8"/>
<path class="dz" d="M930.4 598.6h5v5h-5z"/>
<path class="d0" d="M931.2 599.4L934.6 602.8M934.6 599.4L931.2 602.8"/>
<path class="dz" d="M841.5 622h5v5h-5z"/>
<path class="d0" d="M842.3 622.8L845.7 626.2M845.7 622.8L842.3 626.2"/>
<path class="dz" d="M861.5 622h5v5h-5z"/>
<path class="d0" d="M862.3 622.8L865.7 626.2M865.7 622.8L862.3 626.2"/>
<path class="dz" d="M861.5 627.6h5v5h-5z"/>
<path class="d0" d="M862.3 628.4L865.7 631.8M865.7 628.4L862.3 631.8"/>
<path class="dz" d="M930.4 627.6h5v5h-5z"/>
<path class="d0" d="M931.2 628.4L934.6 631.8M934.6 628.4L931.2 631.8"/>
<path class="cx" d="M838.5 600.6h2.4v31.1h-2.4z"/>
<path class="cx" d="M838.5 627.8h11v3.9h-11z"/>
<path class="cx" d="M838.5 631.7h4.6v1.8h-4.6z"/>
<path class="d1" d="M848.5 631.3h10.4v4.4h-10.4z"/>
<circle class="d2" cx="851.3" cy="633.6" r="1.2"/>
<circle class="d2" cx="856" cy="633.6" r="1.2"/>
<path class="bu" d="M858.7 633.5h76.4v3h-76.4z"/>
<path class="bq" d="M931.8 636.5h3.3v303.5h-3.3z"/>
<path class="bx" d="M932.4 692h2.2v7h-2.2z"/>
<path class="bx" d="M932.4 770h2.2v7h-2.2z"/>
<path class="bx" d="M932.4 850h2.2v7h-2.2z"/>
<path class="ci" d="M846 636V935"/>
<path class="bu" d="M849.3 635.2h3.8v299.8h-3.8z"/>
<path class="d3" d="M858.6 636.5V935"/>
<rect x="833.5" y="617.7" width="38.1" height="24.6" fill="none" stroke="#000" stroke-width="1.5" stroke-dasharray="5 2.4"/>
<path class="d4" d="M932.6 636.5L871.6 641.5L868.6 685.4L864.9 735.6L858.6 855"/>
<path class="cb" d="M858.6 669.6h58.9v6.3h-58.9z"/>
<path class="cc" d="M860.2 671.2h55v3.2h-55z"/>
<text class="d5" transform="matrix(1 0 0 1 862 675.2)">×</text>
<text class="d5" transform="matrix(1 0 0 1 888 675.2)">×</text>
<path class="d6" d="M910 665.3h17.5v12.6h-17.5z"/>
<path d="M909 672.6q3 -1 4.5 0.6t3.6 1.4h5.2" stroke="#111" stroke-width="1.3" fill="none"/>
<path class="c9" d="M893 687.4h4.5v4.6h-4.5z"/>
<path class="s" d="M907.5 688.9L905.5 686.2L909.5 686.2Z"/>
<text class="t" transform="matrix(.818 0 0 1 909.5 687.3)">1.800</text>
<path class="u" d="M904.9 688.8H922.5"/>
<path class="s" d="M895 637.3L893 640L897 640Z"/>
<text class="t" transform="matrix(.818 0 0 1 897 644.9)">2.180</text>
<path class="u" d="M892.4 640H910.5"/>
<path class="s" d="M894.4 667.6L892.4 664.9L896.4 664.9Z"/>
<text class="t" transform="matrix(.818 0 0 1 896.2 666)">1.950</text>
<path class="u" d="M891.8 667.5H909.2"/>
<path class="s" d="M858.6 701.7H931.8"/>
<path class="ad" d="M857.5 702.8l2.2 -2.2M893.9 702.8l2.2 -2.2M930.7 702.8l2.2 -2.2"/>
<path class="u" d="M895 698.4V701.7"/>
<text class="ab" transform="matrix(.725 0 0 1 877.4 700.3)">EQ</text>
<text class="ab" transform="matrix(.725 0 0 1 913 700.3)">EQ</text>
<path class="s" d="M858.6 710H936"/>
<path class="ad" d="M857.5 711.1l2.2 -2.2"/>
<path class="u" d="M858.6 701V710.8"/>
<path class="ad" d="M930.7 711.1l2.2 -2.2"/>
<path class="u" d="M931.8 701V710.8"/>
<text class="ab" transform="matrix(.725 0 0 1 895.5 708.6)">515</text>
<text class="ab" transform="matrix(.725 0 0 1 939.6 708.4)">30</text>
<path class="bu" d="M858.6 857.7h73.2v3.3h-73.2z"/>
<path class="s" d="M876.1 857.2L874.1 854.5L878.1 854.5Z"/>
<text class="t" transform="matrix(.818 0 0 1 877.9 855.6)">0.600</text>
<path class="u" d="M873.5 857.1H890.9"/>
<path d="M858.7 892.8V865.6q0 -1.6 1.6 -1.6q1.6 0 1.6 1.6V889.8H925.6V869.8H928.8V892.8Z" fill="#8c8c8c" stroke="#222" stroke-width="0.6"/>
<path class="d7" d="M870.2 879H919.8"/>
<path d="M865.2 879.0l3 -1.6v3.2zM924.3 879.0l-3 -1.6v3.2z" fill="#000"/>
<circle class="d8" cx="868.7" cy="879" r="1.2"/>
<circle class="d8" cx="920.8" cy="879" r="1.2"/>
<path d="M858.7 935.0V898.2q0 -1.6 1.6 -1.6q1.6 0 1.6 1.6V932.0H925.6V901.6H928.8V935.0Z" fill="#8c8c8c" stroke="#222" stroke-width="0.6"/>
<path class="d7" d="M870.2 918.9H919.8"/>
<path d="M865.2 918.9l3 -1.6v3.2zM924.3 918.9l-3 -1.6v3.2z" fill="#000"/>
<circle class="d8" cx="868.7" cy="918.9" r="1.2"/>
<circle class="d8" cx="920.8" cy="918.9" r="1.2"/>
<path d="M848.5 943.5V935H935.1V940H851.9V943.5Z" fill="#8c8c8c" stroke="#222" stroke-width="0.6"/>
<path class="b4" d="M851.8 940h5.5v5.5h-5.5z"/>
<path class="n" d="M852.8 941L856.3 944.5M856.3 941L852.8 944.5"/>
<path class="b4" d="M889.4 940h5.5v5.5h-5.5z"/>
<path class="n" d="M890.4 941L893.9 944.5M893.9 941L890.4 944.5"/>
<path class="b4" d="M929.5 940h5.5v5.5h-5.5z"/>
<path class="n" d="M930.5 941L934 944.5M934 941L930.5 944.5"/>
<path class="b4" d="M851.8 952.5h5.5v5.5h-5.5z"/>
<path class="n" d="M852.8 953.5L856.3 957M856.3 953.5L852.8 957"/>
<path class="b4" d="M889.4 952.5h5.5v5.5h-5.5z"/>
<path class="n" d="M890.4 953.5L893.9 957M893.9 953.5L890.4 957"/>
<path class="b4" d="M929.5 952.5h5.5v5.5h-5.5z"/>
<path class="n" d="M930.5 953.5L934 957M934 953.5L930.5 957"/>
<path class="ci" d="M857.3 943H929.5M857.3 947.5H929.5M857.3 950.5H929.5M857.3 956.5H929.5"/>
<path class="b6" d="M820.2 943.5h31.6v2.6h-31.6z"/>
<path class="o" d="M820.2 943.5H851.8"/>
<path class="b7" d="M820.2 946.1h31.6v7.2h-31.6z"/>
<path class="b8" d="M820.2 953.3h31.6v5.2h-31.6z"/>
<circle class="bw" cx="824.2" cy="949.9" r="1"/>
<circle class="bw" cx="839.2" cy="950.1" r="1"/>
<path d="M841.1 948.7l2 1.2l-1.6 1z" fill="#333"/>
<path class="g" d="M819.2 958.5H935.6"/>
<path class="s" d="M823.4 602.6L821.4 605.3L825.4 605.3Z"/>
<text class="t" transform="matrix(.818 0 0 1 825.2 610.2)">2.430</text>
<path class="u" d="M820.8 605.3H838.7"/>
<text class="t" transform="matrix(.698 0 0 1 824.6 641.4)">2.200</text>
<path class="u" d="M837.1 635.3L835.5 637.5L838.7 637.5Z"/>
<path class="am" d="M788.9 611.2L838.5 611.2"/>
<circle class="an" cx="838.5" cy="611.2" r=".9"/>
<use href="#w15" x="760" y="607.2"/>
<circle class="ai" cx="773.8" cy="624.7" r="5.8"/>
<path class="aj" d="M768 624.7H779.6"/>
<text class="d9" transform="matrix(.744 0 0 1 773.8 623.9)">a</text>
<text class="ea" transform="matrix(.577 0 0 1 773.8 628.3)">A0T.2-3</text>
<path class="am" d="M779.6 625.2L833.5 625.2M788.9 648L872.4 648"/>
<circle class="an" cx="872.4" cy="648" r=".9"/>
<use href="#w16" x="760" y="644"/>
<path class="am" d="M788.9 662.8L882.4 662.8L882.4 669.6"/>
<circle class="an" cx="882.4" cy="669.6" r=".9"/>
<use href="#w16" x="760" y="658.6"/>
<circle class="ai" cx="773.8" cy="682.4" r="5.8"/>
<path class="aj" d="M768 682.4H779.6"/>
<text class="d9" transform="matrix(.744 0 0 1 773.8 681.6)">b</text>
<text class="ea" transform="matrix(.577 0 0 1 773.8 686)">A0T.2-3</text>
<path class="am" d="M779.6 682.9L910 682.9L910 677.9"/>
<circle class="an" cx="910" cy="677.9" r=".9"/>
<use href="#q23" x="760" y="693.4"/>
<text class="cj" transform="matrix(.66 0 0 1 771.5 693.4)">30X30MM</text>
<path class="am" d="M760 694.9L874.9 694.9L893 689.7M788.9 724L849.3 724"/>
<circle class="an" cx="849.3" cy="724" r=".9"/>
<use href="#w16" x="760" y="719.8"/>
<path class="am" d="M788.9 813.3L882.4 813.3"/>
<circle class="an" cx="882.4" cy="813.3" r=".9"/>
<use href="#w16" x="760" y="809.2"/>
<path class="am" d="M788.9 843.4L912.5 843.4L931.8 851.4M913 843.4L913 857.7"/>
<circle class="an" cx="913" cy="857.7" r=".9"/>
<use href="#w16" x="760" y="839.4"/>
<path class="am" d="M788.9 905.6L874.4 905.6"/>
<circle class="an" cx="874.4" cy="905.6" r=".9"/>
<use href="#w16" x="760" y="901.6"/>
<path class="am" d="M788.9 928.7L842.8 928.7L842.8 943.5"/>
<circle class="an" cx="842.8" cy="943.5" r=".9"/>
<use href="#w17" x="760" y="924.7"/>
<use href="#q24" x="829.7" y="878.8"/>
<path class="am" d="M823.5 879.4L867.4 879.4"/>
<use href="#q42" x="822.7" y="934.8"/>
<path class="s" d="M836.8 941.9L834.8 939.2L838.8 939.2Z"/>
<text class="t" transform="matrix(.818 0 0 1 822.7 940.3)">±0.000</text>
<path class="u" d="M834.2 941.8H836.7"/>
<path class="ac" d="M843.5 569.3H937.6"/>
<path class="ad" d="M843.6 570.5l2.4 -2.4"/>
<path class="s" d="M844.8 569.3V579.6"/>
<path class="ad" d="M847.3 570.5l2.4 -2.4"/>
<path class="eb" d="M848.5 569.3V579.6"/>
<path class="ad" d="M852.4 570.5l2.4 -2.4"/>
<path class="eb" d="M853.6 569.3V579.6"/>
<path class="ad" d="M857.4 570.5l2.4 -2.4"/>
<path class="eb" d="M858.6 569.3V579.6"/>
<path class="ad" d="M930.6 570.5l2.4 -2.4"/>
<path class="s" d="M931.8 569.3V579.6"/>
<path class="ad" d="M935.1 570.5l2.4 -2.4"/>
<path class="s" d="M936.3 569.3V579.6"/>
<text class="bi" transform="matrix(.725 0 0 1 842.3 567.6)">20</text>
<text class="bi" transform="matrix(.725 0 0 1 851.3 567.6)">30</text>
<text class="bi" transform="matrix(.725 0 0 1 856.6 567.6)">30</text>
<text class="bi" transform="matrix(.725 0 0 1 895 567.6)">515</text>
<text class="bi" transform="matrix(.725 0 0 1 934.6 567.6)">30</text>
<text class="ab" transform="matrix(.725 0 0 1 848.5 585.6)">5</text>
<text class="ab" transform="matrix(.725 0 0 1 853.6 585.6)">5</text>
<text class="ab" transform="matrix(.725 0 0 1 858.6 585.6)">5</text>
<path class="ac" d="M844.7 987.4H937.6"/>
<path class="ad" d="M844.8 988.6l2.4 -2.4"/>
<path class="s" d="M846 977V988.3"/>
<path class="ad" d="M847.3 988.6l2.4 -2.4"/>
<path class="s" d="M848.5 977V988.3"/>
<path class="ad" d="M852.4 988.6l2.4 -2.4"/>
<path class="s" d="M853.6 977V988.3"/>
<path class="ad" d="M857.4 988.6l2.4 -2.4"/>
<path class="s" d="M858.6 977V988.3"/>
<path class="ad" d="M925.3 988.6l2.4 -2.4"/>
<path class="s" d="M926.5 977V988.3"/>
<path class="ad" d="M930.6 988.6l2.4 -2.4"/>
<path class="s" d="M931.8 977V988.3"/>
<path class="ad" d="M935.1 988.6l2.4 -2.4"/>
<path class="s" d="M936.3 977V988.3"/>
<text class="ab" transform="matrix(.725 0 0 1 843.6 985.8)">15</text>
<text class="ab" transform="matrix(.725 0 0 1 851 985.8)">30</text>
<text class="ab" transform="matrix(.725 0 0 1 856.3 985.8)">30</text>
<text class="ab" transform="matrix(.725 0 0 1 893.7 985.8)">495</text>
<text class="ab" transform="matrix(.725 0 0 1 924.5 985.8)">20</text>
<text class="ab" transform="matrix(.725 0 0 1 934 985.8)">30</text>
<text class="aw" transform="matrix(.725 0 0 1 853.6 994)">5</text>
<text class="aw" transform="matrix(.725 0 0 1 858.6 994)">5</text>
<path class="ac" d="M846 998.2H931.8"/>
<path class="ad" d="M844.4 999.8l3.2 -3.2M930.2 999.8l3.2 -3.2"/>
<text class="v" transform="matrix(.698 0 0 1 889.2 996.8)">600</text>
<path class="s" d="M846 987V999M931.8 987V999"/>
<circle class="ai" cx="889.9" cy="1012.7" r="7.5"/>
<path class="aj" d="M882.4 1012.7H897.4"/>
<text class="b9" transform="matrix(.744 0 0 1 889.9 1011.9)">1</text>
<text class="ca" transform="matrix(.577 0 0 1 889.9 1017.4)">D1T.2-</text>
<text class="cn" transform="matrix(.8 0 0 1 900 1020.8)">1:15</text>
<path class="ac" d="M793.9 600.6V943.5"/>
<path class="ad" d="M792.3 602.2l3.2 -3.2M792.3 945.1l3.2 -3.2"/>
<text class="av" transform="matrix(0 -.725 1 0 791.7 771.9)">2430</text>
<path class="ac" d="M804.7 599V945"/>
<path class="ad" d="M803.5 601.8l2.4 -2.4"/>
<path class="ac" d="M804.7 600.6H815.7"/>
<path class="ad" d="M803.5 633.9l2.4 -2.4"/>
<path class="ac" d="M804.7 632.7H815.7"/>
<path class="ad" d="M803.5 670.8l2.4 -2.4"/>
<path class="ac" d="M804.7 669.6H815.7"/>
<path class="ad" d="M803.5 677.1l2.4 -2.4"/>
<path class="ac" d="M804.7 675.9H815.7"/>
<path class="ad" d="M803.5 858.9l2.4 -2.4"/>
<path class="ac" d="M804.7 857.7H815.7"/>
<path class="ad" d="M803.5 865.2l2.4 -2.4"/>
<path class="ac" d="M804.7 864H815.7"/>
<path class="ad" d="M803.5 894l2.4 -2.4"/>
<path class="ac" d="M804.7 892.8H815.7"/>
<path class="ad" d="M803.5 897.8l2.4 -2.4"/>
<path class="ac" d="M804.7 896.6H815.7"/>
<path class="ad" d="M803.5 936.2l2.4 -2.4"/>
<path class="ac" d="M804.7 935H815.7"/>
<path class="ad" d="M803.5 944.7l2.4 -2.4"/>
<path class="ac" d="M804.7 943.5H815.7"/>
<path class="s" d="M804.7 635.2H815.7M804.7 861H815.7M792.9 600.6H815.7M792.9 943.5H815.7"/>
<text class="ab" transform="matrix(0 -.725 1 0 802.5 617.2)">230</text>
<text class="ab" transform="matrix(0 -.725 1 0 802.5 637)">20</text>
<text class="ab" transform="matrix(0 -.725 1 0 802.5 652.3)">230</text>
<text class="ab" transform="matrix(0 -.725 1 0 802.5 672.9)">50</text>
<text class="ab" transform="matrix(0 -.725 1 0 802.5 766.9)">1300</text>
<text class="ab" transform="matrix(0 -.725 1 0 802.5 854.7)">20</text>
<text class="ab" transform="matrix(0 -.725 1 0 802.5 866)">30</text>
<text class="ab" transform="matrix(0 -.725 1 0 802.5 878.3)">210</text>
<text class="ab" transform="matrix(0 -.725 1 0 802.5 894.8)">30</text>
<text class="ab" transform="matrix(0 -.725 1 0 802.5 915.4)">275</text>
<text class="ab" transform="matrix(0 -.725 1 0 802.5 933)">5</text>
<text class="ab" transform="matrix(0 -.725 1 0 802.5 939.7)">50</text>
<path class="ac" d="M967.2 634.5V960"/>
<path class="ad" d="M966 637.2l2.4 -2.4"/>
<path class="ac" d="M956.2 636H968.7"/>
<path class="ad" d="M966 671.6l2.4 -2.4"/>
<path class="ac" d="M956.2 670.4H968.7"/>
<path class="ad" d="M966 858.9l2.4 -2.4"/>
<path class="ac" d="M956.2 857.7H968.7"/>
<path class="ad" d="M966 871l2.4 -2.4"/>
<path class="ac" d="M956.2 869.8H968.7"/>
<path class="ad" d="M966 894l2.4 -2.4"/>
<path class="ac" d="M956.2 892.8H968.7"/>
<path class="ad" d="M966 902.8l2.4 -2.4"/>
<path class="ac" d="M956.2 901.6H968.7"/>
<path class="ad" d="M966 936.2l2.4 -2.4"/>
<path class="ac" d="M956.2 935H968.7"/>
<path class="ad" d="M966 944.7l2.4 -2.4"/>
<path class="ac" d="M956.2 943.5H968.7"/>
<path class="ad" d="M966 959.7l2.4 -2.4"/>
<path class="ac" d="M956.2 958.5H968.7"/>
<path class="s" d="M956.2 673.6H968.7M956.2 861H968.7"/>
<path class="ac" d="M978.2 636V943.5"/>
<path class="ad" d="M976.6 637.6l3.2 -3.2M976.6 945.1l3.2 -3.2"/>
<path class="s" d="M967.2 636H979.2M967.2 943.5H979.2"/>
<text class="ab" transform="matrix(0 -.725 1 0 976 789.5)">2180</text>
<text class="ab" transform="matrix(0 -.725 1 0 965 654)">250</text>
<text class="ab" transform="matrix(0 -.725 1 0 965 677.9)">20</text>
<text class="ab" transform="matrix(0 -.725 1 0 965 766.2)">1310</text>
<text class="ab" transform="matrix(0 -.725 1 0 965 854.7)">20</text>
<text class="ab" transform="matrix(0 -.725 1 0 965 864.7)">40</text>
<text class="ab" transform="matrix(0 -.725 1 0 965 879.8)">190</text>
<text class="ab" transform="matrix(0 -.725 1 0 965 897.3)">40</text>
<text class="ab" transform="matrix(0 -.725 1 0 965 916.7)">255</text>
<text class="ab" transform="matrix(0 -.725 1 0 965 933)">5</text>
<text class="ab" transform="matrix(0 -.725 1 0 965 939.4)">50</text>
<text class="ab" transform="matrix(0 -.725 1 0 965 950.5)">115</text>
<rect x="819.2" y="591.9" width="133.4" height="381.2" fill="none" stroke="#000" stroke-width="2.0" stroke-dasharray="6.2 3.8"/>
<rect x="1048.2" y="591.9" width="133.7" height="7.0" fill="url(#hatchd)" stroke="none"/>
<rect x="1164.8" y="591.9" width="17.1" height="381.2" fill="url(#hatchd)" stroke="none"/>
<rect x="1048.2" y="958.5" width="133.7" height="14.6" fill="url(#hatchd)" stroke="none"/>
<path class="bk" d="M1048.2 598.9H1164.8"/>
<path class="bl" d="M1048.2 600.6H1164.8"/>
<path class="bk" d="M1164.8 598.9V958.5"/>
<path class="e" d="M1070.8 600.6h94v32h-94z"/>
<path class="bm" d="M1073.8 603.5h88v26h-88z"/>
<path class="dz" d="M1070.8 598.6h5v5h-5z"/>
<path class="d0" d="M1071.6 599.4L1075 602.8M1075 599.4L1071.6 602.8"/>
<path class="dz" d="M1159.6 598.6h5v5h-5z"/>
<path class="d0" d="M1160.4 599.4L1163.8 602.8M1163.8 599.4L1160.4 602.8"/>
<path class="dz" d="M1070.8 622h5v5h-5z"/>
<path class="d0" d="M1071.6 622.8L1075 626.2M1075 622.8L1071.6 626.2"/>
<path class="dz" d="M1090.8 622h5v5h-5z"/>
<path class="d0" d="M1091.6 622.8L1095 626.2M1095 622.8L1091.6 626.2"/>
<path class="dz" d="M1090.8 627.6h5v5h-5z"/>
<path class="d0" d="M1091.6 628.4L1095 631.8M1095 628.4L1091.6 631.8"/>
<path class="dz" d="M1159.6 627.6h5v5h-5z"/>
<path class="d0" d="M1160.4 628.4L1163.8 631.8M1163.8 628.4L1160.4 631.8"/>
<path class="cx" d="M1067.8 600.6h2.4v31.1h-2.4z"/>
<path class="cx" d="M1067.8 627.8h9.7v3.9h-9.7z"/>
<path class="cx" d="M1067.8 631.7h4.6v1.8h-4.6z"/>
<path class="d1" d="M1076.5 631.3h10.4v4.4h-10.4z"/>
<circle class="d2" cx="1079.3" cy="633.6" r="1.2"/>
<circle class="d2" cx="1084" cy="633.6" r="1.2"/>
<path class="bu" d="M1087 633.5h77.3v3h-77.3z"/>
<path class="bq" d="M1161.1 636.5h3.2v303.5h-3.2z"/>
<path class="bx" d="M1161.7 692h2.2v7h-2.2z"/>
<path class="bx" d="M1161.7 770h2.2v7h-2.2z"/>
<path class="bx" d="M1161.7 850h2.2v7h-2.2z"/>
<path class="ci" d="M1074 636V940M1077.8 636V940"/>
<path class="ec" d="M1080.6 636V940"/>
<path class="bu" d="M1083.3 635.2h3.8v299.8h-3.8z"/>
<path class="bu" d="M1087.1 702.5h74v3h-74z"/>
<path class="s" d="M1124.2 701.5L1122.2 698.8L1126.2 698.8Z"/>
<text class="t" transform="matrix(.818 0 0 1 1125.6 699.9)">1.710</text>
<path class="u" d="M1121.6 701.4H1138.6"/>
<path class="bu" d="M1087.1 754.4h74v3.2h-74z"/>
<path class="s" d="M1124.2 753.4L1122.2 750.7L1126.2 750.7Z"/>
<text class="t" transform="matrix(.818 0 0 1 1125.6 751.8)">1.340</text>
<path class="u" d="M1121.6 753.3H1138.6"/>
<path class="bu" d="M1087.1 806.3h74v3.3h-74z"/>
<path class="s" d="M1124.2 805.3L1122.2 802.6L1126.2 802.6Z"/>
<text class="t" transform="matrix(.818 0 0 1 1125.6 803.7)">0.970</text>
<path class="u" d="M1121.6 805.2H1138.6"/>
<path class="s" d="M1123.7 637.3L1121.7 640L1125.7 640Z"/>
<text class="t" transform="matrix(.818 0 0 1 1125.4 644.9)">2.180</text>
<path class="u" d="M1121.1 640H1138.9"/>
<path class="d4" d="M1160 640L1097 648L1094 668L1088 700M1160 708L1097 716L1094 736L1088 768M1160 760L1097 768L1094 788L1088 820M1160 812L1097 820L1094 840L1088 855"/>
<path class="bu" d="M1087.1 857.7h74v3.3h-74z"/>
<path class="s" d="M1123.7 857.2L1121.7 854.5L1125.7 854.5Z"/>
<text class="t" transform="matrix(.818 0 0 1 1125.5 855.6)">0.600</text>
<path class="u" d="M1121.1 857.1H1138.5"/>
<path d="M1087.2 892.8V865.6q0 -1.6 1.6 -1.6q1.6 0 1.6 1.6V889.8H1154.3V869.8H1157.5V892.8Z" fill="#8c8c8c" stroke="#222" stroke-width="0.6"/>
<path class="d7" d="M1098.7 879H1148.5"/>
<path d="M1093.7 879.0l3 -1.6v3.2zM1153.0 879.0l-3 -1.6v3.2z" fill="#000"/>
<circle class="d8" cx="1097.2" cy="879" r="1.2"/>
<circle class="d8" cx="1149.5" cy="879" r="1.2"/>
<path d="M1087.2 935.0V898.2q0 -1.6 1.6 -1.6q1.6 0 1.6 1.6V932.0H1154.3V901.6H1157.5V935.0Z" fill="#8c8c8c" stroke="#222" stroke-width="0.6"/>
<path class="d7" d="M1098.7 918.9H1148.5"/>
<path d="M1093.7 918.9l3 -1.6v3.2zM1153.0 918.9l-3 -1.6v3.2z" fill="#000"/>
<circle class="d8" cx="1097.2" cy="918.9" r="1.2"/>
<circle class="d8" cx="1149.5" cy="918.9" r="1.2"/>
<path d="M1076.5 943.5V935H1164.3V940H1079.9V943.5Z" fill="#8c8c8c" stroke="#222" stroke-width="0.6"/>
<path class="b4" d="M1080.3 940h5.5v5.5h-5.5z"/>
<path class="n" d="M1081.3 941L1084.8 944.5M1084.8 941L1081.3 944.5"/>
<path class="b4" d="M1118.4 940h5.5v5.5h-5.5z"/>
<path class="n" d="M1119.4 941L1122.9 944.5M1122.9 941L1119.4 944.5"/>
<path class="b4" d="M1158.5 940h5.5v5.5h-5.5z"/>
<path class="n" d="M1159.5 941L1163 944.5M1163 941L1159.5 944.5"/>
<path class="b4" d="M1080.3 952.5h5.5v5.5h-5.5z"/>
<path class="n" d="M1081.3 953.5L1084.8 957M1084.8 953.5L1081.3 957"/>
<path class="b4" d="M1118.4 952.5h5.5v5.5h-5.5z"/>
<path class="n" d="M1119.4 953.5L1122.9 957M1122.9 953.5L1119.4 957"/>
<path class="b4" d="M1158.5 952.5h5.5v5.5h-5.5z"/>
<path class="n" d="M1159.5 953.5L1163 957M1163 953.5L1159.5 957"/>
<path class="ci" d="M1085.3 943H1158.5M1085.3 947.5H1158.5M1085.3 950.5H1158.5M1085.3 956.5H1158.5"/>
<path class="b6" d="M1049.2 943.5h30.6v2.6h-30.6z"/>
<path class="o" d="M1049.2 943.5H1079.8"/>
<path class="b7" d="M1049.2 946.1h30.6v7.2h-30.6z"/>
<path class="b8" d="M1049.2 953.3h30.6v5.2h-30.6z"/>
<circle class="bw" cx="1053.2" cy="949.9" r="1"/>
<circle class="bw" cx="1067.6" cy="950.1" r="1"/>
<path d="M1069.4 948.7l2 1.2l-1.6 1z" fill="#333"/>
<path class="g" d="M1048.2 958.5H1164.8"/>
<path class="s" d="M1052.4 602.6L1050.4 605.3L1054.4 605.3Z"/>
<text class="t" transform="matrix(.818 0 0 1 1054.2 610.2)">2.430</text>
<path class="u" d="M1049.8 605.3H1067.7"/>
<text class="t" transform="matrix(.698 0 0 1 1053.6 641.4)">2.200</text>
<path class="u" d="M1066.4 635.3L1064.8 637.5L1068 637.5Z"/>
<path class="am" d="M1016.5 611.2L1067.8 611.2"/>
<circle class="an" cx="1067.8" cy="611.2" r=".9"/>
<use href="#w15" x="987.6" y="607.2"/>
<path class="am" d="M1016.5 660.1L1160.6 660.1"/>
<circle class="an" cx="1160.6" cy="660.1" r=".9"/>
<circle class="an" cx="1131" cy="660.1" r=".8"/>
<use href="#w16" x="987.6" y="656.1"/>
<path class="am" d="M1016.5 681.1L1077.8 681.1"/>
<circle class="an" cx="1077.8" cy="681.1" r=".9"/>
<use href="#w16" x="987.6" y="677.1"/>
<path class="am" d="M1016.5 744.4L1111.6 744.4L1111.6 754.4"/>
<circle class="an" cx="1111.6" cy="754.4" r=".9"/>
<use href="#w16" x="987.6" y="740.2"/>
<path class="am" d="M1016.5 796.3L1099.6 796.3"/>
<circle class="an" cx="1099.6" cy="796.3" r=".9"/>
<use href="#w16" x="987.6" y="792.3"/>
<path class="am" d="M1016.5 847.2L1111.6 847.2L1111.6 857.7"/>
<circle class="an" cx="1111.6" cy="857.7" r=".9"/>
<use href="#w16" x="987.6" y="843.2"/>
<path class="am" d="M1016.5 905.6L1103.4 905.6"/>
<circle class="an" cx="1103.4" cy="905.6" r=".9"/>
<circle class="an" cx="1083.3" cy="905.6" r=".8"/>
<use href="#w16" x="987.6" y="901.6"/>
<path class="am" d="M1016.5 928.7L1071.5 928.7L1071.5 943.5"/>
<circle class="an" cx="1071.5" cy="943.5" r=".9"/>
<use href="#w17" x="987.6" y="924.7"/>
<use href="#q24" x="1059" y="878.8"/>
<path class="am" d="M1052.2 879.4L1096.6 879.4"/>
<use href="#q42" x="1051.5" y="934.8"/>
<path class="s" d="M1065.7 941.9L1063.7 939.2L1067.7 939.2Z"/>
<text class="t" transform="matrix(.818 0 0 1 1051.5 940.3)">±0.000</text>
<path class="u" d="M1063.1 941.8H1065.5"/>
<path class="ac" d="M1074 565.5H1161.8"/>
<path class="ad" d="M1072.4 567.1l3.2 -3.2M1160.2 567.1l3.2 -3.2"/>
<text class="v" transform="matrix(.698 0 0 1 1117.4 564.1)">610</text>
<path class="ac" d="M1072.7 576.3H1166"/>
<path class="ad" d="M1072.8 577.5l2.4 -2.4"/>
<path class="s" d="M1074 576.3V587.1"/>
<path class="ad" d="M1076.6 577.5l2.4 -2.4"/>
<path class="eb" d="M1077.8 576.3V587.1"/>
<path class="ad" d="M1081.6 577.5l2.4 -2.4"/>
<path class="eb" d="M1082.8 576.3V587.1"/>
<path class="ad" d="M1085.9 577.5l2.4 -2.4"/>
<path class="eb" d="M1087.1 576.3V587.1"/>
<path class="ad" d="M1159.9 577.5l2.4 -2.4"/>
<path class="s" d="M1161.1 576.3V587.1"/>
<path class="ad" d="M1163.6 577.5l2.4 -2.4"/>
<path class="s" d="M1164.8 576.3V587.1M1074 565.5V587.1M1161.8 565.5V577"/>
<text class="bi" transform="matrix(.725 0 0 1 1070.8 574.6)">20</text>
<text class="bi" transform="matrix(.725 0 0 1 1080.2 574.6)">30</text>
<text class="bi" transform="matrix(.725 0 0 1 1085 574.6)">30</text>
<text class="bi" transform="matrix(.725 0 0 1 1124.2 574.6)">515</text>
<text class="bi" transform="matrix(.725 0 0 1 1163.6 574.6)">30</text>
<path class="u" d="M1077 591.9H1088"/>
<path class="ad" d="M1079.6 592.9l2 -2M1084 592.9l2 -2"/>
<path class="ac" d="M1074 987.4H1166.1"/>
<path class="ad" d="M1074.1 988.6l2.4 -2.4"/>
<path class="s" d="M1075.3 977V988.3"/>
<path class="ad" d="M1076.6 988.6l2.4 -2.4"/>
<path class="s" d="M1077.8 977V988.3"/>
<path class="ad" d="M1081.6 988.6l2.4 -2.4"/>
<path class="s" d="M1082.8 977V988.3"/>
<path class="ad" d="M1085.9 988.6l2.4 -2.4"/>
<path class="s" d="M1087.1 977V988.3"/>
<path class="ad" d="M1159.9 988.6l2.4 -2.4"/>
<path class="s" d="M1161.1 977V988.3"/>
<path class="ad" d="M1163.6 988.6l2.4 -2.4"/>
<path class="s" d="M1164.8 977V988.3"/>
<text class="ab" transform="matrix(.725 0 0 1 1072.6 985.8)">15</text>
<text class="ab" transform="matrix(.725 0 0 1 1080.3 985.8)">30</text>
<text class="ab" transform="matrix(.725 0 0 1 1085 985.8)">30</text>
<text class="ab" transform="matrix(.725 0 0 1 1124.2 985.8)">515</text>
<text class="ab" transform="matrix(.725 0 0 1 1163.2 985.8)">30</text>
<text class="aw" transform="matrix(.725 0 0 1 1082.8 994)">5</text>
<text class="aw" transform="matrix(.725 0 0 1 1087.1 994)">5</text>
<path class="ac" d="M1075.3 998.2H1161.1"/>
<path class="ad" d="M1073.7 999.8l3.2 -3.2M1159.5 999.8l3.2 -3.2"/>
<text class="v" transform="matrix(.698 0 0 1 1117.9 996.8)">600</text>
<path class="s" d="M1075.3 987V999M1161.1 987V999"/>
<circle class="ai" cx="1126.7" cy="1012.7" r="7.5"/>
<path class="aj" d="M1119.2 1012.7H1134.2"/>
<text class="b9" transform="matrix(.744 0 0 1 1126.7 1011.9)">2</text>
<text class="ca" transform="matrix(.577 0 0 1 1126.7 1017.4)">D1T.2-</text>
<text class="cn" transform="matrix(.8 0 0 1 1136.7 1020.8)">1:15</text>
<path class="ac" d="M1022.1 600.6V943.5"/>
<path class="ad" d="M1020.5 602.2l3.2 -3.2M1020.5 945.1l3.2 -3.2"/>
<text class="av" transform="matrix(0 -.725 1 0 1019.9 771.9)">2430</text>
<path class="ac" d="M1033.1 599V945"/>
<path class="ad" d="M1031.9 601.8l2.4 -2.4"/>
<path class="ac" d="M1033.1 600.6H1044.1"/>
<path class="ad" d="M1031.9 633.9l2.4 -2.4"/>
<path class="ac" d="M1033.1 632.7H1044.1"/>
<path class="ad" d="M1031.9 703.7l2.4 -2.4"/>
<path class="ac" d="M1033.1 702.5H1044.1"/>
<path class="ad" d="M1031.9 755.6l2.4 -2.4"/>
<path class="ac" d="M1033.1 754.4H1044.1"/>
<path class="ad" d="M1031.9 807.5l2.4 -2.4"/>
<path class="ac" d="M1033.1 806.3H1044.1"/>
<path class="ad" d="M1031.9 858.9l2.4 -2.4"/>
<path class="ac" d="M1033.1 857.7H1044.1"/>
<path class="ad" d="M1031.9 865.7l2.4 -2.4"/>
<path class="ac" d="M1033.1 864.5H1044.1"/>
<path class="ad" d="M1031.9 894l2.4 -2.4"/>
<path class="ac" d="M1033.1 892.8H1044.1"/>
<path class="ad" d="M1031.9 897.8l2.4 -2.4"/>
<path class="ac" d="M1033.1 896.6H1044.1"/>
<path class="ad" d="M1031.9 936.2l2.4 -2.4"/>
<path class="ac" d="M1033.1 935H1044.1"/>
<path class="ad" d="M1031.9 944.7l2.4 -2.4"/>
<path class="ac" d="M1033.1 943.5H1044.1"/>
<path class="s" d="M1033.1 635.2H1044.1M1033.1 705.5H1044.1M1033.1 757.6H1044.1M1033.1 809.6H1044.1M1033.1 861H1044.1M1021.1 600.6H1044.1M1021.1 943.5H1044.1"/>
<text class="ab" transform="matrix(0 -.725 1 0 1030.9 617.2)">230</text>
<text class="ab" transform="matrix(0 -.725 1 0 1030.9 637)">20</text>
<text class="ab" transform="matrix(0 -.725 1 0 1030.9 669.1)">470</text>
<text class="ab" transform="matrix(0 -.725 1 0 1030.9 704)">20</text>
<text class="ab" transform="matrix(0 -.725 1 0 1030.9 729.8)">350</text>
<text class="ab" transform="matrix(0 -.725 1 0 1030.9 756)">20</text>
<text class="ab" transform="matrix(0 -.725 1 0 1030.9 782)">350</text>
<text class="ab" transform="matrix(0 -.725 1 0 1030.9 808)">20</text>
<text class="ab" transform="matrix(0 -.725 1 0 1030.9 833.9)">350</text>
<text class="ab" transform="matrix(0 -.725 1 0 1030.9 854.7)">20</text>
<text class="ab" transform="matrix(0 -.725 1 0 1030.9 866.5)">30</text>
<text class="ab" transform="matrix(0 -.725 1 0 1030.9 878.3)">210</text>
<text class="ab" transform="matrix(0 -.725 1 0 1030.9 894.8)">30</text>
<text class="ab" transform="matrix(0 -.725 1 0 1030.9 915.4)">275</text>
<text class="ab" transform="matrix(0 -.725 1 0 1030.9 933)">5</text>
<text class="ab" transform="matrix(0 -.725 1 0 1030.9 939.7)">50</text>
<path class="ac" d="M1196.2 634.5V960"/>
<path class="ad" d="M1195 637.2l2.4 -2.4"/>
<path class="ac" d="M1185.2 636H1197.7"/>
<path class="ad" d="M1195 703.7l2.4 -2.4"/>
<path class="ac" d="M1185.2 702.5H1197.7"/>
<path class="ad" d="M1195 755.6l2.4 -2.4"/>
<path class="ac" d="M1185.2 754.4H1197.7"/>
<path class="ad" d="M1195 807.5l2.4 -2.4"/>
<path class="ac" d="M1185.2 806.3H1197.7"/>
<path class="ad" d="M1195 858.9l2.4 -2.4"/>
<path class="ac" d="M1185.2 857.7H1197.7"/>
<path class="ad" d="M1195 871l2.4 -2.4"/>
<path class="ac" d="M1185.2 869.8H1197.7"/>
<path class="ad" d="M1195 894l2.4 -2.4"/>
<path class="ac" d="M1185.2 892.8H1197.7"/>
<path class="ad" d="M1195 902.8l2.4 -2.4"/>
<path class="ac" d="M1185.2 901.6H1197.7"/>
<path class="ad" d="M1195 936.2l2.4 -2.4"/>
<path class="ac" d="M1185.2 935H1197.7"/>
<path class="ad" d="M1195 944.7l2.4 -2.4"/>
<path class="ac" d="M1185.2 943.5H1197.7"/>
<path class="ad" d="M1195 959.7l2.4 -2.4"/>
<path class="ac" d="M1185.2 958.5H1197.7"/>
<path class="s" d="M1185.2 705.5H1197.7M1185.2 757.6H1197.7M1185.2 809.6H1197.7M1185.2 861H1197.7"/>
<path class="ac" d="M1207.5 636V943.5"/>
<path class="ad" d="M1205.9 637.6l3.2 -3.2M1205.9 945.1l3.2 -3.2"/>
<path class="s" d="M1196.2 636H1208.5M1196.2 943.5H1208.5"/>
<text class="ab" transform="matrix(0 -.725 1 0 1205.3 789.5)">2180</text>
<text class="ab" transform="matrix(0 -.725 1 0 1194 669.1)">470</text>
<text class="ab" transform="matrix(0 -.725 1 0 1200.8 704)">20</text>
<text class="ab" transform="matrix(0 -.725 1 0 1194 729.8)">350</text>
<text class="ab" transform="matrix(0 -.725 1 0 1200.8 756)">20</text>
<text class="ab" transform="matrix(0 -.725 1 0 1194 782)">350</text>
<text class="ab" transform="matrix(0 -.725 1 0 1200.8 808)">20</text>
<text class="ab" transform="matrix(0 -.725 1 0 1194 833.9)">350</text>
<text class="ab" transform="matrix(0 -.725 1 0 1194 854.7)">20</text>
<text class="ab" transform="matrix(0 -.725 1 0 1194 865.2)">55</text>
<text class="ab" transform="matrix(0 -.725 1 0 1194 881.5)">175</text>
<text class="ab" transform="matrix(0 -.725 1 0 1194 896.6)">55</text>
<text class="ab" transform="matrix(0 -.725 1 0 1194 918.4)">240</text>
<text class="ab" transform="matrix(0 -.725 1 0 1194 933)">5</text>
<text class="ab" transform="matrix(0 -.725 1 0 1194 939.4)">50</text>
<text class="ab" transform="matrix(0 -.725 1 0 1194 950.5)">115</text>
<rect x="1048.2" y="591.9" width="133.7" height="381.2" fill="none" stroke="#000" stroke-width="2.0" stroke-dasharray="6.2 3.8"/>
<rect x="1264.3" y="604.1" width="192.0" height="14.2" fill="url(#hatchp)" stroke="none"/>
<rect x="1264.3" y="618.3" width="11.8" height="88.6" fill="url(#hatchp)" stroke="none"/>
<rect x="1445.2" y="618.3" width="11.1" height="88.6" fill="url(#hatchp)" stroke="none"/>
<path class="bk" d="M1264.3 706.9L1276.1 706.9L1276.1 618.3L1445.2 618.3L1445.2 706.9L1456.3 706.9"/>
<path class="bu" d="M1279.4 619.4h162.1v2.6h-162.1z"/>
<path class="bu" d="M1279.4 619.4h4.1v88.4h-4.1z"/>
<path class="bu" d="M1437.4 619.4h4.1v88.4h-4.1z"/>
<path class="ag" d="M1277.6 618.8H1443.3M1277.6 618.8V703.8M1443.3 618.8V703.8"/>
<path class="ed" d="M1325.5 618.3h6v2.2h-6z"/>
<path class="ed" d="M1379 618.3h6v2.2h-6z"/>
<path class="bx" d="M1276.7 623h2.4v5.6h-2.4z"/>
<path class="bx" d="M1442.2 623h2.4v5.6h-2.4z"/>
<path class="bx" d="M1276.7 653h2.4v5.6h-2.4z"/>
<path class="bx" d="M1442.2 653h2.4v5.6h-2.4z"/>
<path class="bx" d="M1276.7 695.8h2.4v5.6h-2.4z"/>
<path class="bx" d="M1442.2 695.8h2.4v5.6h-2.4z"/>
<path class="ee" d="M1358.7 622h3.2v73.7h-3.2z"/>
<path class="ef" d="M1283.5 656.3h75.2v4.3h-75.2z"/>
<path class="eg" d="M1283.5 695.2h77.4v5.2h-77.4z"/>
<path class="ci" d="M1283.5 697.6H1358.7"/>
<path class="ef" d="M1281.3 700.4h79.6v4.2h-79.6z"/>
<path class="ef" d="M1360.9 695.4h76.9v4h-76.9z"/>
<path class="eh" d="M1430.9 690.2h16.1v21.3h-16.1z"/>
<path class="s" d="M1348.9 621V696.4"/>
<path class="ad" d="M1347.8 623.1l2.2 -2.2M1347.8 659.4l2.2 -2.2M1347.8 696.3l2.2 -2.2"/>
<path class="s" d="M1348.9 658.3H1358"/>
<path class="u" d="M1345 695.2H1358"/>
<text class="ab" transform="matrix(0 -.725 1 0 1346.6 640.2)">EQ</text>
<text class="ab" transform="matrix(0 -.725 1 0 1346.6 676.3)">EQ</text>
<path class="s" d="M1281.3 685.6H1439.6"/>
<path class="ad" d="M1282.4 686.7l2.2 -2.2M1357.6 686.7l2.2 -2.2M1360.8 686.7l2.2 -2.2M1438.5 686.7l2.2 -2.2"/>
<text class="bi" transform="matrix(.725 0 0 1 1320.2 684)">550</text>
<text class="bi" transform="matrix(.725 0 0 1 1398.9 684)">570</text>
<path class="am" d="M1327.2 565.7L1340.6 565.7L1340.6 622"/>
<circle class="an" cx="1340.6" cy="622" r=".9"/>
<use href="#w18" x="1299.3" y="561.9"/>
<path class="am" d="M1400.4 565.7L1414.1 565.7L1414.1 640.6"/>
<circle class="an" cx="1414.1" cy="640.6" r=".9"/>
<use href="#w19" x="1372.4" y="561.9"/>
<path class="am" d="M1291.5 734.6L1276.7 734.6L1276.7 706.9"/>
<use href="#w20" x="1291.5" y="730.9"/>
<path class="am" d="M1350.2 733.7L1335 733.7L1335 689.3"/>
<circle class="an" cx="1335" cy="689.3" r=".9"/>
<use href="#w21" x="1350.2" y="729.6"/>
<path class="am" d="M1382.6 718L1373 718L1361.9 677.6"/>
<circle class="an" cx="1361.9" cy="677.6" r=".9"/>
<use href="#w22" x="1382.6" y="713.9"/>
<use href="#q48" x="1295.2" y="721"/>
<text class="cj" transform="matrix(.68 0 0 1 1306.2 721)">30X30MM</text>
<path class="cy" d="M1292.4 721.9H1325"/>
<path class="am" d="M1292.4 721.9L1292.4 660.6"/>
<circle class="an" cx="1292.4" cy="660.6" r=".9"/>
<use href="#q49" x="1421.1" y="720.8"/>
<path class="cy" d="M1416.5 721.7H1435"/>
<path class="am" d="M1416.5 721.7L1416.5 702.2"/>
<circle class="an" cx="1416.5" cy="702.2" r=".9"/>
<circle class="ai" cx="1420.7" cy="734.3" r="6.3"/>
<path class="aj" d="M1414.4 734.3H1427"/>
<text class="ak" transform="matrix(.744 0 0 1 1420.7 733.5)">c</text>
<text class="al" transform="matrix(.577 0 0 1 1420.7 738.2)">A0T.2-3</text>
<path class="am" d="M1427 734.3L1442.4 734.3L1442.4 710.6"/>
<circle class="an" cx="1442.4" cy="710.6" r=".9"/>
<path class="am" d="M1466.9 722L1454.4 722L1454.4 706.9"/>
<use href="#w23" x="1466.9" y="718"/>
<use href="#q51" x="1245.2" y="735"/>
<path class="u" d="M1243 735.8H1265"/>
<path class="am" d="M1265 735.8L1270.2 735.8L1270.2 706.9"/>
<use href="#q51" x="1473.9" y="737.2"/>
<path class="am" d="M1494 738.4L1449.8 738.4L1449.8 707.8"/>
<path class="ac" d="M1283.5 578.1H1437.4"/>
<path class="ad" d="M1281.9 579.7l3.2 -3.2M1435.8 579.7l3.2 -3.2"/>
<text class="v" transform="matrix(.698 0 0 1 1360.6 576.7)">1090</text>
<path class="ac" d="M1274.4 588.7H1446.5"/>
<path class="ad" d="M1274.5 589.9l2.4 -2.4"/>
<path class="s" d="M1275.7 588.7V599.4"/>
<path class="ad" d="M1282.3 589.9l2.4 -2.4"/>
<path class="s" d="M1283.5 588.7V599.4"/>
<path class="ad" d="M1357.5 589.9l2.4 -2.4"/>
<path class="s" d="M1358.7 588.7V599.4"/>
<path class="ad" d="M1360.7 589.9l2.4 -2.4"/>
<path class="s" d="M1361.9 588.7V599.4"/>
<path class="ad" d="M1436.2 589.9l2.4 -2.4"/>
<path class="s" d="M1437.4 588.7V599.4"/>
<path class="ad" d="M1444 589.9l2.4 -2.4"/>
<path class="s" d="M1445.2 588.7V599.4M1283.5 578.1V599.4M1437.4 578.1V599.4"/>
<text class="bi" transform="matrix(.725 0 0 1 1280 587)">55</text>
<text class="bi" transform="matrix(.725 0 0 1 1321.1 587)">535</text>
<text class="bi" transform="matrix(.725 0 0 1 1360.6 587)">20</text>
<text class="bi" transform="matrix(.725 0 0 1 1399.4 587)">535</text>
<text class="bi" transform="matrix(.725 0 0 1 1441.1 587)">55</text>
<path class="ac" d="M1277.2 761.3H1443.7"/>
<path class="ad" d="M1277.3 762.5l2.4 -2.4"/>
<path class="s" d="M1278.5 750.2V762.2"/>
<path class="ad" d="M1280.1 762.5l2.4 -2.4"/>
<path class="s" d="M1281.3 750.2V762.2"/>
<path class="ad" d="M1359.2 762.5l2.4 -2.4"/>
<path class="s" d="M1360.4 750.2V762.2"/>
<path class="ad" d="M1437.5 762.5l2.4 -2.4"/>
<path class="s" d="M1438.7 750.2V762.2"/>
<path class="ad" d="M1441.2 762.5l2.4 -2.4"/>
<path class="s" d="M1442.4 750.2V762.2"/>
<text class="bi" transform="matrix(.725 0 0 1 1285 759.6)">20</text>
<text class="bi" transform="matrix(.725 0 0 1 1321.1 759.6)">560</text>
<text class="bi" transform="matrix(.725 0 0 1 1399.8 759.6)">560</text>
<text class="bi" transform="matrix(.725 0 0 1 1435 759.6)">20</text>
<path class="ac" d="M1278.5 771.9H1442.4"/>
<path class="ad" d="M1276.9 773.5l3.2 -3.2M1440.8 773.5l3.2 -3.2"/>
<text class="v" transform="matrix(.698 0 0 1 1360.4 770.5)">1160</text>
<path class="s" d="M1278.5 761V772.6M1442.4 761V772.6"/>
<circle class="ai" cx="1360.4" cy="785.9" r="7.8"/>
<path class="aj" d="M1352.6 785.9H1368.2"/>
<text class="ei" transform="matrix(.744 0 0 1 1360.4 785.1)">3</text>
<text class="ej" transform="matrix(.577 0 0 1 1360.4 790.7)">D1T.4-</text>
<text class="cn" transform="matrix(.8 0 0 1 1370.2 793.8)">1:15</text>
<path class="ac" d="M1239.1 622V706.9"/>
<path class="ad" d="M1237.5 623.6l3.2 -3.2M1237.5 708.5l3.2 -3.2"/>
<path class="ac" d="M1249.8 616.8V712"/>
<path class="ad" d="M1248.7 619.4l2.2 -2.2"/>
<path class="s" d="M1248.8 618.3H1259.8"/>
<path class="ad" d="M1248.7 623.1l2.2 -2.2"/>
<path class="s" d="M1248.8 622H1259.8"/>
<path class="ad" d="M1248.7 696.3l2.2 -2.2"/>
<path class="s" d="M1248.8 695.2H1259.8"/>
<path class="ad" d="M1248.7 708l2.2 -2.2"/>
<path class="s" d="M1248.8 706.9H1259.8"/>
<path class="ad" d="M1248.7 709.9l2.2 -2.2"/>
<path class="s" d="M1248.8 708.8H1259.8M1238.1 622H1259.8M1238.1 706.9H1259.8"/>
<text class="ek" transform="matrix(0 -.725 1 0 1247.6 620)">30</text>
<text class="ek" transform="matrix(0 -.725 1 0 1247.6 657)">515</text>
<text class="ek" transform="matrix(0 -.725 1 0 1247.6 701.3)">85</text>
<text class="ek" transform="matrix(0 -.725 1 0 1247.6 710.6)">10</text>
<text class="ab" transform="matrix(0 -.725 1 0 1236.9 663)">600</text>
<path class="ac" d="M1481.3 622V706.9"/>
<path class="ad" d="M1479.7 623.6l3.2 -3.2M1479.7 708.5l3.2 -3.2"/>
<path class="ac" d="M1470.6 616.8V712"/>
<path class="ad" d="M1469.5 619.4l2.2 -2.2"/>
<path class="s" d="M1469.6 618.3H1460.6"/>
<path class="ad" d="M1469.5 623.1l2.2 -2.2"/>
<path class="s" d="M1469.6 622H1460.6"/>
<path class="ad" d="M1469.5 696.3l2.2 -2.2"/>
<path class="s" d="M1469.6 695.2H1460.6"/>
<path class="ad" d="M1469.5 708l2.2 -2.2"/>
<path class="s" d="M1469.6 706.9H1460.6"/>
<path class="ad" d="M1469.5 709.9l2.2 -2.2"/>
<path class="s" d="M1469.6 708.8H1460.6M1482.3 622H1460.6M1482.3 706.9H1460.6"/>
<text class="ek" transform="matrix(0 -.725 1 0 1468.4 620)">30</text>
<text class="ek" transform="matrix(0 -.725 1 0 1468.4 657)">515</text>
<text class="ek" transform="matrix(0 -.725 1 0 1468.4 701.3)">85</text>
<text class="ek" transform="matrix(0 -.725 1 0 1468.4 710.6)">10</text>
<text class="ab" transform="matrix(0 -.725 1 0 1479.1 663)">600</text>
<text class="dq" transform="matrix(0 -.725 1 0 1475.4 696)">5</text>
<rect x="1264.3" y="604.1" width="192.0" height="142.6" fill="none" stroke="#000" stroke-width="1.9" stroke-dasharray="6.1 4"/>
<rect x="1266.5" y="853.9" width="192.2" height="13.9" fill="url(#hatchp)" stroke="none"/>
<rect x="1266.5" y="867.8" width="12.0" height="87.7" fill="url(#hatchp)" stroke="none"/>
<rect x="1447.6" y="867.8" width="11.1" height="87.7" fill="url(#hatchp)" stroke="none"/>
<path class="bk" d="M1266.5 955.5L1278.5 955.5L1278.5 867.8L1447.6 867.8L1447.6 955.5L1458.7 955.5"/>
<path class="bu" d="M1281.3 869.1h162.6v2.8h-162.6z"/>
<path class="bu" d="M1281.3 869.1h4.1v87.8h-4.1z"/>
<path class="bu" d="M1439.6 869.1h4.3v87.8h-4.3z"/>
<path class="ag" d="M1279.5 868.5H1445.7M1279.5 868.5V952.9M1445.7 868.5V952.9"/>
<path class="ed" d="M1327.5 867.8h6v2.2h-6z"/>
<path class="ed" d="M1381 867.8h6v2.2h-6z"/>
<path class="bx" d="M1279.1 872.9h2.4v5.6h-2.4z"/>
<path class="bx" d="M1444.6 872.9h2.4v5.6h-2.4z"/>
<path class="bx" d="M1279.1 902.9h2.4v5.6h-2.4z"/>
<path class="bx" d="M1444.6 902.9h2.4v5.6h-2.4z"/>
<path class="bx" d="M1279.1 944.9h2.4v5.6h-2.4z"/>
<path class="bx" d="M1444.6 944.9h2.4v5.6h-2.4z"/>
<path class="bp" d="M1361.5 871.9h2.6v78h-2.6z"/>
<path class="eg" d="M1285.4 942.6h76.1v7.4h-76.1z"/>
<path class="ci" d="M1285.4 945H1361.5M1285.4 947.5H1361.5"/>
<path class="ef" d="M1361.9 944.8h77.7v4.1h-77.7z"/>
<path class="ef" d="M1288.7 950h73.2v4.1h-73.2z"/>
<path class="el" d="M1432.2 940.2h15.8v21.3h-15.8z"/>
<path class="s" d="M1284 935.6H1441"/>
<path class="ad" d="M1284.3 936.7l2.2 -2.2M1287.6 936.7l2.2 -2.2M1360.4 936.7l2.2 -2.2M1363 936.7l2.2 -2.2M1438.5 936.7l2.2 -2.2"/>
<text class="bi" transform="matrix(.725 0 0 1 1289.4 934)">15</text>
<text class="bi" transform="matrix(.725 0 0 1 1323.5 934)">535</text>
<text class="bi" transform="matrix(.725 0 0 1 1400.4 934)">555</text>
<text class="bi" transform="matrix(.725 0 0 1 1436.5 934)">15</text>
<path class="am" d="M1329.8 815.6L1343 815.6L1343 871.9"/>
<circle class="an" cx="1343" cy="871.9" r=".9"/>
<use href="#w24" x="1301.1" y="811.9"/>
<path class="am" d="M1403.1 815.6L1416.1 815.6L1416.1 890"/>
<circle class="an" cx="1416.1" cy="890" r=".9"/>
<use href="#w25" x="1374.3" y="811.9"/>
<path class="am" d="M1285.9 977.2L1278 977.2L1278 956.9"/>
<use href="#w26" x="1285.9" y="973.5"/>
<path class="am" d="M1332.2 968L1317 968L1317 939.3"/>
<circle class="an" cx="1317" cy="939.3" r=".9"/>
<use href="#w27" x="1332.2" y="964.3"/>
<path class="am" d="M1385.4 968L1373 968L1364.1 927.8"/>
<circle class="an" cx="1364.1" cy="927.8" r=".9"/>
<use href="#w28" x="1385.4" y="964.3"/>
<circle class="ai" cx="1421.7" cy="980" r="6"/>
<path class="aj" d="M1415.7 980H1427.7"/>
<text class="em" transform="matrix(.744 0 0 1 1421.7 979.2)">c</text>
<text class="en" transform="matrix(.577 0 0 1 1421.7 983.7)">A0T.2-3</text>
<path class="am" d="M1427.7 980L1437.8 980L1437.8 961.5M1468.7 972L1456.3 972L1456.3 956.9"/>
<use href="#w29" x="1468.7" y="968"/>
<use href="#q51" x="1247" y="977"/>
<path class="am" d="M1245 977.8L1273 977.8L1273 956.9"/>
<use href="#q51" x="1475.7" y="987.2"/>
<path class="am" d="M1496 988.3L1452.6 988.3L1452.6 956.9"/>
<path class="ac" d="M1285.9 828H1439.6"/>
<path class="ad" d="M1284.3 829.6l3.2 -3.2M1438 829.6l3.2 -3.2"/>
<text class="v" transform="matrix(.698 0 0 1 1362.8 826.6)">1090</text>
<path class="ac" d="M1276.7 838.5H1448.9"/>
<path class="ad" d="M1276.8 839.7l2.4 -2.4"/>
<path class="s" d="M1278 838.5V849.3"/>
<path class="ad" d="M1284.7 839.7l2.4 -2.4"/>
<path class="s" d="M1285.9 838.5V849.3"/>
<path class="ad" d="M1360.3 839.7l2.4 -2.4"/>
<path class="s" d="M1361.5 838.5V849.3"/>
<path class="ad" d="M1362.9 839.7l2.4 -2.4"/>
<path class="s" d="M1364.1 838.5V849.3"/>
<path class="ad" d="M1438.4 839.7l2.4 -2.4"/>
<path class="s" d="M1439.6 838.5V849.3"/>
<path class="ad" d="M1446.4 839.7l2.4 -2.4"/>
<path class="s" d="M1447.6 838.5V849.3M1285.9 828V849.3M1439.6 828V849.3"/>
<text class="bi" transform="matrix(.725 0 0 1 1282.2 836.8)">55</text>
<text class="bi" transform="matrix(.725 0 0 1 1323.5 836.8)">535</text>
<text class="bi" transform="matrix(.725 0 0 1 1362.8 836.8)">20</text>
<text class="bi" transform="matrix(.725 0 0 1 1401.7 836.8)">535</text>
<text class="bi" transform="matrix(.725 0 0 1 1443.3 836.8)">55</text>
<path class="ac" d="M1279.6 1009.6H1446.5"/>
<path class="ad" d="M1279.7 1010.8l2.4 -2.4"/>
<path class="s" d="M1280.9 998V1010.5"/>
<path class="ad" d="M1282.3 1010.8l2.4 -2.4"/>
<path class="s" d="M1283.5 998V1010.5"/>
<path class="ad" d="M1361.6 1010.8l2.4 -2.4"/>
<path class="s" d="M1362.8 998V1010.5"/>
<path class="ad" d="M1441.2 1010.8l2.4 -2.4"/>
<path class="s" d="M1442.4 998V1010.5"/>
<path class="ad" d="M1444 1010.8l2.4 -2.4"/>
<path class="s" d="M1445.2 998V1010.5"/>
<text class="bi" transform="matrix(.725 0 0 1 1288.7 1007.8)">15</text>
<text class="bi" transform="matrix(.725 0 0 1 1324.8 1007.8)">545</text>
<text class="bi" transform="matrix(.725 0 0 1 1400.7 1007.8)">545</text>
<text class="bi" transform="matrix(.725 0 0 1 1436.9 1007.8)">15</text>
<text class="aw" transform="matrix(.725 0 0 1 1284 1015.8)">20</text>
<text class="aw" transform="matrix(.725 0 0 1 1441.5 1015.6)">20</text>
<path class="ac" d="M1280.9 1020.2H1445.2"/>
<path class="ad" d="M1279.3 1021.8l3.2 -3.2M1443.6 1021.8l3.2 -3.2"/>
<text class="v" transform="matrix(.698 0 0 1 1362.8 1018.8)">1160</text>
<path class="s" d="M1280.9 1009V1021M1445.2 1009V1021"/>
<path class="ac" d="M1241.5 871.9V956.9"/>
<path class="ad" d="M1239.9 873.5l3.2 -3.2M1239.9 958.5l3.2 -3.2"/>
<path class="ac" d="M1251.7 866.5V962"/>
<path class="ad" d="M1250.6 868.9l2.2 -2.2"/>
<path class="s" d="M1250.7 867.8H1261.7"/>
<path class="ad" d="M1250.6 873l2.2 -2.2"/>
<path class="s" d="M1250.7 871.9H1261.7"/>
<path class="ad" d="M1250.6 945.9l2.2 -2.2"/>
<path class="s" d="M1250.7 944.8H1261.7"/>
<path class="ad" d="M1250.6 958l2.2 -2.2"/>
<path class="s" d="M1250.7 956.9H1261.7"/>
<path class="ad" d="M1250.6 959.9l2.2 -2.2"/>
<path class="s" d="M1250.7 958.8H1261.7M1240.5 871.9H1261.7M1240.5 956.9H1261.7"/>
<text class="ek" transform="matrix(0 -.725 1 0 1249.5 869.6)">30</text>
<text class="ek" transform="matrix(0 -.725 1 0 1249.5 907.6)">515</text>
<text class="ek" transform="matrix(0 -.725 1 0 1249.5 950.4)">85</text>
<text class="ek" transform="matrix(0 -.725 1 0 1249.5 960.6)">10</text>
<text class="ab" transform="matrix(0 -.725 1 0 1239.3 915)">610</text>
<path class="ac" d="M1484.1 871.9V956.9"/>
<path class="ad" d="M1482.5 873.5l3.2 -3.2M1482.5 958.5l3.2 -3.2"/>
<path class="ac" d="M1473 866.5V962"/>
<path class="ad" d="M1471.9 868.9l2.2 -2.2"/>
<path class="s" d="M1472 867.8H1463"/>
<path class="ad" d="M1471.9 873l2.2 -2.2"/>
<path class="s" d="M1472 871.9H1463"/>
<path class="ad" d="M1471.9 945.9l2.2 -2.2"/>
<path class="s" d="M1472 944.8H1463"/>
<path class="ad" d="M1471.9 958l2.2 -2.2"/>
<path class="s" d="M1472 956.9H1463"/>
<path class="ad" d="M1471.9 959.9l2.2 -2.2"/>
<path class="s" d="M1472 958.8H1463M1485.1 871.9H1463M1485.1 956.9H1463"/>
<text class="ek" transform="matrix(0 -.725 1 0 1470.8 869.6)">30</text>
<text class="ek" transform="matrix(0 -.725 1 0 1470.8 907.6)">515</text>
<text class="ek" transform="matrix(0 -.725 1 0 1470.8 950.4)">85</text>
<text class="ek" transform="matrix(0 -.725 1 0 1470.8 960.6)">10</text>
<text class="ab" transform="matrix(0 -.725 1 0 1481.9 915)">610</text>
<text class="dq" transform="matrix(0 -.725 1 0 1477.6 945)">5</text>
<circle class="ai" cx="1362.8" cy="1035.6" r="7.8"/>
<path class="aj" d="M1355 1035.6H1370.6"/>
<text class="ei" transform="matrix(.744 0 0 1 1362.8 1034.8)">4</text>
<text class="ej" transform="matrix(.577 0 0 1 1362.8 1040.4)">D1T.4-</text>
<text class="cn" transform="matrix(.8 0 0 1 1372.6 1043.4)">1:15</text>
<rect x="1266.5" y="853.9" width="192.2" height="140.5" fill="none" stroke="#000" stroke-width="1.9" stroke-dasharray="6.1 4"/>
<use href="#wm0" transform="translate(-5.5 379.8) rotate(-42.8)"/><use href="#wm0" transform="translate(536.5 396.8) rotate(-42.8)"/><use href="#wm0" transform="translate(1094 390) rotate(-43.8)"/><use href="#wm0" transform="translate(-153 748.6) rotate(-42.8)"/><use href="#wm0" transform="translate(400 744.4) rotate(-42.8)"/><use href="#wm0" transform="translate(951.5 746.8) rotate(-42.8)"/><use href="#wm0" transform="translate(1503 745) rotate(-42.8)"/>
<g fill="none" stroke="#fff" stroke-linecap="round" stroke-linejoin="round">
<rect x="279.8" y="483.6" width="71.9" height="72.7" rx="10.4" fill="#fff" stroke="none"/>
<polyline points="370.4,494.7 424.4,494.7" stroke-width="16.31"/>
<polyline points="396.5,490.7 396.5,495.2" stroke-width="17.85"/>
<polyline points="377.5,505.7 368.4,514.4" stroke-width="14.29"/>
<polyline points="415.5,505.7 424.7,514.4" stroke-width="14.29"/>
<polyline points="370.0,535.8 424.4,535.8" stroke-width="14.88"/>
<polyline points="381.1,541.5 375.1,550.1 417.9,550.1 413.2,541.5" stroke-width="14.29"/>
<polyline points="381.1,545.1 412.6,545.1" stroke-width="11.32"/>
<polyline points="475.7,491.4 475.7,498.8" stroke-width="19.40"/>
<polyline points="447.6,499.1 504.0,499.1" stroke-width="17.49"/>
<polyline points="478.7,507.7 465.6,516.8 447.6,526.3" stroke-width="17.02"/>
<polyline points="461.6,524.9 461.6,548.4" stroke-width="18.21"/>
<polyline points="461.6,547.7 478.5,545.3" stroke-width="17.26"/>
<polyline points="482.9,510.6 492.4,530.8 504.6,547.7" stroke-width="18.21"/>
<polyline points="501.3,518.5 492.7,525.5" stroke-width="15.83"/>
<polyline points="663.0,491.4 663.0,498.8" stroke-width="19.40"/>
<polyline points="634.9,499.1 691.3,499.1" stroke-width="17.49"/>
<polyline points="666.0,507.7 652.9,516.8 634.9,526.3" stroke-width="17.02"/>
<polyline points="648.9,524.9 648.9,548.4" stroke-width="18.21"/>
<polyline points="648.9,547.7 665.8,545.3" stroke-width="17.26"/>
<polyline points="670.2,510.6 679.7,530.8 691.9,547.7" stroke-width="18.21"/>
<polyline points="688.6,518.5 680.0,525.5" stroke-width="15.83"/>
<polyline points="535.7,490.4 535.7,549.5" stroke-width="17.49"/>
<polyline points="526.5,501.9 542.9,501.9" stroke-width="15.83"/>
<polyline points="531.2,510.6 525.0,530.2" stroke-width="14.64"/>
<polyline points="584.4,493.3 554.6,493.3 554.6,547.9 585.9,547.9" stroke-width="17.02"/>
<rect x="553.5" y="501.8" width="37.2" height="36.7" rx="6.3" fill="#fff" stroke="none"/>
<polyline points="722.6,491.0 722.6,548.9" stroke-width="17.02"/>
<polyline points="712.8,501.7 712.8,535.6" stroke-width="12.98"/>
<polyline points="712.8,501.4 732.3,501.4" stroke-width="13.69"/>
<polyline points="732.3,501.7 732.3,535.6" stroke-width="12.98"/>
<rect x="733.5" y="483.6" width="47.0" height="35.3" rx="8.0" fill="#fff" stroke="none"/>
<rect x="745.1" y="494.9" width="25.1" height="10.8" rx="5.1" fill="#fff" stroke="none"/>
<rect x="745.1" y="505.6" width="24.4" height="10.8" rx="5.1" fill="#fff" stroke="none"/>
<rect x="734.1" y="517.0" width="45.2" height="40.5" rx="8.0" fill="#fff" stroke="none"/>
<polyline points="803.1,490.7 809.1,496.7" stroke-width="15.83"/>
<polyline points="796.5,508.5 796.5,549.5" stroke-width="17.49"/>
<polyline points="825.3,494.0 849.9,494.0 849.9,548.9 838.8,548.9" stroke-width="17.26"/>
<polyline points="884.7,491.2 884.7,498.8" stroke-width="18.21"/>
<polyline points="873.5,500.5 895.4,500.5" stroke-width="16.31"/>
<polyline points="882.9,509.5 879.4,532.0 873.1,549.8" stroke-width="15.83"/>
<polyline points="890.6,514.8 893.3,532.0 889.5,547.7" stroke-width="15.83"/>
<polyline points="880.5,514.2 890.6,514.2" stroke-width="6.56"/>
<polyline points="909.1,490.2 909.1,497.0" stroke-width="17.49"/>
<polyline points="909.1,497.8 932.5,497.8" stroke-width="17.26"/>
<polyline points="907.3,505.3 900.7,511.8" stroke-width="13.69"/>
<rect x="895.3" y="503.4" width="44.6" height="54.8" rx="9.8" fill="#fff" stroke="none"/>
<rect x="950.7" y="486.3" width="65.6" height="20.5" rx="8.4" fill="#fff" stroke="none"/>
<rect x="972.3" y="497.3" width="22.0" height="45.8" rx="2.1" fill="#fff" stroke="none"/>
<rect x="946.2" y="535.3" width="74.5" height="20.8" rx="8.4" fill="#fff" stroke="none"/>
<polyline points="1064.9,491.9 1064.9,514.2" stroke-width="20.23"/>
<polyline points="1037.6,505.8 1092.2,505.8" stroke-width="18.92"/>
<polyline points="1062.5,516.0 1054.2,530.8 1037.0,548.1" stroke-width="18.44"/>
<polyline points="1070.8,522.5 1079.2,534.4 1092.2,548.1" stroke-width="18.44"/>
<polyline points="1124.4,490.4 1124.4,549.5" stroke-width="17.26"/>
<polyline points="1116.2,502.2 1132.0,502.2" stroke-width="14.88"/>
<polyline points="1119.8,510.6 1114.3,531.1" stroke-width="14.64"/>
<polyline points="1148.1,490.0 1151.6,496.4" stroke-width="14.29"/>
<polyline points="1171.8,490.0 1168.3,496.4" stroke-width="14.29"/>
<polyline points="1147.1,502.3 1174.8,502.3" stroke-width="14.88"/>
<polyline points="1150.4,519.1 1172.1,519.1" stroke-width="14.29"/>
<polyline points="1142.1,537.5 1175.0,537.5" stroke-width="15.59"/>
<polyline points="1158.2,502.3 1158.2,549.5" stroke-width="16.54"/>
<polyline points="1197.0,491.0 1202.9,497.0" stroke-width="15.83"/>
<polyline points="1193.4,511.8 1202.9,511.8" stroke-width="15.12"/>
<polyline points="1203.0,511.8 1203.0,546.3" stroke-width="15.83"/>
<polyline points="1203.0,548.9 1211.6,545.3" stroke-width="12.27"/>
<polyline points="1224.9,490.4 1229.1,497.0" stroke-width="14.64"/>
<polyline points="1248.7,490.4 1244.5,497.0" stroke-width="14.64"/>
<polyline points="1221.9,502.6 1251.6,502.6" stroke-width="15.36"/>
<polyline points="1222.3,519.1 1251.0,519.1" stroke-width="14.64"/>
<polyline points="1220.6,536.8 1252.5,536.8" stroke-width="16.31"/>
<polyline points="1236.8,502.6 1236.8,549.4" stroke-width="17.02"/>
<rect x="1269.1" y="484.0" width="69.2" height="72.7" rx="10.8" fill="#fff" stroke="none"/>
</g>
<path d="M600.1 552.8 L614.2 491.6 L619.3 491.6 L605.2 552.8Z" fill="#3b5a25" stroke="#fff" stroke-width="1.2" paint-order="stroke"/>
<g fill="none" stroke="#3b5a25" stroke-linecap="round" stroke-linejoin="round">
<rect x="281.3" y="485.1" width="68.9" height="69.7" rx="8.9" fill="#3b5a25" stroke="none"/>
<polyline points="370.4,494.7 424.4,494.7" stroke-width="13.31"/>
<polyline points="396.5,490.7 396.5,495.2" stroke-width="14.85"/>
<polyline points="377.5,505.7 368.4,514.4" stroke-width="11.29"/>
<polyline points="415.5,505.7 424.7,514.4" stroke-width="11.29"/>
<polyline points="370.0,535.8 424.4,535.8" stroke-width="11.88"/>
<polyline points="381.1,541.5 375.1,550.1 417.9,550.1 413.2,541.5" stroke-width="11.29"/>
<polyline points="381.1,545.1 412.6,545.1" stroke-width="8.32"/>
<polyline points="475.7,491.4 475.7,498.8" stroke-width="16.40"/>
<polyline points="447.6,499.1 504.0,499.1" stroke-width="14.49"/>
<polyline points="478.7,507.7 465.6,516.8 447.6,526.3" stroke-width="14.02"/>
<polyline points="461.6,524.9 461.6,548.4" stroke-width="15.21"/>
<polyline points="461.6,547.7 478.5,545.3" stroke-width="14.26"/>
<polyline points="482.9,510.6 492.4,530.8 504.6,547.7" stroke-width="15.21"/>
<polyline points="501.3,518.5 492.7,525.5" stroke-width="12.83"/>
<polyline points="663.0,491.4 663.0,498.8" stroke-width="16.40"/>
<polyline points="634.9,499.1 691.3,499.1" stroke-width="14.49"/>
<polyline points="666.0,507.7 652.9,516.8 634.9,526.3" stroke-width="14.02"/>
<polyline points="648.9,524.9 648.9,548.4" stroke-width="15.21"/>
<polyline points="648.9,547.7 665.8,545.3" stroke-width="14.26"/>
<polyline points="670.2,510.6 679.7,530.8 691.9,547.7" stroke-width="15.21"/>
<polyline points="688.6,518.5 680.0,525.5" stroke-width="12.83"/>
<polyline points="535.7,490.4 535.7,549.5" stroke-width="14.49"/>
<polyline points="526.5,501.9 542.9,501.9" stroke-width="12.83"/>
<polyline points="531.2,510.6 525.0,530.2" stroke-width="11.64"/>
<polyline points="584.4,493.3 554.6,493.3 554.6,547.9 585.9,547.9" stroke-width="14.02"/>
<rect x="555.0" y="503.3" width="34.2" height="33.7" rx="4.8" fill="#3b5a25" stroke="none"/>
<polyline points="722.6,491.0 722.6,548.9" stroke-width="14.02"/>
<polyline points="712.8,501.7 712.8,535.6" stroke-width="9.98"/>
<polyline points="712.8,501.4 732.3,501.4" stroke-width="10.69"/>
<polyline points="732.3,501.7 732.3,535.6" stroke-width="9.98"/>
<rect x="735.0" y="485.1" width="44.0" height="32.3" rx="6.5" fill="#3b5a25" stroke="none"/>
<rect x="735.6" y="518.5" width="42.2" height="37.5" rx="6.5" fill="#3b5a25" stroke="none"/>
<polyline points="803.1,490.7 809.1,496.7" stroke-width="12.83"/>
<polyline points="796.5,508.5 796.5,549.5" stroke-width="14.49"/>
<polyline points="825.3,494.0 849.9,494.0 849.9,548.9 838.8,548.9" stroke-width="14.26"/>
<polyline points="884.7,491.2 884.7,498.8" stroke-width="15.21"/>
<polyline points="873.5,500.5 895.4,500.5" stroke-width="13.31"/>
<polyline points="882.9,509.5 879.4,532.0 873.1,549.8" stroke-width="12.83"/>
<polyline points="890.6,514.8 893.3,532.0 889.5,547.7" stroke-width="12.83"/>
<polyline points="880.5,514.2 890.6,514.2" stroke-width="3.56"/>
<polyline points="909.1,490.2 909.1,497.0" stroke-width="14.49"/>
<polyline points="909.1,497.8 932.5,497.8" stroke-width="14.26"/>
<polyline points="907.3,505.3 900.7,511.8" stroke-width="10.69"/>
<rect x="896.8" y="504.9" width="41.6" height="51.8" rx="8.3" fill="#3b5a25" stroke="none"/>
<rect x="952.2" y="487.8" width="62.6" height="17.5" rx="6.9" fill="#3b5a25" stroke="none"/>
<rect x="973.8" y="498.8" width="19.0" height="42.8" rx="0.6" fill="#3b5a25" stroke="none"/>
<rect x="947.7" y="536.8" width="71.5" height="17.8" rx="6.9" fill="#3b5a25" stroke="none"/>
<polyline points="1064.9,491.9 1064.9,514.2" stroke-width="17.23"/>
<polyline points="1037.6,505.8 1092.2,505.8" stroke-width="15.92"/>
<polyline points="1062.5,516.0 1054.2,530.8 1037.0,548.1" stroke-width="15.44"/>
<polyline points="1070.8,522.5 1079.2,534.4 1092.2,548.1" stroke-width="15.44"/>
<polyline points="1124.4,490.4 1124.4,549.5" stroke-width="14.26"/>
<polyline points="1116.2,502.2 1132.0,502.2" stroke-width="11.88"/>
<polyline points="1119.8,510.6 1114.3,531.1" stroke-width="11.64"/>
<polyline points="1148.1,490.0 1151.6,496.4" stroke-width="11.29"/>
<polyline points="1171.8,490.0 1168.3,496.4" stroke-width="11.29"/>
<polyline points="1147.1,502.3 1174.8,502.3" stroke-width="11.88"/>
<polyline points="1150.4,519.1 1172.1,519.1" stroke-width="11.29"/>
<polyline points="1142.1,537.5 1175.0,537.5" stroke-width="12.59"/>
<polyline points="1158.2,502.3 1158.2,549.5" stroke-width="13.54"/>
<polyline points="1197.0,491.0 1202.9,497.0" stroke-width="12.83"/>
<polyline points="1193.4,511.8 1202.9,511.8" stroke-width="12.12"/>
<polyline points="1203.0,511.8 1203.0,546.3" stroke-width="12.83"/>
<polyline points="1203.0,548.9 1211.6,545.3" stroke-width="9.27"/>
<polyline points="1224.9,490.4 1229.1,497.0" stroke-width="11.64"/>
<polyline points="1248.7,490.4 1244.5,497.0" stroke-width="11.64"/>
<polyline points="1221.9,502.6 1251.6,502.6" stroke-width="12.36"/>
<polyline points="1222.3,519.1 1251.0,519.1" stroke-width="11.64"/>
<polyline points="1220.6,536.8 1252.5,536.8" stroke-width="13.31"/>
<polyline points="1236.8,502.6 1236.8,549.4" stroke-width="14.02"/>
<rect x="1270.6" y="485.5" width="66.2" height="69.7" rx="9.3" fill="#3b5a25" stroke="none"/>
<polyline points="307.8,505.7 306.2,518.4 295.2,533.0" stroke="#fff" stroke-width="18.06"/>
<polyline points="307.8,505.7 306.2,518.4 295.2,533.0" stroke-width="14.02"/>
<polyline points="326.1,505.7 326.1,530.6 335.1,532.0" stroke="#fff" stroke-width="18.06"/>
<polyline points="326.1,505.7 326.1,530.6 335.1,532.0" stroke-width="14.02"/>
<rect x="373.6" y="501.9" width="47.3" height="34.7" rx="7.4" fill="#fff" stroke="none"/>
<rect x="375.0" y="503.3" width="44.4" height="31.8" rx="5.9" fill="#3b5a25" stroke="none"/>
<polyline points="389.8,543.7 403.3,543.7" stroke="#fff" stroke-width="2.85"/>
<polyline points="469.2,521.3 469.2,538.3 480.8,538.0 486.1,545.7" stroke="#fff" stroke-width="0.95"/>
<polyline points="656.5,521.3 656.5,538.3 668.1,538.0 673.4,545.7" stroke="#fff" stroke-width="0.95"/>
<polyline points="541.1,516.8 545.8,523.1" stroke="#fff" stroke-width="15.21"/>
<polyline points="541.1,516.8 545.8,523.1" stroke-width="11.88"/>
<polyline points="430.0,475.0 430.0,475.0" stroke="#fff" stroke-width="0.12"/>
<rect x="561.6" y="516.0" width="14.0" height="9.6" rx="1.0" fill="#fff" stroke="none"/>
<polyline points="562.1,502.0 589.8,502.0" stroke="#fff" stroke-width="2.61"/>
<polyline points="562.4,539.2 590.4,539.2" stroke="#fff" stroke-width="3.09"/>
<polyline points="718.3,509.5 718.3,535.0 716.6,539.7" stroke="#fff" stroke-width="1.19"/>
<polyline points="727.1,509.5 727.1,535.0 728.8,539.7" stroke="#fff" stroke-width="1.19"/>
<rect x="743.7" y="493.8" width="27.9" height="22.3" rx="4.8" fill="#fff" stroke="none"/>
<polyline points="741.0,517.9 749.9,519.2 766.5,519.2 776.0,517.9" stroke="#fff" stroke-width="1.07"/>
<rect x="751.1" y="525.1" width="12.6" height="3.6" rx="0.6" fill="#fff" stroke="none"/>
<rect x="751.1" y="533.8" width="12.6" height="3.6" rx="0.6" fill="#fff" stroke="none"/>
<rect x="751.1" y="542.4" width="12.6" height="3.6" rx="0.6" fill="#fff" stroke="none"/>
<rect x="804.1" y="500.1" width="39.1" height="44.9" rx="8.0" fill="#fff" stroke="none"/>
<rect x="806.1" y="502.1" width="35.0" height="40.9" rx="5.9" fill="#3b5a25" stroke="none"/>
<polyline points="902.3,492.8 903.5,502.9 894.8,511.2 895.6,527.9 900.7,533.0" stroke="#fff" stroke-width="1.90"/>
<polyline points="878.2,545.1 886.1,539.7 886.8,524.9" stroke="#fff" stroke-width="1.54"/>
<polyline points="913.0,509.5 913.5,511.8" stroke="#fff" stroke-width="1.43"/>
<polyline points="913.0,527.9 913.2,540.1 921.5,541.3 927.7,535.0 937.0,533.5" stroke="#fff" stroke-width="1.43"/>
<polyline points="925.1,523.7 920.1,530.8 919.7,539.2" stroke="#fff" stroke-width="1.43"/>
<polyline points="906.7,510.6 916.8,504.1 926.3,503.5 929.3,507.7" stroke="#fff" stroke-width="1.43"/>
<polyline points="1132.1,516.1 1136.4,522.0" stroke="#fff" stroke-width="14.73"/>
<polyline points="1132.1,516.1 1136.4,522.0" stroke-width="11.41"/>
<polyline points="1209.7,530.8 1210.6,539.2 1215.4,545.1" stroke="#fff" stroke-width="1.07"/>
<rect x="1283.7" y="497.8" width="39.2" height="44.3" rx="1.4" fill="#fff" stroke="none"/>
<polyline points="391.4,514.2 416.4,514.2" stroke="#fff" stroke-width="3.33"/>
<polyline points="391.4,522.5 415.7,522.5" stroke="#fff" stroke-width="3.33"/>
<polyline points="390.9,532.0 412.1,532.0" stroke="#fff" stroke-width="3.33"/>
<rect x="746.6" y="496.4" width="22.1" height="7.8" rx="3.6" fill="#3b5a25" stroke="none"/>
<rect x="746.6" y="507.1" width="21.4" height="7.8" rx="3.6" fill="#3b5a25" stroke="none"/>
<rect x="818.2" y="513.3" width="10.3" height="4.3" rx="0.7" fill="#fff" stroke="none"/>
<rect x="818.2" y="526.1" width="10.3" height="4.3" rx="0.7" fill="#fff" stroke="none"/>
<polyline points="1302.7,499.4 1289.1,508.9" stroke="#fff" stroke-width="14.73"/>
<polyline points="1302.7,499.4 1289.1,508.9" stroke-width="11.88"/>
<polyline points="1303.9,502.9 1315.8,505.3 1306.3,514.8 1288.5,522.5" stroke="#fff" stroke-width="14.26"/>
<polyline points="1303.9,502.9 1315.8,505.3 1306.3,514.8 1288.5,522.5" stroke-width="11.41"/>
<polyline points="1299.2,511.2 1311.6,519.2 1320.9,525.1" stroke="#fff" stroke-width="14.26"/>
<polyline points="1299.2,511.2 1311.6,519.2 1320.9,525.1" stroke-width="11.41"/>
<polyline points="1301.2,524.7 1309.8,528.5" stroke="#fff" stroke-width="11.88"/>
<polyline points="1301.2,524.7 1309.8,528.5" stroke-width="9.03"/>
<polyline points="1297.4,537.0 1311.6,541.3" stroke="#fff" stroke-width="12.83"/>
<polyline points="1297.4,537.0 1311.6,541.3" stroke-width="9.98"/>
<polyline points="1306.9,507.1 1305.1,509.5 1303.3,507.3" stroke="#fff" stroke-width="1.07"/>
</g>
<g opacity=".3"><use href="#wm0" transform="translate(536.5 396.8) rotate(-42.8)"/><use href="#wm0" transform="translate(1094 390) rotate(-43.8)"/><use href="#wm0" transform="translate(-153 748.6) rotate(-42.8)"/><use href="#wm0" transform="translate(400 744.4) rotate(-42.8)"/><use href="#wm0" transform="translate(951.5 746.8) rotate(-42.8)"/></g>
<text transform="matrix(1.055 0 0 1 1320.7 1003.9)" style="font-family:'Liberation Sans','Noto Sans CJK SC',sans-serif;font-size:61.6px;font-weight:bold;text-anchor:start;fill:#fff;fill-opacity:.78;stroke:#8f8f8f;stroke-width:1px">知</text>
<text transform="matrix(1.002 0 0 1 1385.6 1003.1)" style="font-family:'Liberation Sans','Noto Sans CJK SC',sans-serif;font-size:60.6px;font-weight:bold;text-anchor:start;fill:#fff;fill-opacity:.78;stroke:#8f8f8f;stroke-width:1px">末</text>
<circle cx="1421.4" cy="979.4" r="4.2" fill="none" stroke="#aaa" stroke-width=".7"/>
<text transform="matrix(.921 0 0 1 1275.4 1053)" style="font-size:34.5px;text-anchor:start;fill:#fff;fill-opacity:.78;stroke:#8f8f8f;stroke-width:1px">ID: 1163140261</text>
</svg>
</body></html>
